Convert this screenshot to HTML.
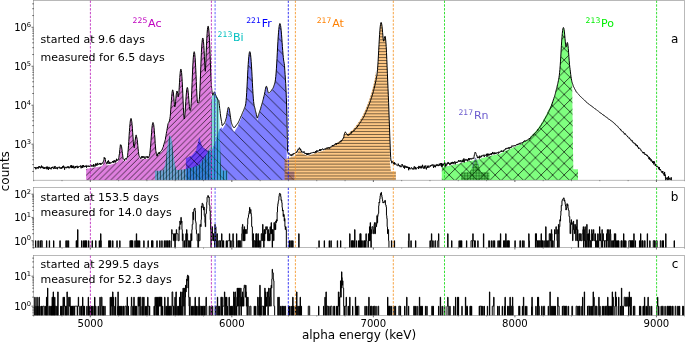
<!DOCTYPE html>
<html><head><meta charset="utf-8"><style>
html,body{margin:0;padding:0;background:#fff;}
body{width:685px;height:342px;overflow:hidden;}
svg{display:block;}
</style></head><body>
<svg width="685" height="342" viewBox="0 0 685 342">
<defs>
<clipPath id="cT"><rect x="33.5" y="0.5" width="651.0" height="179.7"/></clipPath>
<clipPath id="cM"><rect x="33.5" y="187.6" width="651.0" height="60.099999999999994"/></clipPath>
<clipPath id="cB"><rect x="33.5" y="255.5" width="651.0" height="60.0"/></clipPath>
<pattern id="hNE2" patternUnits="userSpaceOnUse" x="4.25" y="0" width="5.85" height="5.85"><path d="M-1,6.85 L6.85,-1 M-1,1 L1,-1 M4.85,6.85 L6.85,4.85 " stroke="rgba(0,0,0,0.78)" stroke-width="0.85"/></pattern>
<pattern id="hNW" patternUnits="userSpaceOnUse" x="10.1" y="0" width="11.5" height="11.5"><path d="M-1,-1 L12.5,12.5 M10.5,-1 L12.5,1 M-1,10.5 L1,12.5 " stroke="rgba(0,0,0,0.78)" stroke-width="0.85"/></pattern>
<pattern id="hX" patternUnits="userSpaceOnUse" x="6.4" y="-3.3" width="11.5" height="11.5"><path d="M-1,12.5 L12.5,-1 M-1,1 L1,-1 M10.5,12.5 L12.5,10.5 M-1,-1 L12.5,12.5 M10.5,-1 L12.5,1 M-1,10.5 L1,12.5 " stroke="rgba(0,0,0,0.78)" stroke-width="0.85"/></pattern>
<pattern id="hH" patternUnits="userSpaceOnUse" x="0" y="-0.15999999999999992" width="10" height="2.96"><path d="M0,1.48 H10" stroke="rgba(0,0,0,0.62)" stroke-width="0.85"/></pattern>
<pattern id="hV" patternUnits="userSpaceOnUse" x="-0.040000000000000036" y="0" width="3.0" height="10"><path d="M1.5,0 V10" stroke="rgba(0,0,0,0.62)" stroke-width="0.85"/></pattern>
<pattern id="hP" patternUnits="userSpaceOnUse" x="0" y="0" width="2.86" height="2.86"><path d="M1.43,0 V2.86 M0,1.43 H2.86" stroke="rgba(0,70,0,0.55)" stroke-width="0.8"/></pattern>
</defs>
<rect width="685" height="342" fill="#fff"/>
<g clip-path="url(#cT)">
<polygon points="86.10,180.20 86.10,168.60 86.60,168.94 86.90,168.88 87.20,168.83 87.50,168.77 87.80,168.71 88.10,168.66 88.40,168.60 88.70,168.54 89.00,168.49 89.30,168.43 89.60,168.37 89.90,168.32 90.20,168.26 90.50,168.20 90.80,168.15 91.10,168.09 91.40,168.03 91.70,167.98 92.00,167.92 92.30,167.87 92.60,167.81 92.90,167.75 93.20,167.70 93.50,167.64 93.80,167.58 94.10,167.53 94.40,167.47 94.70,167.42 95.00,167.36 95.30,167.32 95.60,167.28 95.90,167.24 96.20,167.20 96.50,167.16 96.80,167.12 97.10,167.08 97.40,167.04 97.70,167.00 98.00,166.96 98.30,166.92 98.60,166.87 98.90,166.83 99.20,166.79 99.50,166.75 99.80,166.71 100.10,166.67 100.40,166.62 100.70,166.57 101.00,166.52 101.30,166.46 101.60,166.40 101.90,166.30 102.20,166.12 102.50,165.79 102.80,165.21 103.10,164.30 103.40,163.09 103.70,161.76 104.00,160.58 104.30,159.84 104.50,159.67 104.60,159.69 104.90,160.18 105.20,161.16 105.50,162.37 105.80,163.54 106.10,164.44 106.40,165.02 106.70,165.31 107.00,165.42 107.30,165.43 107.60,165.41 107.90,165.36 108.20,165.29 108.50,165.21 108.80,165.13 109.10,165.05 109.40,164.96 109.70,164.88 110.00,164.80 110.30,164.71 110.60,164.63 110.90,164.55 111.20,164.47 111.50,164.38 111.80,164.30 112.10,164.21 112.40,164.11 112.70,164.01 113.00,163.90 113.30,163.80 113.60,163.70 113.90,163.60 114.20,163.50 114.50,163.40 114.80,163.29 115.10,163.19 115.40,163.09 115.70,162.99 116.00,162.89 116.30,162.79 116.60,162.68 116.90,162.57 117.20,162.45 117.50,162.29 117.80,162.10 118.10,161.74 118.40,161.04 118.70,159.84 119.00,158.03 119.30,155.64 119.60,152.91 119.90,150.19 120.20,147.86 120.50,146.21 120.80,145.41 120.90,145.36 121.10,145.56 121.40,146.62 121.70,148.48 122.00,150.91 122.30,153.59 122.60,156.15 122.90,158.25 123.20,159.73 123.50,160.63 123.80,161.09 124.10,161.29 124.40,161.36 124.70,161.29 125.00,161.18 125.30,161.05 125.60,160.92 125.90,160.77 126.20,160.60 126.50,160.38 126.80,160.02 127.10,159.40 127.40,158.31 127.70,156.46 128.00,153.63 128.30,149.84 128.60,145.22 128.90,140.18 129.20,135.17 129.50,130.54 129.80,126.53 130.10,123.30 130.40,120.94 130.70,119.50 131.00,119.02 131.00,119.02 131.30,119.50 131.60,120.93 131.90,123.28 132.20,126.49 132.50,130.45 132.80,134.96 133.10,139.67 133.40,144.00 133.70,147.17 134.00,148.49 134.30,147.86 134.60,145.83 134.90,143.18 135.20,140.56 135.50,138.38 135.80,136.88 136.10,136.17 136.20,136.12 136.40,136.32 136.70,137.30 137.00,139.08 137.30,141.54 137.60,144.50 137.90,147.71 138.20,150.86 138.50,153.63 138.80,155.81 139.10,157.32 139.40,158.26 139.70,158.77 140.00,159.03 140.30,159.14 140.60,159.18 140.90,159.18 141.20,159.18 141.50,159.17 141.80,159.15 142.10,159.14 142.40,159.12 142.70,159.11 143.00,159.10 143.30,159.08 143.60,159.07 143.90,159.05 144.20,159.04 144.50,159.02 144.80,159.01 145.10,159.00 145.40,158.98 145.70,158.97 146.00,158.95 146.30,158.94 146.60,158.92 146.90,158.91 147.20,158.89 147.50,158.88 147.80,158.86 148.10,158.82 148.40,158.76 148.70,158.63 149.00,158.34 149.30,157.72 149.60,156.60 149.90,154.77 150.20,152.04 150.50,148.44 150.80,144.20 151.10,139.71 151.40,135.34 151.70,131.40 152.00,128.09 152.30,125.56 152.60,123.88 152.90,123.11 153.00,123.05 153.20,123.25 153.50,124.31 153.80,126.25 154.10,129.01 154.40,132.50 154.70,136.52 155.00,140.85 155.30,145.11 155.60,148.94 155.90,151.99 156.20,154.14 156.50,155.34 156.80,155.86 157.10,155.99 157.40,155.92 157.70,155.73 158.00,155.51 158.30,155.26 158.60,155.01 158.90,154.75 159.20,154.49 159.50,154.24 159.80,153.98 160.10,153.69 160.40,153.33 160.70,152.97 161.00,152.61 161.30,152.25 161.60,151.89 161.90,151.54 162.20,151.18 162.50,150.17 162.80,149.17 163.10,148.16 163.40,147.16 163.70,146.16 164.00,145.16 164.30,144.17 164.60,143.18 164.90,142.18 165.20,140.69 165.50,138.95 165.80,137.21 166.10,135.48 166.40,133.75 166.70,132.02 167.00,130.30 167.30,128.58 167.60,126.86 167.90,125.14 168.20,124.16 168.50,123.54 168.80,122.90 169.10,122.21 169.40,121.37 169.70,120.23 170.00,118.54 170.30,116.02 170.60,112.56 170.90,108.30 171.20,103.81 171.50,99.48 171.80,95.69 172.10,92.78 172.40,90.96 172.70,90.32 172.70,90.32 173.00,90.90 173.30,92.65 173.60,95.44 173.90,98.99 174.20,102.78 174.50,105.99 174.80,107.62 175.10,107.03 175.40,104.52 175.70,101.03 176.00,97.47 176.30,94.53 176.60,92.48 176.90,91.50 177.00,91.42 177.20,91.64 177.50,92.79 177.80,94.65 178.10,96.50 178.40,97.17 178.70,95.53 179.00,91.54 179.30,86.32 179.60,81.06 179.90,76.48 180.20,72.95 180.50,70.63 180.80,69.57 180.90,69.51 181.10,69.81 181.40,71.35 181.70,74.18 182.00,78.26 182.30,83.49 182.60,89.72 182.90,96.65 183.20,103.79 183.50,110.38 183.80,115.55 184.10,118.69 184.40,119.37 184.70,117.57 185.00,114.21 185.30,109.78 185.60,104.87 185.90,100.03 186.20,95.70 186.50,92.18 186.80,89.66 187.10,88.23 187.30,87.92 187.40,87.95 187.70,88.80 188.00,90.71 188.30,93.56 188.60,97.11 188.90,101.01 189.20,104.78 189.50,107.91 189.80,110.04 190.10,111.05 190.40,110.96 190.70,109.67 191.00,106.83 191.30,102.20 191.60,95.72 191.90,88.11 192.20,80.28 192.50,72.90 192.80,66.40 193.10,61.01 193.40,56.85 193.70,53.97 194.00,52.41 194.20,52.10 194.30,52.17 194.60,53.27 194.90,55.68 195.20,59.37 195.50,64.28 195.80,70.28 196.10,77.12 196.40,84.36 196.70,91.27 197.00,96.96 197.30,100.80 197.60,102.83 197.90,103.60 198.20,103.68 198.50,103.38 198.80,102.74 199.10,101.51 199.40,99.13 199.70,94.93 200.00,88.67 200.30,80.97 200.60,72.64 200.90,64.53 201.20,57.20 201.50,50.92 201.80,45.85 202.10,42.07 202.40,39.60 202.70,38.48 202.80,38.40 203.00,38.70 203.30,40.27 203.60,43.16 203.90,47.36 204.20,52.76 204.50,59.13 204.80,65.76 205.10,70.78 205.40,71.20 205.70,66.20 206.00,58.49 206.30,50.53 206.60,43.36 206.90,37.35 207.20,32.62 207.50,29.23 207.80,27.18 208.10,26.50 208.10,26.50 208.40,27.16 208.70,29.17 209.00,32.51 209.30,37.15 209.60,43.01 209.90,49.93 210.20,57.60 210.50,65.92 210.80,73.96 210.90,76.42 210.90,88.00 210.90,180.20" fill="rgba(191,0,191,0.5)"/>
<polygon points="86.10,180.20 86.10,168.60 86.60,168.94 86.90,168.88 87.20,168.83 87.50,168.77 87.80,168.71 88.10,168.66 88.40,168.60 88.70,168.54 89.00,168.49 89.30,168.43 89.60,168.37 89.90,168.32 90.20,168.26 90.50,168.20 90.80,168.15 91.10,168.09 91.40,168.03 91.70,167.98 92.00,167.92 92.30,167.87 92.60,167.81 92.90,167.75 93.20,167.70 93.50,167.64 93.80,167.58 94.10,167.53 94.40,167.47 94.70,167.42 95.00,167.36 95.30,167.32 95.60,167.28 95.90,167.24 96.20,167.20 96.50,167.16 96.80,167.12 97.10,167.08 97.40,167.04 97.70,167.00 98.00,166.96 98.30,166.92 98.60,166.87 98.90,166.83 99.20,166.79 99.50,166.75 99.80,166.71 100.10,166.67 100.40,166.62 100.70,166.57 101.00,166.52 101.30,166.46 101.60,166.40 101.90,166.30 102.20,166.12 102.50,165.79 102.80,165.21 103.10,164.30 103.40,163.09 103.70,161.76 104.00,160.58 104.30,159.84 104.50,159.67 104.60,159.69 104.90,160.18 105.20,161.16 105.50,162.37 105.80,163.54 106.10,164.44 106.40,165.02 106.70,165.31 107.00,165.42 107.30,165.43 107.60,165.41 107.90,165.36 108.20,165.29 108.50,165.21 108.80,165.13 109.10,165.05 109.40,164.96 109.70,164.88 110.00,164.80 110.30,164.71 110.60,164.63 110.90,164.55 111.20,164.47 111.50,164.38 111.80,164.30 112.10,164.21 112.40,164.11 112.70,164.01 113.00,163.90 113.30,163.80 113.60,163.70 113.90,163.60 114.20,163.50 114.50,163.40 114.80,163.29 115.10,163.19 115.40,163.09 115.70,162.99 116.00,162.89 116.30,162.79 116.60,162.68 116.90,162.57 117.20,162.45 117.50,162.29 117.80,162.10 118.10,161.74 118.40,161.04 118.70,159.84 119.00,158.03 119.30,155.64 119.60,152.91 119.90,150.19 120.20,147.86 120.50,146.21 120.80,145.41 120.90,145.36 121.10,145.56 121.40,146.62 121.70,148.48 122.00,150.91 122.30,153.59 122.60,156.15 122.90,158.25 123.20,159.73 123.50,160.63 123.80,161.09 124.10,161.29 124.40,161.36 124.70,161.29 125.00,161.18 125.30,161.05 125.60,160.92 125.90,160.77 126.20,160.60 126.50,160.38 126.80,160.02 127.10,159.40 127.40,158.31 127.70,156.46 128.00,153.63 128.30,149.84 128.60,145.22 128.90,140.18 129.20,135.17 129.50,130.54 129.80,126.53 130.10,123.30 130.40,120.94 130.70,119.50 131.00,119.02 131.00,119.02 131.30,119.50 131.60,120.93 131.90,123.28 132.20,126.49 132.50,130.45 132.80,134.96 133.10,139.67 133.40,144.00 133.70,147.17 134.00,148.49 134.30,147.86 134.60,145.83 134.90,143.18 135.20,140.56 135.50,138.38 135.80,136.88 136.10,136.17 136.20,136.12 136.40,136.32 136.70,137.30 137.00,139.08 137.30,141.54 137.60,144.50 137.90,147.71 138.20,150.86 138.50,153.63 138.80,155.81 139.10,157.32 139.40,158.26 139.70,158.77 140.00,159.03 140.30,159.14 140.60,159.18 140.90,159.18 141.20,159.18 141.50,159.17 141.80,159.15 142.10,159.14 142.40,159.12 142.70,159.11 143.00,159.10 143.30,159.08 143.60,159.07 143.90,159.05 144.20,159.04 144.50,159.02 144.80,159.01 145.10,159.00 145.40,158.98 145.70,158.97 146.00,158.95 146.30,158.94 146.60,158.92 146.90,158.91 147.20,158.89 147.50,158.88 147.80,158.86 148.10,158.82 148.40,158.76 148.70,158.63 149.00,158.34 149.30,157.72 149.60,156.60 149.90,154.77 150.20,152.04 150.50,148.44 150.80,144.20 151.10,139.71 151.40,135.34 151.70,131.40 152.00,128.09 152.30,125.56 152.60,123.88 152.90,123.11 153.00,123.05 153.20,123.25 153.50,124.31 153.80,126.25 154.10,129.01 154.40,132.50 154.70,136.52 155.00,140.85 155.30,145.11 155.60,148.94 155.90,151.99 156.20,154.14 156.50,155.34 156.80,155.86 157.10,155.99 157.40,155.92 157.70,155.73 158.00,155.51 158.30,155.26 158.60,155.01 158.90,154.75 159.20,154.49 159.50,154.24 159.80,153.98 160.10,153.69 160.40,153.33 160.70,152.97 161.00,152.61 161.30,152.25 161.60,151.89 161.90,151.54 162.20,151.18 162.50,150.17 162.80,149.17 163.10,148.16 163.40,147.16 163.70,146.16 164.00,145.16 164.30,144.17 164.60,143.18 164.90,142.18 165.20,140.69 165.50,138.95 165.80,137.21 166.10,135.48 166.40,133.75 166.70,132.02 167.00,130.30 167.30,128.58 167.60,126.86 167.90,125.14 168.20,124.16 168.50,123.54 168.80,122.90 169.10,122.21 169.40,121.37 169.70,120.23 170.00,118.54 170.30,116.02 170.60,112.56 170.90,108.30 171.20,103.81 171.50,99.48 171.80,95.69 172.10,92.78 172.40,90.96 172.70,90.32 172.70,90.32 173.00,90.90 173.30,92.65 173.60,95.44 173.90,98.99 174.20,102.78 174.50,105.99 174.80,107.62 175.10,107.03 175.40,104.52 175.70,101.03 176.00,97.47 176.30,94.53 176.60,92.48 176.90,91.50 177.00,91.42 177.20,91.64 177.50,92.79 177.80,94.65 178.10,96.50 178.40,97.17 178.70,95.53 179.00,91.54 179.30,86.32 179.60,81.06 179.90,76.48 180.20,72.95 180.50,70.63 180.80,69.57 180.90,69.51 181.10,69.81 181.40,71.35 181.70,74.18 182.00,78.26 182.30,83.49 182.60,89.72 182.90,96.65 183.20,103.79 183.50,110.38 183.80,115.55 184.10,118.69 184.40,119.37 184.70,117.57 185.00,114.21 185.30,109.78 185.60,104.87 185.90,100.03 186.20,95.70 186.50,92.18 186.80,89.66 187.10,88.23 187.30,87.92 187.40,87.95 187.70,88.80 188.00,90.71 188.30,93.56 188.60,97.11 188.90,101.01 189.20,104.78 189.50,107.91 189.80,110.04 190.10,111.05 190.40,110.96 190.70,109.67 191.00,106.83 191.30,102.20 191.60,95.72 191.90,88.11 192.20,80.28 192.50,72.90 192.80,66.40 193.10,61.01 193.40,56.85 193.70,53.97 194.00,52.41 194.20,52.10 194.30,52.17 194.60,53.27 194.90,55.68 195.20,59.37 195.50,64.28 195.80,70.28 196.10,77.12 196.40,84.36 196.70,91.27 197.00,96.96 197.30,100.80 197.60,102.83 197.90,103.60 198.20,103.68 198.50,103.38 198.80,102.74 199.10,101.51 199.40,99.13 199.70,94.93 200.00,88.67 200.30,80.97 200.60,72.64 200.90,64.53 201.20,57.20 201.50,50.92 201.80,45.85 202.10,42.07 202.40,39.60 202.70,38.48 202.80,38.40 203.00,38.70 203.30,40.27 203.60,43.16 203.90,47.36 204.20,52.76 204.50,59.13 204.80,65.76 205.10,70.78 205.40,71.20 205.70,66.20 206.00,58.49 206.30,50.53 206.60,43.36 206.90,37.35 207.20,32.62 207.50,29.23 207.80,27.18 208.10,26.50 208.10,26.50 208.40,27.16 208.70,29.17 209.00,32.51 209.30,37.15 209.60,43.01 209.90,49.93 210.20,57.60 210.50,65.92 210.80,73.96 210.90,76.42 210.90,88.00 210.90,180.20" fill="url(#hNE2)"/>
<polygon points="185.90,180.20 185.90,158.20 191.80,155.40 196.00,150.50 198.10,142.00 199.50,137.10 201.00,143.40 203.00,147.60 206.00,149.50 209.00,151.50 211.00,152.00 215.00,143.00 219.00,130.00 221.50,127.00 222.50,128.98 222.80,128.50 223.10,128.03 223.40,127.55 223.70,127.07 224.00,126.60 224.30,126.11 224.60,125.59 224.90,125.00 225.20,124.30 225.50,123.40 225.80,122.23 226.10,120.91 226.40,119.53 226.70,117.75 227.00,115.70 227.30,113.58 227.60,111.63 227.90,110.04 228.20,108.96 228.50,108.49 228.60,108.48 228.80,108.68 229.10,109.53 229.40,110.99 229.70,112.97 230.00,115.32 230.30,117.85 230.60,120.33 230.90,122.56 231.20,124.51 231.50,126.10 231.80,127.31 232.10,128.22 232.40,128.92 232.70,129.51 233.00,130.02 233.30,130.51 233.60,130.98 233.90,131.44 234.20,131.90 234.50,131.42 234.80,130.93 235.10,130.45 235.40,129.97 235.70,129.50 236.00,129.02 236.30,128.55 236.60,128.08 236.90,127.61 237.20,127.14 237.50,126.68 237.80,126.22 238.10,125.65 238.40,124.86 238.70,124.08 239.00,123.31 239.30,122.54 239.60,121.78 239.90,121.01 240.20,120.26 240.50,119.50 240.80,118.75 241.10,118.01 241.40,117.26 241.70,116.52 242.00,115.78 242.30,115.03 242.60,114.29 242.90,113.54 243.20,112.80 243.50,112.06 243.80,111.32 244.10,110.58 244.40,109.82 244.70,109.06 245.00,108.21 245.30,107.16 245.60,105.72 245.90,103.62 246.20,100.58 246.50,96.42 246.80,91.38 247.10,85.59 247.40,79.53 247.70,73.62 248.00,68.16 248.30,63.36 248.60,59.32 248.90,56.13 249.20,53.82 249.50,52.42 249.80,51.94 249.80,51.94 250.10,52.41 250.40,53.80 250.70,56.09 251.00,59.27 251.30,63.28 251.60,68.04 251.90,73.43 252.20,79.23 252.50,85.12 252.80,90.85 253.10,96.02 253.40,100.22 253.70,103.37 254.00,105.61 254.30,107.23 254.60,108.46 254.90,109.66 255.20,111.07 255.50,112.45 255.80,113.82 256.10,115.19 256.40,116.57 256.70,117.96 257.00,119.35 257.30,120.76 257.60,119.76 257.90,118.77 258.20,117.79 258.50,116.81 258.80,115.83 259.10,114.86 259.40,113.90 259.70,112.94 260.00,111.98 260.30,111.03 260.60,110.01 260.90,108.89 261.20,107.77 261.50,106.65 261.80,105.54 262.10,104.42 262.40,103.31 262.70,102.19 263.00,101.05 263.30,99.86 263.60,98.58 263.90,97.16 264.20,96.17 264.50,94.89 264.80,93.32 265.10,91.58 265.40,89.85 265.70,88.37 266.00,87.30 266.30,86.78 266.30,86.78 266.60,87.06 266.90,87.86 267.20,89.04 267.50,90.40 267.80,91.72 268.10,92.84 268.40,93.66 268.70,93.84 269.00,93.78 269.30,93.57 269.60,93.28 269.90,92.95 270.20,92.61 270.50,92.26 270.80,91.90 271.10,91.52 271.40,91.08 271.70,90.65 272.00,90.21 272.30,89.77 272.60,89.34 272.90,88.90 273.20,88.34 273.50,87.53 273.80,86.72 274.10,85.90 274.40,85.06 274.70,84.15 275.00,83.11 275.30,81.13 275.60,78.76 275.90,75.81 276.20,72.10 276.50,67.70 276.80,62.54 277.10,56.92 277.40,51.16 277.70,45.57 278.00,40.40 278.30,35.80 278.60,31.88 278.90,28.69 279.20,26.28 279.50,24.68 279.80,23.89 279.90,23.81 280.10,23.97 280.40,24.89 280.70,26.58 281.00,29.02 281.30,32.14 281.60,35.82 281.90,39.90 282.20,44.15 282.50,48.25 282.80,52.08 283.10,55.72 283.40,58.69 283.70,60.99 284.00,62.73 284.30,64.07 284.60,67.53 284.90,72.08 285.00,73.58 285.80,86.00 286.70,100.00 286.70,171.50 294.40,171.50 294.40,180.20" fill="rgba(0,0,255,0.5)"/>
<polygon points="185.90,180.20 185.90,158.20 191.80,155.40 196.00,150.50 198.10,142.00 199.50,137.10 201.00,143.40 203.00,147.60 206.00,149.50 209.00,151.50 211.00,152.00 215.00,143.00 219.00,130.00 221.50,127.00 222.50,128.98 222.80,128.50 223.10,128.03 223.40,127.55 223.70,127.07 224.00,126.60 224.30,126.11 224.60,125.59 224.90,125.00 225.20,124.30 225.50,123.40 225.80,122.23 226.10,120.91 226.40,119.53 226.70,117.75 227.00,115.70 227.30,113.58 227.60,111.63 227.90,110.04 228.20,108.96 228.50,108.49 228.60,108.48 228.80,108.68 229.10,109.53 229.40,110.99 229.70,112.97 230.00,115.32 230.30,117.85 230.60,120.33 230.90,122.56 231.20,124.51 231.50,126.10 231.80,127.31 232.10,128.22 232.40,128.92 232.70,129.51 233.00,130.02 233.30,130.51 233.60,130.98 233.90,131.44 234.20,131.90 234.50,131.42 234.80,130.93 235.10,130.45 235.40,129.97 235.70,129.50 236.00,129.02 236.30,128.55 236.60,128.08 236.90,127.61 237.20,127.14 237.50,126.68 237.80,126.22 238.10,125.65 238.40,124.86 238.70,124.08 239.00,123.31 239.30,122.54 239.60,121.78 239.90,121.01 240.20,120.26 240.50,119.50 240.80,118.75 241.10,118.01 241.40,117.26 241.70,116.52 242.00,115.78 242.30,115.03 242.60,114.29 242.90,113.54 243.20,112.80 243.50,112.06 243.80,111.32 244.10,110.58 244.40,109.82 244.70,109.06 245.00,108.21 245.30,107.16 245.60,105.72 245.90,103.62 246.20,100.58 246.50,96.42 246.80,91.38 247.10,85.59 247.40,79.53 247.70,73.62 248.00,68.16 248.30,63.36 248.60,59.32 248.90,56.13 249.20,53.82 249.50,52.42 249.80,51.94 249.80,51.94 250.10,52.41 250.40,53.80 250.70,56.09 251.00,59.27 251.30,63.28 251.60,68.04 251.90,73.43 252.20,79.23 252.50,85.12 252.80,90.85 253.10,96.02 253.40,100.22 253.70,103.37 254.00,105.61 254.30,107.23 254.60,108.46 254.90,109.66 255.20,111.07 255.50,112.45 255.80,113.82 256.10,115.19 256.40,116.57 256.70,117.96 257.00,119.35 257.30,120.76 257.60,119.76 257.90,118.77 258.20,117.79 258.50,116.81 258.80,115.83 259.10,114.86 259.40,113.90 259.70,112.94 260.00,111.98 260.30,111.03 260.60,110.01 260.90,108.89 261.20,107.77 261.50,106.65 261.80,105.54 262.10,104.42 262.40,103.31 262.70,102.19 263.00,101.05 263.30,99.86 263.60,98.58 263.90,97.16 264.20,96.17 264.50,94.89 264.80,93.32 265.10,91.58 265.40,89.85 265.70,88.37 266.00,87.30 266.30,86.78 266.30,86.78 266.60,87.06 266.90,87.86 267.20,89.04 267.50,90.40 267.80,91.72 268.10,92.84 268.40,93.66 268.70,93.84 269.00,93.78 269.30,93.57 269.60,93.28 269.90,92.95 270.20,92.61 270.50,92.26 270.80,91.90 271.10,91.52 271.40,91.08 271.70,90.65 272.00,90.21 272.30,89.77 272.60,89.34 272.90,88.90 273.20,88.34 273.50,87.53 273.80,86.72 274.10,85.90 274.40,85.06 274.70,84.15 275.00,83.11 275.30,81.13 275.60,78.76 275.90,75.81 276.20,72.10 276.50,67.70 276.80,62.54 277.10,56.92 277.40,51.16 277.70,45.57 278.00,40.40 278.30,35.80 278.60,31.88 278.90,28.69 279.20,26.28 279.50,24.68 279.80,23.89 279.90,23.81 280.10,23.97 280.40,24.89 280.70,26.58 281.00,29.02 281.30,32.14 281.60,35.82 281.90,39.90 282.20,44.15 282.50,48.25 282.80,52.08 283.10,55.72 283.40,58.69 283.70,60.99 284.00,62.73 284.30,64.07 284.60,67.53 284.90,72.08 285.00,73.58 285.80,86.00 286.70,100.00 286.70,171.50 294.40,171.50 294.40,180.20" fill="url(#hNW)"/>
<polygon points="284.60,180.20 284.60,159.60 290.00,157.50 295.00,155.80 297.50,153.00 298.60,150.50 299.40,149.50 300.30,150.50 301.50,152.70 301.80,153.07 302.10,153.33 302.40,153.52 302.70,153.68 303.00,153.82 303.30,153.94 303.60,154.06 303.90,154.18 304.20,154.29 304.50,154.41 304.80,154.52 305.10,154.64 305.40,154.75 305.70,154.91 306.00,155.08 306.30,155.24 306.60,155.41 306.90,155.58 307.20,155.75 307.50,155.84 307.80,155.74 308.10,155.64 308.40,155.54 308.70,155.44 309.00,155.34 309.30,155.25 309.60,155.15 309.90,155.05 310.20,154.95 310.50,154.86 310.80,154.76 311.10,154.66 311.40,154.56 311.70,154.47 312.00,154.37 312.30,154.27 312.60,154.17 312.90,154.08 313.20,153.98 313.50,153.88 313.80,153.78 314.10,153.68 314.40,153.57 314.70,153.47 315.00,153.37 315.30,153.27 315.60,153.17 315.90,153.07 316.20,152.97 316.50,152.88 316.80,152.78 317.10,152.68 317.40,152.58 317.70,152.48 318.00,152.38 318.30,152.28 318.60,152.18 318.90,152.08 319.20,151.98 319.50,151.88 319.80,151.78 320.10,151.68 320.40,151.58 320.70,151.48 321.00,151.38 321.30,151.29 321.60,151.19 321.90,151.09 322.20,151.00 322.50,150.90 322.80,150.81 323.10,150.71 323.40,150.61 323.70,150.52 324.00,150.42 324.30,150.33 324.60,150.23 324.90,150.14 325.00,150.10 325.00,148.79 325.30,148.70 325.60,148.61 325.90,148.52 326.20,148.43 326.50,148.34 326.80,148.25 327.10,148.16 327.40,148.07 327.70,147.98 328.00,147.89 328.30,147.80 328.60,147.71 328.90,147.62 329.20,147.52 329.50,147.43 329.80,147.34 330.10,147.25 330.40,147.16 330.70,147.07 331.00,146.98 331.30,146.89 331.60,146.80 331.90,146.62 332.20,146.45 332.50,146.27 332.80,146.10 333.10,145.92 333.40,145.75 333.70,145.57 334.00,145.40 334.30,145.22 334.60,145.04 334.90,144.87 335.00,144.81 335.00,144.01 335.30,143.84 335.60,143.66 335.90,143.48 336.20,143.31 336.50,143.13 336.80,142.96 337.10,142.78 337.40,142.61 337.70,142.43 338.00,142.26 338.30,142.08 338.60,141.90 338.90,141.73 339.20,141.55 339.50,141.38 339.80,141.20 340.10,141.03 340.40,140.85 340.70,140.68 341.00,140.50 341.30,140.20 341.60,139.89 341.90,139.58 342.20,139.24 342.50,138.86 342.80,138.40 343.10,137.81 343.40,137.05 343.70,136.11 344.00,135.02 344.30,133.86 344.60,132.77 344.90,131.91 345.00,131.69 345.00,132.51 345.30,133.18 345.60,133.74 345.90,134.11 346.20,134.30 346.50,134.32 346.80,134.23 347.10,134.09 347.40,133.92 347.70,133.73 348.00,133.53 348.30,133.33 348.60,133.13 348.90,132.93 349.20,132.73 349.50,132.53 349.80,132.31 350.10,132.05 350.40,131.79 350.70,131.54 351.00,131.28 351.30,131.02 351.60,130.76 351.90,130.50 352.20,130.24 352.50,129.98 352.80,129.72 353.10,129.46 353.40,129.20 353.70,128.82 354.00,128.44 354.30,128.05 354.60,127.67 354.90,127.29 355.20,126.91 355.50,126.53 355.80,126.15 356.10,125.76 356.40,125.38 356.70,125.00 357.00,124.57 357.30,124.14 357.60,123.71 357.90,123.28 358.20,122.85 358.50,122.42 358.80,121.99 359.10,121.56 359.40,121.13 359.70,120.70 360.00,120.20 360.30,119.70 360.60,119.20 360.90,118.70 361.20,118.20 361.50,117.70 361.80,117.20 362.10,116.70 362.40,116.20 362.70,115.70 363.00,115.05 363.30,114.40 363.60,113.74 363.90,113.09 364.20,112.44 364.50,111.79 364.80,111.13 365.10,110.45 365.40,109.71 365.70,108.96 366.00,108.21 366.30,107.47 366.60,106.72 366.90,105.98 367.20,105.23 367.50,104.48 367.80,103.74 368.10,102.99 368.40,102.25 368.70,101.50 369.00,100.57 369.30,99.64 369.60,98.71 369.90,97.78 370.20,96.85 370.50,95.92 370.80,94.99 371.10,94.06 371.40,93.13 371.70,92.20 372.00,91.00 372.30,89.80 372.60,88.60 372.90,87.40 373.20,86.20 373.50,85.00 373.80,83.73 374.10,82.31 374.40,80.89 374.70,79.44 375.00,77.95 375.30,76.34 375.60,74.36 375.90,71.93 376.00,71.00 376.00,80.54 376.30,79.05 376.60,77.44 376.90,75.46 377.20,73.03 377.50,70.01 377.80,66.22 378.10,61.59 378.40,56.26 378.70,50.56 379.00,44.92 379.30,39.54 379.60,34.70 379.90,30.55 380.20,27.25 380.50,24.82 380.80,23.31 381.10,22.70 381.10,22.70 381.40,23.09 381.70,24.37 382.00,26.47 382.30,29.29 382.60,32.64 382.90,36.23 383.20,39.37 383.50,41.31 383.80,41.53 384.10,40.36 384.40,38.69 384.70,37.22 385.00,36.57 385.10,36.60 385.30,37.25 385.60,39.27 385.90,42.51 386.20,46.78 386.50,52.69 386.80,59.73 387.10,67.06 387.40,74.17 387.70,81.56 388.00,88.84 388.30,95.61 388.60,102.78 388.90,111.28 389.20,119.70 389.50,127.98 389.80,136.10 389.90,138.80 389.90,150.00 389.90,162.70 391.00,171.20 395.90,171.20 395.90,180.20" fill="rgba(255,145,10,0.5)"/>
<polygon points="284.60,180.20 284.60,159.60 290.00,157.50 295.00,155.80 297.50,153.00 298.60,150.50 299.40,149.50 300.30,150.50 301.50,152.70 301.80,153.07 302.10,153.33 302.40,153.52 302.70,153.68 303.00,153.82 303.30,153.94 303.60,154.06 303.90,154.18 304.20,154.29 304.50,154.41 304.80,154.52 305.10,154.64 305.40,154.75 305.70,154.91 306.00,155.08 306.30,155.24 306.60,155.41 306.90,155.58 307.20,155.75 307.50,155.84 307.80,155.74 308.10,155.64 308.40,155.54 308.70,155.44 309.00,155.34 309.30,155.25 309.60,155.15 309.90,155.05 310.20,154.95 310.50,154.86 310.80,154.76 311.10,154.66 311.40,154.56 311.70,154.47 312.00,154.37 312.30,154.27 312.60,154.17 312.90,154.08 313.20,153.98 313.50,153.88 313.80,153.78 314.10,153.68 314.40,153.57 314.70,153.47 315.00,153.37 315.30,153.27 315.60,153.17 315.90,153.07 316.20,152.97 316.50,152.88 316.80,152.78 317.10,152.68 317.40,152.58 317.70,152.48 318.00,152.38 318.30,152.28 318.60,152.18 318.90,152.08 319.20,151.98 319.50,151.88 319.80,151.78 320.10,151.68 320.40,151.58 320.70,151.48 321.00,151.38 321.30,151.29 321.60,151.19 321.90,151.09 322.20,151.00 322.50,150.90 322.80,150.81 323.10,150.71 323.40,150.61 323.70,150.52 324.00,150.42 324.30,150.33 324.60,150.23 324.90,150.14 325.00,150.10 325.00,148.79 325.30,148.70 325.60,148.61 325.90,148.52 326.20,148.43 326.50,148.34 326.80,148.25 327.10,148.16 327.40,148.07 327.70,147.98 328.00,147.89 328.30,147.80 328.60,147.71 328.90,147.62 329.20,147.52 329.50,147.43 329.80,147.34 330.10,147.25 330.40,147.16 330.70,147.07 331.00,146.98 331.30,146.89 331.60,146.80 331.90,146.62 332.20,146.45 332.50,146.27 332.80,146.10 333.10,145.92 333.40,145.75 333.70,145.57 334.00,145.40 334.30,145.22 334.60,145.04 334.90,144.87 335.00,144.81 335.00,144.01 335.30,143.84 335.60,143.66 335.90,143.48 336.20,143.31 336.50,143.13 336.80,142.96 337.10,142.78 337.40,142.61 337.70,142.43 338.00,142.26 338.30,142.08 338.60,141.90 338.90,141.73 339.20,141.55 339.50,141.38 339.80,141.20 340.10,141.03 340.40,140.85 340.70,140.68 341.00,140.50 341.30,140.20 341.60,139.89 341.90,139.58 342.20,139.24 342.50,138.86 342.80,138.40 343.10,137.81 343.40,137.05 343.70,136.11 344.00,135.02 344.30,133.86 344.60,132.77 344.90,131.91 345.00,131.69 345.00,132.51 345.30,133.18 345.60,133.74 345.90,134.11 346.20,134.30 346.50,134.32 346.80,134.23 347.10,134.09 347.40,133.92 347.70,133.73 348.00,133.53 348.30,133.33 348.60,133.13 348.90,132.93 349.20,132.73 349.50,132.53 349.80,132.31 350.10,132.05 350.40,131.79 350.70,131.54 351.00,131.28 351.30,131.02 351.60,130.76 351.90,130.50 352.20,130.24 352.50,129.98 352.80,129.72 353.10,129.46 353.40,129.20 353.70,128.82 354.00,128.44 354.30,128.05 354.60,127.67 354.90,127.29 355.20,126.91 355.50,126.53 355.80,126.15 356.10,125.76 356.40,125.38 356.70,125.00 357.00,124.57 357.30,124.14 357.60,123.71 357.90,123.28 358.20,122.85 358.50,122.42 358.80,121.99 359.10,121.56 359.40,121.13 359.70,120.70 360.00,120.20 360.30,119.70 360.60,119.20 360.90,118.70 361.20,118.20 361.50,117.70 361.80,117.20 362.10,116.70 362.40,116.20 362.70,115.70 363.00,115.05 363.30,114.40 363.60,113.74 363.90,113.09 364.20,112.44 364.50,111.79 364.80,111.13 365.10,110.45 365.40,109.71 365.70,108.96 366.00,108.21 366.30,107.47 366.60,106.72 366.90,105.98 367.20,105.23 367.50,104.48 367.80,103.74 368.10,102.99 368.40,102.25 368.70,101.50 369.00,100.57 369.30,99.64 369.60,98.71 369.90,97.78 370.20,96.85 370.50,95.92 370.80,94.99 371.10,94.06 371.40,93.13 371.70,92.20 372.00,91.00 372.30,89.80 372.60,88.60 372.90,87.40 373.20,86.20 373.50,85.00 373.80,83.73 374.10,82.31 374.40,80.89 374.70,79.44 375.00,77.95 375.30,76.34 375.60,74.36 375.90,71.93 376.00,71.00 376.00,80.54 376.30,79.05 376.60,77.44 376.90,75.46 377.20,73.03 377.50,70.01 377.80,66.22 378.10,61.59 378.40,56.26 378.70,50.56 379.00,44.92 379.30,39.54 379.60,34.70 379.90,30.55 380.20,27.25 380.50,24.82 380.80,23.31 381.10,22.70 381.10,22.70 381.40,23.09 381.70,24.37 382.00,26.47 382.30,29.29 382.60,32.64 382.90,36.23 383.20,39.37 383.50,41.31 383.80,41.53 384.10,40.36 384.40,38.69 384.70,37.22 385.00,36.57 385.10,36.60 385.30,37.25 385.60,39.27 385.90,42.51 386.20,46.78 386.50,52.69 386.80,59.73 387.10,67.06 387.40,74.17 387.70,81.56 388.00,88.84 388.30,95.61 388.60,102.78 388.90,111.28 389.20,119.70 389.50,127.98 389.80,136.10 389.90,138.80 389.90,150.00 389.90,162.70 391.00,171.20 395.90,171.20 395.90,180.20" fill="url(#hH)"/>
<polygon points="155.00,180.20 155.00,170.70 155.25,170.70 155.50,170.69 155.75,170.69 156.00,170.69 156.25,170.68 156.50,170.68 156.75,170.67 157.00,170.67 157.25,170.67 157.50,170.66 157.75,170.66 158.00,170.66 158.25,170.65 158.50,170.65 158.75,170.65 159.00,170.64 159.25,170.64 159.50,170.64 159.75,170.63 160.00,170.63 160.25,170.62 160.50,170.62 160.75,170.61 161.00,170.60 161.25,170.59 161.50,170.57 161.75,170.55 162.00,170.52 162.25,170.47 162.50,170.40 162.75,170.29 163.00,170.14 163.25,169.93 163.50,169.64 163.75,169.24 164.00,168.71 164.25,168.02 164.50,167.15 164.75,166.09 165.00,164.81 165.25,163.32 165.50,161.64 165.75,159.79 166.00,157.81 166.25,155.75 166.50,153.63 166.75,151.52 167.00,149.43 167.25,147.42 167.50,145.51 167.75,143.73 168.00,142.09 168.25,140.61 168.50,139.30 168.75,138.19 169.00,137.26 169.25,136.54 169.50,136.02 169.75,135.70 170.00,135.60 170.25,135.70 170.50,136.02 170.75,136.53 171.00,137.26 171.25,138.18 171.50,139.30 171.75,140.60 172.00,142.08 172.25,143.71 172.50,145.50 172.75,147.40 173.00,149.41 173.25,151.49 173.50,153.60 173.75,155.70 174.00,157.76 174.25,159.73 174.50,161.56 174.75,163.23 175.00,164.71 175.25,165.97 175.50,167.03 175.75,167.88 176.00,168.56 176.25,169.04 176.50,169.40 176.75,169.65 177.00,169.82 177.25,169.93 177.50,170.00 177.75,170.03 178.00,170.04 178.25,170.03 178.50,170.02 178.75,170.00 179.00,169.97 179.25,169.94 179.50,169.91 179.75,169.87 180.00,169.84 180.25,169.80 180.50,169.77 180.75,169.73 181.00,169.70 181.25,169.66 181.50,169.63 181.75,169.59 182.00,169.56 182.25,169.52 182.50,169.49 182.75,169.45 183.00,169.42 183.25,169.38 183.50,169.35 183.75,169.31 184.00,169.28 184.25,169.24 184.50,169.21 184.75,169.17 185.00,169.14 185.25,169.10 185.50,169.07 185.75,169.03 186.00,169.00 192.00,167.50 198.80,165.20 205.90,155.40 210.00,147.60 210.80,147.20 210.90,102.00 212.00,96.50 213.40,94.00 214.40,93.20 215.60,94.50 217.50,97.50 218.70,101.00 219.40,120.00 220.20,150.00 221.00,166.00 222.50,170.50 227.50,170.70 227.50,180.20" fill="rgba(0,191,191,0.5)"/>
<polygon points="155.00,180.20 155.00,170.70 155.25,170.70 155.50,170.69 155.75,170.69 156.00,170.69 156.25,170.68 156.50,170.68 156.75,170.67 157.00,170.67 157.25,170.67 157.50,170.66 157.75,170.66 158.00,170.66 158.25,170.65 158.50,170.65 158.75,170.65 159.00,170.64 159.25,170.64 159.50,170.64 159.75,170.63 160.00,170.63 160.25,170.62 160.50,170.62 160.75,170.61 161.00,170.60 161.25,170.59 161.50,170.57 161.75,170.55 162.00,170.52 162.25,170.47 162.50,170.40 162.75,170.29 163.00,170.14 163.25,169.93 163.50,169.64 163.75,169.24 164.00,168.71 164.25,168.02 164.50,167.15 164.75,166.09 165.00,164.81 165.25,163.32 165.50,161.64 165.75,159.79 166.00,157.81 166.25,155.75 166.50,153.63 166.75,151.52 167.00,149.43 167.25,147.42 167.50,145.51 167.75,143.73 168.00,142.09 168.25,140.61 168.50,139.30 168.75,138.19 169.00,137.26 169.25,136.54 169.50,136.02 169.75,135.70 170.00,135.60 170.25,135.70 170.50,136.02 170.75,136.53 171.00,137.26 171.25,138.18 171.50,139.30 171.75,140.60 172.00,142.08 172.25,143.71 172.50,145.50 172.75,147.40 173.00,149.41 173.25,151.49 173.50,153.60 173.75,155.70 174.00,157.76 174.25,159.73 174.50,161.56 174.75,163.23 175.00,164.71 175.25,165.97 175.50,167.03 175.75,167.88 176.00,168.56 176.25,169.04 176.50,169.40 176.75,169.65 177.00,169.82 177.25,169.93 177.50,170.00 177.75,170.03 178.00,170.04 178.25,170.03 178.50,170.02 178.75,170.00 179.00,169.97 179.25,169.94 179.50,169.91 179.75,169.87 180.00,169.84 180.25,169.80 180.50,169.77 180.75,169.73 181.00,169.70 181.25,169.66 181.50,169.63 181.75,169.59 182.00,169.56 182.25,169.52 182.50,169.49 182.75,169.45 183.00,169.42 183.25,169.38 183.50,169.35 183.75,169.31 184.00,169.28 184.25,169.24 184.50,169.21 184.75,169.17 185.00,169.14 185.25,169.10 185.50,169.07 185.75,169.03 186.00,169.00 192.00,167.50 198.80,165.20 205.90,155.40 210.00,147.60 210.80,147.20 210.90,102.00 212.00,96.50 213.40,94.00 214.40,93.20 215.60,94.50 217.50,97.50 218.70,101.00 219.40,120.00 220.20,150.00 221.00,166.00 222.50,170.50 227.50,170.70 227.50,180.20" fill="url(#hV)"/>
<polygon points="441.80,180.20 441.80,165.00 442.50,167.14 442.80,167.09 443.10,167.05 443.40,167.00 443.70,166.96 444.00,166.91 444.30,166.85 444.60,166.78 444.90,166.72 445.20,166.65 445.50,166.59 445.80,166.52 446.10,166.46 446.40,166.39 446.70,166.33 447.00,166.26 447.30,166.20 447.60,166.13 447.90,166.07 448.20,166.01 448.50,165.94 448.80,165.88 449.10,165.81 449.40,165.75 449.70,165.68 450.00,165.62 450.30,165.55 450.60,165.49 450.90,165.43 451.20,165.36 451.50,165.30 451.80,165.23 452.10,165.17 452.40,165.10 452.70,165.04 453.00,164.98 453.30,164.91 453.60,164.85 453.90,164.78 454.20,164.72 454.50,164.66 454.80,164.59 455.10,164.53 455.40,164.46 455.70,164.40 456.00,164.34 456.30,164.27 456.60,164.21 456.90,164.14 457.20,164.08 457.50,164.02 457.80,163.95 458.10,163.89 458.40,163.83 458.70,163.75 459.00,163.68 459.30,163.60 459.60,163.53 459.90,163.45 460.20,163.37 460.50,163.30 460.80,163.22 461.10,163.14 461.40,163.07 461.70,162.99 462.00,162.92 462.30,162.84 462.60,162.76 462.90,162.69 463.20,162.61 463.50,162.54 463.80,162.46 464.10,162.38 464.40,162.31 464.70,162.23 465.00,162.16 465.30,162.08 465.60,162.01 465.90,161.93 466.20,161.85 466.50,161.78 466.80,161.70 467.10,161.63 467.40,161.55 467.70,161.48 468.00,161.40 468.30,161.33 468.60,161.26 468.90,161.18 469.20,161.11 469.50,161.04 469.80,160.97 470.00,160.92 470.00,161.00 481.00,159.00 481.00,158.28 481.30,158.20 481.60,158.13 481.90,158.05 482.20,157.98 482.50,157.90 482.80,157.83 483.10,157.75 483.40,157.68 483.70,157.60 484.00,157.53 484.30,157.45 484.60,157.38 484.90,157.30 485.20,157.23 485.50,157.15 485.80,157.08 486.10,157.00 486.40,156.93 486.70,156.85 487.00,156.78 487.30,156.70 487.60,156.63 487.90,156.56 488.20,156.48 488.50,156.41 488.80,156.33 489.10,156.26 489.40,156.18 489.70,156.11 490.00,156.03 490.30,155.96 490.60,155.89 490.90,155.82 491.20,155.75 491.50,155.68 491.80,155.62 492.10,155.55 492.40,155.48 492.70,155.41 493.00,155.34 493.30,155.27 493.60,155.20 493.90,155.13 494.20,155.06 494.50,154.99 494.80,154.92 495.10,154.85 495.40,154.78 495.70,154.71 496.00,154.64 496.30,154.57 496.60,154.50 496.90,154.44 497.20,154.37 497.50,154.30 497.80,154.23 498.10,154.16 498.40,154.09 498.70,154.02 499.00,153.95 499.30,153.88 499.60,153.81 499.90,153.74 500.20,153.67 500.50,153.54 500.80,153.38 501.10,153.21 501.40,153.05 501.70,152.88 502.00,152.72 502.30,152.55 502.60,152.39 502.90,152.23 503.20,152.06 503.50,151.90 503.80,151.73 504.10,151.57 504.40,151.41 504.70,151.24 505.00,151.08 505.30,150.95 505.60,150.83 505.90,150.70 506.20,150.57 506.50,150.44 506.80,150.31 507.10,150.19 507.40,150.06 507.70,149.93 508.00,149.80 508.30,149.68 508.60,149.55 508.90,149.42 509.20,149.30 509.50,149.17 509.80,149.04 510.10,148.91 510.40,148.79 510.70,148.66 511.00,148.53 511.30,148.41 511.60,148.28 511.90,148.15 512.20,148.03 512.50,147.90 512.80,147.77 513.10,147.65 513.40,147.52 513.70,147.39 514.00,147.27 514.30,147.14 514.60,147.02 514.90,146.89 515.20,146.76 515.50,146.62 515.80,146.48 516.10,146.35 516.40,146.21 516.70,146.08 517.00,145.94 517.30,145.80 517.60,145.67 517.90,145.53 518.20,145.40 518.50,145.26 518.80,145.13 519.10,144.99 519.40,144.85 519.70,144.72 520.00,144.58 520.30,144.45 520.60,144.31 520.90,144.18 521.20,144.04 521.50,143.91 521.80,143.77 522.00,143.68 522.00,142.57 522.30,142.44 522.60,142.32 522.90,142.19 523.20,142.06 523.50,141.93 523.80,141.80 524.10,141.67 524.40,141.54 524.70,141.41 525.00,141.28 525.30,141.15 525.60,141.02 525.90,140.89 526.20,140.76 526.50,140.63 526.80,140.50 527.10,140.29 527.40,140.09 527.70,139.88 528.00,139.68 528.30,139.47 528.60,139.26 528.90,139.06 529.20,138.85 529.50,138.64 529.80,138.44 530.00,138.30 530.00,137.06 530.30,136.79 530.60,136.52 530.90,136.25 531.20,135.98 531.50,135.71 531.80,135.44 532.10,135.17 532.40,134.90 532.70,134.56 533.00,134.21 533.30,133.87 533.60,133.53 533.90,133.19 534.20,132.84 534.50,132.50 534.80,132.16 535.10,131.81 535.40,131.47 535.70,131.13 536.00,130.79 536.30,130.44 536.60,130.10 536.90,129.76 537.20,129.41 537.50,129.00 537.80,128.54 538.10,128.09 538.40,127.63 538.70,127.18 539.00,126.72 539.30,126.26 539.60,125.81 539.90,125.35 540.20,124.90 540.50,124.44 540.80,123.99 541.10,123.53 541.40,123.08 541.70,122.62 542.00,122.17 542.30,121.71 542.60,121.26 542.90,120.80 543.20,120.25 543.50,119.69 543.80,119.14 544.10,118.59 544.40,118.04 544.70,117.48 545.00,116.93 545.30,116.38 545.60,115.83 545.90,115.27 546.20,114.72 546.50,114.17 546.80,113.60 547.10,113.02 547.40,112.43 547.70,111.84 548.00,111.26 548.30,110.67 548.60,110.08 548.90,109.50 549.20,108.86 549.50,108.19 549.80,107.52 550.10,106.86 550.40,106.19 550.70,105.52 551.00,104.68 551.30,103.75 551.60,102.82 551.90,101.90 552.00,101.59 552.00,104.44 552.30,103.51 552.60,102.59 552.90,101.66 553.20,100.73 553.50,99.80 553.80,98.86 554.10,97.92 554.40,96.99 554.70,96.05 555.00,95.11 555.30,94.00 555.60,92.80 555.90,91.60 556.20,90.41 556.50,89.24 556.80,88.08 557.10,86.86 557.40,85.55 557.70,84.22 558.00,82.89 558.30,81.53 558.60,80.09 558.90,78.34 559.20,76.34 559.50,73.94 559.80,70.96 560.10,67.33 560.40,63.08 560.70,58.19 561.00,52.96 561.30,47.73 561.60,42.83 561.90,38.51 562.20,34.80 562.50,31.82 562.80,29.63 563.10,28.29 563.40,27.80 563.40,27.80 563.70,28.18 564.00,29.41 564.30,31.43 564.60,34.17 564.90,37.45 565.20,41.00 565.50,44.29 565.80,46.58 566.10,47.27 566.40,46.45 566.70,44.91 567.00,43.49 567.30,42.81 567.40,42.80 567.60,43.24 567.90,44.97 568.20,47.78 568.50,51.39 568.80,55.39 569.10,59.71 569.40,63.54 569.70,66.64 570.00,69.02 570.30,71.42 570.60,73.81 570.90,76.08 571.20,78.29 571.50,79.87 571.80,81.45 572.10,82.79 572.20,83.07 572.20,86.00 572.60,120.00 573.30,169.20 578.00,169.20 578.00,180.20" fill="rgba(0,255,0,0.5)"/>
<polygon points="441.80,180.20 441.80,165.00 442.50,167.14 442.80,167.09 443.10,167.05 443.40,167.00 443.70,166.96 444.00,166.91 444.30,166.85 444.60,166.78 444.90,166.72 445.20,166.65 445.50,166.59 445.80,166.52 446.10,166.46 446.40,166.39 446.70,166.33 447.00,166.26 447.30,166.20 447.60,166.13 447.90,166.07 448.20,166.01 448.50,165.94 448.80,165.88 449.10,165.81 449.40,165.75 449.70,165.68 450.00,165.62 450.30,165.55 450.60,165.49 450.90,165.43 451.20,165.36 451.50,165.30 451.80,165.23 452.10,165.17 452.40,165.10 452.70,165.04 453.00,164.98 453.30,164.91 453.60,164.85 453.90,164.78 454.20,164.72 454.50,164.66 454.80,164.59 455.10,164.53 455.40,164.46 455.70,164.40 456.00,164.34 456.30,164.27 456.60,164.21 456.90,164.14 457.20,164.08 457.50,164.02 457.80,163.95 458.10,163.89 458.40,163.83 458.70,163.75 459.00,163.68 459.30,163.60 459.60,163.53 459.90,163.45 460.20,163.37 460.50,163.30 460.80,163.22 461.10,163.14 461.40,163.07 461.70,162.99 462.00,162.92 462.30,162.84 462.60,162.76 462.90,162.69 463.20,162.61 463.50,162.54 463.80,162.46 464.10,162.38 464.40,162.31 464.70,162.23 465.00,162.16 465.30,162.08 465.60,162.01 465.90,161.93 466.20,161.85 466.50,161.78 466.80,161.70 467.10,161.63 467.40,161.55 467.70,161.48 468.00,161.40 468.30,161.33 468.60,161.26 468.90,161.18 469.20,161.11 469.50,161.04 469.80,160.97 470.00,160.92 470.00,161.00 481.00,159.00 481.00,158.28 481.30,158.20 481.60,158.13 481.90,158.05 482.20,157.98 482.50,157.90 482.80,157.83 483.10,157.75 483.40,157.68 483.70,157.60 484.00,157.53 484.30,157.45 484.60,157.38 484.90,157.30 485.20,157.23 485.50,157.15 485.80,157.08 486.10,157.00 486.40,156.93 486.70,156.85 487.00,156.78 487.30,156.70 487.60,156.63 487.90,156.56 488.20,156.48 488.50,156.41 488.80,156.33 489.10,156.26 489.40,156.18 489.70,156.11 490.00,156.03 490.30,155.96 490.60,155.89 490.90,155.82 491.20,155.75 491.50,155.68 491.80,155.62 492.10,155.55 492.40,155.48 492.70,155.41 493.00,155.34 493.30,155.27 493.60,155.20 493.90,155.13 494.20,155.06 494.50,154.99 494.80,154.92 495.10,154.85 495.40,154.78 495.70,154.71 496.00,154.64 496.30,154.57 496.60,154.50 496.90,154.44 497.20,154.37 497.50,154.30 497.80,154.23 498.10,154.16 498.40,154.09 498.70,154.02 499.00,153.95 499.30,153.88 499.60,153.81 499.90,153.74 500.20,153.67 500.50,153.54 500.80,153.38 501.10,153.21 501.40,153.05 501.70,152.88 502.00,152.72 502.30,152.55 502.60,152.39 502.90,152.23 503.20,152.06 503.50,151.90 503.80,151.73 504.10,151.57 504.40,151.41 504.70,151.24 505.00,151.08 505.30,150.95 505.60,150.83 505.90,150.70 506.20,150.57 506.50,150.44 506.80,150.31 507.10,150.19 507.40,150.06 507.70,149.93 508.00,149.80 508.30,149.68 508.60,149.55 508.90,149.42 509.20,149.30 509.50,149.17 509.80,149.04 510.10,148.91 510.40,148.79 510.70,148.66 511.00,148.53 511.30,148.41 511.60,148.28 511.90,148.15 512.20,148.03 512.50,147.90 512.80,147.77 513.10,147.65 513.40,147.52 513.70,147.39 514.00,147.27 514.30,147.14 514.60,147.02 514.90,146.89 515.20,146.76 515.50,146.62 515.80,146.48 516.10,146.35 516.40,146.21 516.70,146.08 517.00,145.94 517.30,145.80 517.60,145.67 517.90,145.53 518.20,145.40 518.50,145.26 518.80,145.13 519.10,144.99 519.40,144.85 519.70,144.72 520.00,144.58 520.30,144.45 520.60,144.31 520.90,144.18 521.20,144.04 521.50,143.91 521.80,143.77 522.00,143.68 522.00,142.57 522.30,142.44 522.60,142.32 522.90,142.19 523.20,142.06 523.50,141.93 523.80,141.80 524.10,141.67 524.40,141.54 524.70,141.41 525.00,141.28 525.30,141.15 525.60,141.02 525.90,140.89 526.20,140.76 526.50,140.63 526.80,140.50 527.10,140.29 527.40,140.09 527.70,139.88 528.00,139.68 528.30,139.47 528.60,139.26 528.90,139.06 529.20,138.85 529.50,138.64 529.80,138.44 530.00,138.30 530.00,137.06 530.30,136.79 530.60,136.52 530.90,136.25 531.20,135.98 531.50,135.71 531.80,135.44 532.10,135.17 532.40,134.90 532.70,134.56 533.00,134.21 533.30,133.87 533.60,133.53 533.90,133.19 534.20,132.84 534.50,132.50 534.80,132.16 535.10,131.81 535.40,131.47 535.70,131.13 536.00,130.79 536.30,130.44 536.60,130.10 536.90,129.76 537.20,129.41 537.50,129.00 537.80,128.54 538.10,128.09 538.40,127.63 538.70,127.18 539.00,126.72 539.30,126.26 539.60,125.81 539.90,125.35 540.20,124.90 540.50,124.44 540.80,123.99 541.10,123.53 541.40,123.08 541.70,122.62 542.00,122.17 542.30,121.71 542.60,121.26 542.90,120.80 543.20,120.25 543.50,119.69 543.80,119.14 544.10,118.59 544.40,118.04 544.70,117.48 545.00,116.93 545.30,116.38 545.60,115.83 545.90,115.27 546.20,114.72 546.50,114.17 546.80,113.60 547.10,113.02 547.40,112.43 547.70,111.84 548.00,111.26 548.30,110.67 548.60,110.08 548.90,109.50 549.20,108.86 549.50,108.19 549.80,107.52 550.10,106.86 550.40,106.19 550.70,105.52 551.00,104.68 551.30,103.75 551.60,102.82 551.90,101.90 552.00,101.59 552.00,104.44 552.30,103.51 552.60,102.59 552.90,101.66 553.20,100.73 553.50,99.80 553.80,98.86 554.10,97.92 554.40,96.99 554.70,96.05 555.00,95.11 555.30,94.00 555.60,92.80 555.90,91.60 556.20,90.41 556.50,89.24 556.80,88.08 557.10,86.86 557.40,85.55 557.70,84.22 558.00,82.89 558.30,81.53 558.60,80.09 558.90,78.34 559.20,76.34 559.50,73.94 559.80,70.96 560.10,67.33 560.40,63.08 560.70,58.19 561.00,52.96 561.30,47.73 561.60,42.83 561.90,38.51 562.20,34.80 562.50,31.82 562.80,29.63 563.10,28.29 563.40,27.80 563.40,27.80 563.70,28.18 564.00,29.41 564.30,31.43 564.60,34.17 564.90,37.45 565.20,41.00 565.50,44.29 565.80,46.58 566.10,47.27 566.40,46.45 566.70,44.91 567.00,43.49 567.30,42.81 567.40,42.80 567.60,43.24 567.90,44.97 568.20,47.78 568.50,51.39 568.80,55.39 569.10,59.71 569.40,63.54 569.70,66.64 570.00,69.02 570.30,71.42 570.60,73.81 570.90,76.08 571.20,78.29 571.50,79.87 571.80,81.45 572.10,82.79 572.20,83.07 572.20,86.00 572.60,120.00 573.30,169.20 578.00,169.20 578.00,180.20" fill="url(#hX)"/>
<polygon points="461.30,180.20 461.30,172.50 469.50,172.30 472.00,168.00 474.00,162.00 475.40,157.80 476.80,160.50 478.80,166.00 481.00,172.30 489.40,172.50 489.40,180.20" fill="rgba(0,90,0,0.3)"/>
<polygon points="461.30,180.20 461.30,172.50 469.50,172.30 472.00,168.00 474.00,162.00 475.40,157.80 476.80,160.50 478.80,166.00 481.00,172.30 489.40,172.50 489.40,180.20" fill="url(#hP)"/>
<polyline points="472.00,168.0 474.00,162.0 475.40,157.8 476.80,160.5 478.80,166.0" fill="none" stroke="rgba(106,90,205,0.6)" stroke-width="0.7"/>
<polyline points="33.70,168.00 34.00,168.28 34.30,167.74 34.60,167.16 34.90,167.57 35.20,167.06 35.50,168.06 35.80,169.27 36.10,167.53 36.40,167.41 36.70,168.46 37.00,168.34 37.30,168.10 37.60,167.12 37.90,167.97 38.20,168.66 38.50,166.73 38.80,167.57 39.10,166.20 39.40,166.78 39.70,166.26 40.00,167.78 40.30,166.80 40.60,168.26 40.90,168.15 41.20,167.82 41.50,165.62 41.80,167.49 42.10,167.95 42.40,168.11 42.70,166.55 43.00,167.55 43.30,167.07 43.60,167.23 43.90,169.00 44.20,167.24 44.50,167.97 44.80,168.84 45.10,167.45 45.40,167.89 45.70,168.10 46.00,168.06 46.30,166.84 46.60,168.07 46.90,169.29 47.20,166.53 47.50,168.81 47.80,168.11 48.10,167.39 48.40,169.89 48.70,168.72 49.00,166.86 49.30,168.07 49.60,168.55 49.90,167.82 50.20,168.64 50.50,167.92 50.80,168.61 51.10,169.33 51.40,167.32 51.70,168.14 52.00,167.50 52.30,168.05 52.60,166.80 52.90,167.37 53.20,167.72 53.50,168.74 53.80,168.97 54.10,166.63 54.40,167.12 54.70,168.47 55.00,165.97 55.30,167.40 55.60,167.74 55.90,169.01 56.20,168.46 56.50,167.50 56.80,167.45 57.10,167.55 57.40,169.21 57.70,167.37 58.00,167.47 58.30,168.08 58.60,167.63 58.90,167.55 59.20,166.68 59.50,167.70 59.80,167.29 60.10,168.79 60.40,168.30 60.70,167.66 61.00,168.30 61.30,167.34 61.60,168.64 61.90,167.64 62.20,168.18 62.50,166.42 62.80,167.94 63.10,166.03 63.40,165.69 63.70,167.30 64.00,166.74 64.30,167.72 64.60,169.66 64.90,166.78 65.20,166.96 65.50,167.73 65.80,167.99 66.10,167.35 66.40,167.32 66.70,168.15 67.00,167.98 67.30,166.52 67.60,167.40 67.90,167.50 68.20,166.47 68.50,167.69 68.80,166.64 69.10,168.33 69.40,167.60 69.70,167.49 70.00,166.85 70.30,167.27 70.60,165.51 70.90,166.30 71.20,167.67 71.50,165.34 71.80,168.08 72.10,165.66 72.40,167.97 72.70,166.46 73.00,167.95 73.30,167.34 73.60,165.78 73.90,168.34 74.20,168.50 74.50,167.09 74.80,166.88 75.10,166.97 75.40,166.20 75.70,168.09 76.00,166.56 76.30,167.00 76.60,166.30 76.90,166.44 77.20,165.82 77.50,168.13 77.80,166.82 78.10,167.83 78.40,166.94 78.70,166.27 79.00,166.59 79.30,166.36 79.60,166.87 79.90,166.50 80.20,166.55 80.50,165.55 80.80,166.05 81.10,168.29 81.40,166.15 81.70,165.78 82.00,167.03 82.30,167.99 82.60,165.37 82.90,166.48 83.20,166.08 83.50,165.04 83.80,167.29 84.10,166.59 84.40,166.65 84.70,165.89 85.00,166.97 85.30,166.05 85.60,166.39 85.90,165.50 86.20,165.37 86.50,167.62 86.80,165.91 87.10,166.58 87.40,166.24 87.70,165.82 88.00,165.71 88.30,166.68 88.60,165.80 88.90,165.88 89.20,165.99 89.50,166.96 89.80,166.47 90.10,166.16 90.40,165.27 90.70,164.49 91.00,166.51 91.30,166.47 91.60,165.44 91.90,165.99 92.20,166.15 92.50,166.15 92.80,166.17 93.10,164.92 93.40,166.59 93.70,164.13 94.00,165.92 94.30,165.55 94.60,165.83 94.90,166.65 95.20,166.26 95.50,163.95 95.80,163.44 96.10,165.57 96.40,163.96 96.70,164.79 97.00,165.48 97.30,163.31 97.60,162.88 97.90,164.87 98.20,164.65 98.50,164.37 98.80,164.58 99.10,163.77 99.40,163.18 99.70,164.29 100.00,163.57 100.30,162.96 100.60,164.74 100.90,164.21 101.20,164.56 101.50,163.32 101.80,163.53 102.10,163.12 102.40,162.98 102.70,163.44 103.00,161.92 103.30,161.82 103.60,160.59 103.90,160.65 104.20,157.34 104.50,158.63 104.50,157.94 104.80,158.25 105.10,157.98 105.40,159.77 105.70,161.80 106.00,162.07 106.30,162.82 106.60,162.86 106.90,164.19 107.20,163.26 107.50,161.45 107.80,162.66 108.10,161.56 108.40,160.43 108.70,162.59 109.00,164.04 109.30,162.91 109.60,161.85 109.90,161.96 110.20,163.56 110.50,162.70 110.80,162.54 111.10,162.38 111.40,162.38 111.70,162.92 112.00,162.64 112.30,162.28 112.60,161.19 112.90,162.33 113.20,161.29 113.50,162.60 113.80,160.65 114.10,161.44 114.40,161.45 114.70,160.33 115.00,162.61 115.30,162.31 115.60,160.73 115.90,161.59 116.20,161.19 116.50,158.81 116.80,160.90 117.10,160.56 117.40,160.54 117.70,159.50 118.00,159.85 118.30,159.39 118.60,159.44 118.90,157.33 119.20,155.03 119.50,153.44 119.80,149.59 120.10,147.31 120.40,144.78 120.70,145.36 120.90,144.85 121.00,144.88 121.30,145.51 121.60,146.79 121.90,149.04 122.20,151.30 122.50,153.81 122.80,156.12 123.10,158.72 123.40,159.06 123.70,159.17 124.00,159.03 124.30,159.08 124.60,160.72 124.90,159.80 125.20,159.37 125.50,158.94 125.80,158.26 126.10,158.87 126.40,159.36 126.70,158.17 127.00,157.82 127.30,156.98 127.60,155.75 127.90,152.36 128.20,149.90 128.50,145.40 128.80,141.40 129.10,135.79 129.40,131.55 129.70,127.49 130.00,123.66 130.30,120.98 130.60,119.38 130.90,118.55 131.00,118.35 131.20,118.78 131.50,120.14 131.80,121.80 132.10,124.72 132.40,128.22 132.70,132.84 133.00,136.86 133.30,141.28 133.60,145.92 133.90,146.76 134.20,147.76 134.50,146.36 134.80,143.28 135.10,140.79 135.40,139.02 135.70,136.47 136.00,135.37 136.20,134.91 136.30,135.46 136.60,136.69 136.90,138.01 137.20,139.44 137.50,142.19 137.80,145.38 138.10,148.87 138.40,151.39 138.70,153.91 139.00,155.60 139.30,156.25 139.60,157.01 139.90,157.49 140.20,157.42 140.50,157.89 140.80,158.85 141.10,157.96 141.40,157.57 141.70,156.35 142.00,157.78 142.30,156.15 142.60,156.51 142.90,158.06 143.20,157.95 143.50,157.34 143.80,156.25 144.10,157.16 144.40,156.93 144.70,157.83 145.00,158.94 145.30,157.51 145.60,156.81 145.90,156.53 146.20,157.29 146.50,157.19 146.80,156.50 147.10,157.36 147.40,156.47 147.70,158.02 148.00,157.96 148.30,157.92 148.60,156.76 148.90,157.23 149.20,156.33 149.50,155.30 149.80,153.86 150.10,151.02 150.40,147.84 150.70,145.08 151.00,140.30 151.30,136.11 151.60,132.32 151.90,128.14 152.20,125.58 152.50,123.81 152.80,122.78 153.00,122.43 153.10,122.73 153.40,123.33 153.70,124.71 154.00,127.22 154.30,130.87 154.60,134.59 154.90,137.84 155.20,143.42 155.50,147.00 155.80,150.64 156.10,152.00 156.40,153.48 156.70,153.62 157.00,156.17 157.30,154.42 157.60,155.39 157.90,153.77 158.20,154.05 158.50,152.68 158.80,153.24 159.10,153.83 159.40,152.23 159.70,153.39 160.00,152.70 160.30,151.54 160.60,151.52 160.90,151.21 161.20,151.11 161.50,150.49 161.80,149.99 162.10,149.94 162.40,148.80 162.70,147.71 163.00,147.40 163.30,146.91 163.60,144.75 163.90,144.54 164.20,143.27 164.50,142.17 164.80,142.01 165.10,140.22 165.40,139.33 165.70,136.74 166.00,135.47 166.30,133.56 166.60,131.69 166.90,130.42 167.20,128.50 167.50,126.95 167.80,125.12 168.10,123.60 168.40,123.17 168.70,122.58 169.00,122.07 169.30,120.98 169.60,120.12 169.90,118.39 170.20,116.56 170.50,113.19 170.80,109.10 171.10,104.84 171.40,100.54 171.70,96.31 172.00,93.13 172.30,90.96 172.60,89.90 172.70,89.93 172.90,90.10 173.20,91.47 173.50,94.03 173.80,97.25 174.10,101.13 174.40,104.50 174.70,106.72 175.00,106.82 175.30,105.26 175.60,101.76 175.90,98.20 176.20,94.99 176.50,92.63 176.80,91.28 177.00,91.13 177.10,90.98 177.40,91.77 177.70,93.49 178.00,95.42 178.30,96.79 178.60,96.00 178.90,92.58 179.20,87.61 179.50,82.33 179.80,77.55 180.10,73.47 180.40,70.88 180.70,69.33 180.90,69.14 181.00,69.14 181.30,70.28 181.60,72.63 181.90,76.31 182.20,81.28 182.50,87.17 182.80,93.83 183.10,100.91 183.40,107.62 183.70,113.49 184.00,117.37 184.30,119.02 184.60,117.84 184.90,114.82 185.20,110.86 185.50,106.07 185.80,101.28 186.10,96.78 186.40,92.81 186.70,89.90 187.00,88.16 187.30,87.46 187.30,87.45 187.60,87.97 187.90,89.47 188.20,92.14 188.50,95.43 188.80,99.28 189.10,103.11 189.40,106.43 189.70,108.87 190.00,110.33 190.30,110.57 190.60,109.81 190.90,107.51 191.20,103.38 191.50,97.62 191.80,90.20 192.10,82.42 192.40,74.86 192.70,67.98 193.00,62.28 193.30,57.70 193.60,54.38 193.90,52.37 194.20,51.69 194.20,51.68 194.50,52.35 194.80,54.32 195.10,57.60 195.40,62.08 195.70,67.77 196.00,74.37 196.30,81.52 196.60,88.61 196.90,94.87 197.20,99.16 197.50,101.92 197.80,103.02 198.10,103.28 198.40,103.10 198.70,102.50 199.00,101.55 199.30,99.71 199.60,96.16 199.90,90.56 200.20,83.16 200.50,75.04 200.80,66.80 201.10,59.16 201.40,52.49 201.70,46.97 202.00,42.80 202.30,39.87 202.60,38.26 202.80,38.01 202.90,38.05 203.20,39.17 203.50,41.64 203.80,45.44 204.10,50.42 204.40,56.53 204.70,63.25 205.00,69.12 205.30,71.30 205.60,67.92 205.90,60.74 206.20,52.71 206.50,45.24 206.80,38.82 207.10,33.65 207.40,29.82 207.70,27.31 208.00,26.18 208.10,26.11 208.30,26.39 208.60,27.96 208.90,30.85 209.20,35.06 209.50,40.53 209.80,47.10 210.10,54.55 210.40,62.74 210.70,70.96 211.00,78.31 211.30,83.79 211.60,87.73 211.90,90.72 212.20,92.75 212.50,94.12 212.80,95.34 213.10,94.66 213.40,93.81 213.70,92.98 214.00,92.43 214.30,92.12 214.40,91.81 214.60,92.20 214.90,92.78 215.20,93.53 215.50,94.49 215.80,95.38 216.10,96.20 216.40,96.99 216.70,97.71 217.00,98.18 217.30,98.70 217.60,99.20 217.90,99.66 218.20,99.82 218.50,100.16 218.80,100.52 219.10,103.21 219.40,105.66 219.70,108.42 220.00,110.71 220.30,113.39 220.60,115.97 220.90,117.99 221.20,119.92 221.50,121.37 221.80,123.34 222.10,125.44 222.40,125.61 222.70,125.05 223.00,125.13 223.30,124.62 223.60,124.22 223.90,123.64 224.20,123.50 224.50,122.84 224.80,122.59 225.10,121.68 225.40,120.97 225.70,120.21 226.00,118.84 226.30,117.96 226.60,116.40 226.90,114.44 227.20,112.63 227.50,110.69 227.80,109.23 228.10,107.86 228.40,107.24 228.60,107.33 228.70,107.51 229.00,108.08 229.30,109.05 229.60,110.77 229.90,113.03 230.20,115.10 230.50,117.25 230.80,119.49 231.10,121.33 231.40,122.61 231.70,123.59 232.00,124.46 232.30,125.49 232.60,125.74 232.90,126.30 233.20,126.77 233.50,127.24 233.80,127.43 234.10,127.98 234.40,127.56 234.70,127.27 235.00,126.75 235.30,126.77 235.60,126.15 235.90,125.62 236.20,125.30 236.50,124.93 236.80,124.71 237.10,123.89 237.40,123.60 237.70,123.33 238.00,123.44 238.30,122.49 238.60,121.63 238.90,121.09 239.20,120.63 239.50,119.59 239.80,118.89 240.10,118.46 240.40,117.67 240.70,117.02 241.00,116.18 241.30,115.85 241.60,115.14 241.90,114.30 242.20,113.63 242.50,112.59 242.80,112.25 243.10,111.45 243.40,110.84 243.70,110.18 244.00,109.37 244.30,108.51 244.60,108.03 244.90,107.15 245.20,106.28 245.50,105.03 245.80,103.31 246.10,100.54 246.40,97.20 246.70,92.48 247.00,87.05 247.30,81.15 247.60,75.11 247.90,69.45 248.20,64.47 248.50,60.18 248.80,56.73 249.10,54.15 249.40,52.40 249.70,51.67 249.80,51.57 250.00,51.82 250.30,52.89 250.60,54.88 250.90,57.76 251.20,61.47 251.50,65.97 251.80,71.10 252.10,76.81 252.40,82.75 252.70,88.48 253.00,93.76 253.30,98.14 253.60,101.38 253.90,103.99 254.20,105.55 254.50,106.82 254.80,107.82 255.10,109.21 255.40,110.44 255.70,111.76 256.00,112.90 256.30,114.25 256.60,115.88 256.90,116.81 257.20,118.04 257.50,117.99 257.80,117.12 258.10,115.97 258.40,115.21 258.70,114.47 259.00,113.49 259.30,112.58 259.60,111.87 259.90,110.70 260.20,109.90 260.50,108.94 260.80,108.11 261.10,106.67 261.40,105.75 261.70,104.71 262.00,103.77 262.30,102.70 262.60,101.70 262.90,100.34 263.20,99.42 263.50,98.13 263.80,96.78 264.10,95.79 264.40,94.53 264.70,93.00 265.00,91.46 265.30,89.67 265.60,88.17 265.90,87.03 266.20,86.33 266.30,86.29 266.50,86.31 266.80,86.86 267.10,87.96 267.40,89.25 267.70,90.56 268.00,91.84 268.30,92.66 268.60,92.95 268.90,93.15 269.20,92.93 269.50,92.70 269.80,92.37 270.10,92.08 270.40,91.69 270.70,91.43 271.00,91.03 271.30,90.60 271.60,90.17 271.90,89.62 272.20,89.28 272.50,88.84 272.80,88.44 273.10,87.91 273.40,87.31 273.70,86.42 274.00,85.54 274.30,84.69 274.60,83.90 274.90,82.94 275.20,81.28 275.50,79.13 275.80,76.39 276.10,73.03 276.40,68.83 276.70,63.96 277.00,58.50 277.30,52.79 277.60,47.05 277.90,41.74 278.20,36.94 278.50,32.80 278.80,29.34 279.10,26.68 279.40,24.82 279.70,23.75 279.90,23.49 280.00,23.53 280.30,24.17 280.60,25.61 280.90,27.82 281.20,30.72 281.50,34.22 281.80,38.17 282.10,42.41 282.40,46.61 282.70,50.42 283.00,54.23 283.30,57.41 283.60,59.95 283.90,61.82 284.20,63.25 284.50,65.59 284.80,70.21 285.10,74.65 285.40,79.15 285.70,83.48 286.00,90.05 286.30,97.44 286.60,104.98 286.90,116.34 287.20,134.21 287.50,151.60 287.80,152.27 288.10,152.94 288.40,153.90 288.70,153.28 289.00,152.91 289.30,153.96 289.60,154.28 289.90,154.48 290.20,155.38 290.50,154.88 290.80,155.34 291.10,154.25 291.40,155.45 291.70,156.08 292.00,155.08 292.30,154.59 292.60,154.37 292.90,155.24 293.20,153.38 293.50,153.73 293.80,153.93 294.10,153.95 294.40,153.06 294.70,153.36 295.00,152.85 295.30,152.94 295.60,152.63 295.90,151.86 296.20,152.36 296.50,152.71 296.80,151.38 297.10,151.51 297.40,151.62 297.70,150.09 298.00,150.12 298.30,148.80 298.60,149.34 298.90,149.42 299.20,148.92 299.40,147.69 299.50,148.20 299.80,148.12 300.10,148.59 300.40,150.00 300.70,149.08 301.00,150.98 301.30,150.92 301.60,152.19 301.90,151.78 302.20,151.50 302.50,152.23 302.80,152.64 303.10,152.35 303.40,152.73 303.70,152.24 304.00,151.38 304.30,153.31 304.60,153.30 304.90,153.07 305.20,153.13 305.50,153.83 305.80,153.08 306.10,153.08 306.40,153.56 306.70,154.57 307.00,153.12 307.30,154.90 307.60,153.74 307.90,153.36 308.20,154.75 308.50,153.81 308.80,152.97 309.10,153.46 309.40,154.17 309.70,154.24 310.00,153.15 310.30,153.57 310.60,153.67 310.90,152.74 311.20,153.26 311.50,152.94 311.80,152.54 312.10,152.48 312.40,152.72 312.70,152.61 313.00,152.16 313.30,152.15 313.60,152.98 313.90,152.35 314.20,152.65 314.50,152.74 314.80,152.28 315.10,153.18 315.40,151.27 315.70,152.13 316.00,151.38 316.30,152.55 316.60,152.36 316.90,150.15 317.20,150.63 317.50,151.48 317.80,151.45 318.10,151.33 318.40,150.77 318.70,150.98 319.00,151.00 319.30,150.49 319.60,151.02 319.90,149.07 320.20,150.61 320.50,149.58 320.80,150.60 321.10,149.84 321.40,149.39 321.70,150.00 322.00,149.20 322.30,149.11 322.60,148.66 322.90,149.41 323.20,149.61 323.50,149.80 323.80,149.08 324.10,149.63 324.40,148.98 324.70,148.83 325.00,149.10 325.30,149.27 325.60,148.43 325.90,148.39 326.20,148.34 326.50,148.38 326.80,147.77 327.10,148.70 327.40,147.86 327.70,148.22 328.00,147.46 328.30,147.98 328.60,147.91 328.90,147.40 329.20,148.57 329.50,147.63 329.80,148.26 330.10,147.75 330.40,146.82 330.70,146.88 331.00,147.20 331.30,146.92 331.60,146.83 331.90,146.48 332.20,145.54 332.50,146.16 332.80,145.00 333.10,146.11 333.40,145.39 333.70,145.22 334.00,145.29 334.30,145.35 334.60,144.36 334.90,144.03 335.20,144.19 335.50,143.55 335.80,143.89 336.10,144.91 336.40,143.50 336.70,144.12 337.00,143.01 337.30,143.60 337.60,143.14 337.90,143.09 338.20,143.20 338.50,143.55 338.80,142.67 339.10,142.47 339.40,141.81 339.70,142.32 340.00,141.78 340.30,142.07 340.60,141.51 340.90,142.11 341.20,140.25 341.50,140.67 341.80,140.85 342.10,140.01 342.40,139.47 342.70,139.26 343.00,138.28 343.30,138.17 343.60,138.17 343.90,136.62 344.20,134.65 344.50,133.61 344.80,132.83 345.10,132.65 345.30,131.83 345.40,131.84 345.70,132.51 346.00,132.97 346.30,133.19 346.60,133.59 346.90,133.99 347.20,134.67 347.50,134.30 347.80,135.38 348.10,134.80 348.40,135.06 348.70,135.38 349.00,134.94 349.30,133.93 349.60,134.44 349.90,134.33 350.20,133.48 350.50,133.21 350.80,133.30 351.10,132.57 351.40,133.35 351.70,131.79 352.00,131.97 352.30,131.99 352.60,131.74 352.90,131.61 353.20,131.38 353.50,130.97 353.80,131.14 354.10,129.85 354.40,130.26 354.70,129.78 355.00,129.66 355.30,129.30 355.60,128.58 355.90,128.34 356.20,128.25 356.50,127.78 356.80,127.19 357.10,127.35 357.40,127.01 357.70,125.90 358.00,125.86 358.30,125.84 358.60,125.09 358.90,124.55 359.20,124.04 359.50,123.55 359.80,123.18 360.10,122.69 360.40,122.49 360.70,121.86 361.00,121.43 361.30,120.80 361.60,120.49 361.90,119.86 362.20,119.47 362.50,119.16 362.80,118.56 363.10,118.08 363.40,117.55 363.70,117.01 364.00,116.48 364.30,115.80 364.60,115.30 364.90,114.40 365.20,114.07 365.50,113.24 365.80,112.49 366.10,111.87 366.40,111.17 366.70,110.52 367.00,109.67 367.30,109.15 367.60,108.18 367.90,107.27 368.20,106.70 368.50,105.82 368.80,105.28 369.10,104.65 369.40,103.86 369.70,102.92 370.00,102.23 370.30,101.53 370.60,100.47 370.90,99.51 371.20,98.67 371.50,97.85 371.80,96.82 372.10,95.80 372.40,94.89 372.70,93.98 373.00,92.96 373.30,91.73 373.60,90.60 373.90,89.34 374.20,88.20 374.50,87.01 374.80,85.94 375.10,84.48 375.40,83.10 375.70,81.68 376.00,80.26 376.30,78.79 376.60,77.12 376.90,75.13 377.20,72.67 377.50,69.68 377.80,65.93 378.10,61.29 378.40,55.94 378.70,50.25 379.00,44.62 379.30,39.25 379.60,34.39 379.90,30.25 380.20,26.93 380.50,24.51 380.80,23.02 381.10,22.38 381.10,22.40 381.40,22.80 381.70,24.07 382.00,26.17 382.30,28.99 382.60,32.34 382.90,35.92 383.20,39.05 383.50,41.01 383.80,41.22 384.10,40.05 384.40,38.39 384.70,36.93 385.00,36.29 385.10,36.29 385.30,36.96 385.60,38.99 385.90,42.23 386.20,46.50 386.50,52.39 386.80,59.43 387.10,66.78 387.40,73.82 387.70,81.27 388.00,88.50 388.30,95.28 388.60,102.31 388.90,110.87 389.20,119.39 389.50,127.86 389.80,136.16 390.10,143.86 390.40,151.89 390.70,157.71 391.00,160.97 391.30,160.88 391.60,161.94 391.90,163.25 392.20,162.24 392.50,161.46 392.80,162.17 393.10,161.79 393.40,162.10 393.70,164.26 394.00,163.48 394.30,162.14 394.60,164.05 394.90,164.66 395.20,163.42 395.50,163.26 395.80,163.65 396.10,164.28 396.40,164.72 396.70,165.32 397.00,165.48 397.30,165.60 397.60,165.89 397.90,165.43 398.20,163.66 398.50,165.01 398.80,165.53 399.10,165.06 399.40,166.33 399.70,165.35 400.00,164.98 400.30,167.15 400.60,166.52 400.90,166.18 401.20,166.87 401.50,167.06 401.80,166.47 402.10,164.02 402.40,165.68 402.70,165.94 403.00,165.52 403.30,166.65 403.60,167.61 403.90,166.15 404.20,165.62 404.50,168.57 404.80,166.36 405.10,165.71 405.40,167.12 405.70,167.35 406.00,166.37 406.30,167.81 406.60,166.69 406.90,166.35 407.20,167.43 407.50,168.04 407.80,166.80 408.10,167.76 408.40,167.42 408.70,170.21 409.00,166.97 409.30,168.99 409.60,167.70 409.90,167.70 410.20,168.56 410.50,168.78 410.80,169.20 411.10,168.37 411.40,167.52 411.70,167.56 412.00,168.53 412.30,168.57 412.60,169.32 412.90,168.37 413.20,168.95 413.50,169.36 413.80,168.06 414.10,166.48 414.40,166.74 414.70,166.48 415.00,169.31 415.30,166.99 415.60,168.92 415.90,168.29 416.20,169.32 416.50,168.63 416.80,167.57 417.10,167.45 417.40,167.70 417.70,167.76 418.00,167.07 418.30,167.51 418.60,169.02 418.90,165.91 419.20,167.71 419.50,166.60 419.80,167.60 420.10,168.18 420.40,167.33 420.70,168.07 421.00,165.85 421.30,168.33 421.60,166.72 421.90,167.84 422.20,167.40 422.50,164.82 422.80,166.49 423.10,167.37 423.40,168.58 423.70,167.38 424.00,167.33 424.30,165.77 424.60,168.36 424.90,168.69 425.20,167.02 425.50,166.77 425.80,165.46 426.10,167.74 426.40,169.38 426.70,167.54 427.00,168.01 427.30,167.33 427.60,165.91 427.90,167.99 428.20,165.61 428.50,166.50 428.80,166.91 429.10,167.41 429.40,166.95 429.70,166.88 430.00,165.80 430.30,165.28 430.60,166.46 430.90,165.73 431.20,165.15 431.50,165.15 431.80,165.81 432.10,164.54 432.40,164.96 432.70,164.66 433.00,166.25 433.30,166.41 433.60,167.80 433.90,164.63 434.20,165.32 434.50,166.69 434.80,165.65 435.10,165.51 435.40,167.28 435.70,165.42 436.00,164.66 436.30,164.48 436.60,165.89 436.90,165.83 437.20,164.31 437.50,164.61 437.80,165.91 438.10,165.90 438.40,164.79 438.70,165.86 439.00,165.77 439.30,163.68 439.60,164.92 439.90,165.51 440.20,164.61 440.50,163.21 440.80,164.79 441.10,165.64 441.40,166.32 441.70,163.02 442.00,167.13 442.30,163.86 442.60,165.61 442.90,165.81 443.20,165.55 443.50,164.80 443.80,163.63 444.10,165.12 444.40,163.91 444.70,162.31 445.00,166.82 445.30,164.95 445.60,165.83 445.90,163.46 446.20,165.42 446.50,165.46 446.80,165.37 447.10,163.98 447.40,162.93 447.70,163.74 448.00,161.98 448.30,162.35 448.60,163.79 448.90,162.83 449.20,163.46 449.50,163.45 449.80,165.08 450.10,164.50 450.40,163.33 450.70,164.30 451.00,162.61 451.30,162.91 451.60,163.88 451.90,162.06 452.20,162.79 452.50,161.88 452.80,163.00 453.10,164.17 453.40,162.17 453.70,162.91 454.00,161.94 454.30,161.68 454.60,161.56 454.90,163.67 455.20,164.34 455.50,162.77 455.80,161.75 456.10,162.83 456.40,161.94 456.70,162.79 457.00,162.32 457.30,162.25 457.60,162.46 457.90,161.46 458.20,161.54 458.50,160.44 458.80,161.38 459.10,160.54 459.40,161.48 459.70,160.77 460.00,161.53 460.30,161.74 460.60,160.21 460.90,160.61 461.20,160.44 461.50,161.68 461.80,162.35 462.10,161.62 462.40,160.63 462.70,161.95 463.00,159.60 463.30,161.83 463.60,160.12 463.90,158.44 464.20,162.49 464.50,161.61 464.80,159.56 465.10,160.40 465.40,160.04 465.70,160.21 466.00,158.95 466.30,159.48 466.60,160.27 466.90,160.02 467.20,160.68 467.50,159.77 467.80,161.39 468.10,159.05 468.40,159.70 468.70,158.03 469.00,158.46 469.30,160.28 469.60,158.55 469.90,159.57 470.20,159.07 470.50,158.28 470.80,158.73 471.10,158.54 471.40,158.49 471.70,159.32 472.00,159.17 472.30,158.20 472.60,157.86 472.90,158.53 473.20,157.96 473.50,158.24 473.80,158.58 474.10,156.35 474.40,154.66 474.70,153.54 475.00,152.38 475.30,152.06 475.30,152.00 475.60,152.53 475.90,153.12 476.20,154.73 476.50,154.93 476.80,155.85 477.10,155.71 477.40,157.96 477.70,157.30 478.00,158.17 478.30,157.43 478.60,157.81 478.90,156.56 479.20,157.15 479.50,158.42 479.80,155.70 480.10,157.25 480.40,157.53 480.70,156.60 481.00,156.76 481.30,157.04 481.60,155.67 481.90,156.33 482.20,155.39 482.50,155.45 482.80,155.42 483.10,155.68 483.40,155.80 483.70,155.94 484.00,154.62 484.30,156.83 484.60,156.20 484.90,155.85 485.20,155.06 485.50,155.17 485.80,155.52 486.10,155.36 486.40,153.91 486.70,155.44 487.00,156.81 487.30,153.60 487.60,155.40 487.90,154.92 488.20,154.54 488.50,155.44 488.80,153.70 489.10,154.51 489.40,155.29 489.70,154.14 490.00,153.93 490.30,154.21 490.60,153.79 490.90,155.00 491.20,153.36 491.50,154.44 491.80,153.01 492.10,154.18 492.40,153.62 492.70,151.98 493.00,153.56 493.30,152.82 493.60,153.15 493.90,154.34 494.20,152.60 494.50,152.57 494.80,154.08 495.10,153.18 495.40,154.01 495.70,153.18 496.00,152.37 496.30,152.81 496.60,153.55 496.90,153.31 497.20,152.66 497.50,152.63 497.80,152.46 498.10,152.11 498.40,153.59 498.70,152.35 499.00,151.59 499.30,151.92 499.60,152.59 499.90,152.48 500.20,151.94 500.50,151.49 500.80,151.76 501.10,150.59 501.40,150.66 501.70,151.76 502.00,150.85 502.30,151.20 502.60,151.54 502.90,151.05 503.20,150.53 503.50,151.60 503.80,150.60 504.10,149.86 504.40,150.32 504.70,149.98 505.00,149.12 505.30,149.52 505.60,149.27 505.90,148.14 506.20,149.02 506.50,148.84 506.80,148.64 507.10,147.85 507.40,148.45 507.70,148.50 508.00,148.46 508.30,147.66 508.60,148.50 508.90,147.38 509.20,147.80 509.50,148.50 509.80,147.31 510.10,147.29 510.40,148.01 510.70,147.12 511.00,147.04 511.30,147.20 511.60,147.51 511.90,145.69 512.20,146.29 512.50,146.08 512.80,145.92 513.10,145.92 513.40,145.81 513.70,146.27 514.00,145.55 514.30,145.94 514.60,145.96 514.90,145.27 515.20,145.58 515.50,146.20 515.80,145.41 516.10,144.81 516.40,144.96 516.70,144.42 517.00,144.87 517.30,145.02 517.60,144.08 517.90,144.25 518.20,144.75 518.50,143.85 518.80,144.05 519.10,143.34 519.40,143.31 519.70,143.33 520.00,144.44 520.30,143.12 520.60,142.94 520.90,142.79 521.20,142.85 521.50,143.09 521.80,142.75 522.10,143.45 522.40,142.50 522.70,142.91 523.00,142.26 523.30,142.28 523.60,141.25 523.90,141.70 524.20,141.59 524.50,141.39 524.80,140.44 525.10,141.61 525.40,140.94 525.70,140.79 526.00,140.74 526.30,140.62 526.60,140.76 526.90,139.90 527.20,139.84 527.50,140.14 527.80,139.87 528.10,139.45 528.40,139.17 528.70,138.86 529.00,138.96 529.30,139.25 529.60,138.15 529.90,138.97 530.20,138.45 530.50,137.67 530.80,137.88 531.10,136.75 531.40,136.38 531.70,136.28 532.00,136.35 532.30,136.11 532.60,135.77 532.90,135.73 533.20,134.60 533.50,135.21 533.80,134.18 534.10,134.11 534.40,133.86 534.70,133.26 535.00,132.85 535.30,132.63 535.60,132.62 535.90,132.48 536.20,132.13 536.50,131.28 536.80,131.00 537.10,130.62 537.40,130.71 537.70,129.60 538.00,130.23 538.30,129.25 538.60,128.70 538.90,128.55 539.20,128.24 539.50,127.64 539.80,127.32 540.10,126.69 540.40,126.44 540.70,125.99 541.00,125.28 541.30,125.11 541.60,124.41 541.90,123.94 542.20,123.31 542.50,122.97 542.80,122.70 543.10,121.88 543.40,121.76 543.70,121.19 544.00,120.62 544.30,119.67 544.60,119.46 544.90,119.02 545.20,118.25 545.50,117.83 545.80,116.91 546.10,116.81 546.40,116.06 546.70,115.73 547.00,114.80 547.30,114.59 547.60,113.88 547.90,113.43 548.20,112.62 548.50,112.07 548.80,111.85 549.10,110.88 549.40,110.31 549.70,109.74 550.00,108.99 550.30,108.58 550.60,107.97 550.90,107.03 551.20,106.26 551.50,105.81 551.80,104.88 552.10,103.92 552.40,103.02 552.70,101.89 553.00,101.03 553.30,100.00 553.60,99.06 553.90,98.33 554.20,97.26 554.50,96.56 554.80,95.44 555.10,94.45 555.40,93.36 555.70,92.23 556.00,90.93 556.30,89.64 556.60,88.58 556.90,87.47 557.20,86.09 557.50,84.76 557.80,83.54 558.10,82.15 558.40,80.70 558.70,79.21 559.00,77.37 559.30,75.31 559.60,72.73 559.90,69.55 560.20,65.72 560.50,61.16 560.80,56.18 561.10,50.92 561.40,45.74 561.70,41.05 562.00,36.89 562.30,33.41 562.60,30.71 562.90,28.78 563.20,27.71 563.40,27.51 563.50,27.53 563.80,28.20 564.10,29.68 564.40,31.96 564.70,34.90 565.00,38.31 565.30,41.87 565.60,44.86 565.90,46.71 566.20,46.82 566.50,45.64 566.80,44.10 567.10,42.86 567.40,42.48 567.40,42.53 567.70,43.38 568.00,45.50 568.30,48.61 568.60,52.44 568.90,56.54 569.20,60.79 569.50,64.34 569.80,67.24 570.10,69.36 570.40,71.92 570.70,74.36 571.00,76.53 571.30,78.52 571.60,80.21 571.90,81.69 572.20,82.73 572.50,83.67 572.80,84.43 573.10,85.42 573.40,86.28 573.70,86.86 574.00,87.44 574.30,88.08 574.60,88.66 574.90,89.18 575.20,89.87 575.50,90.29 575.80,90.98 576.10,91.57 576.40,91.92 576.70,92.30 577.00,92.53 577.30,93.00 577.60,93.28 577.90,93.58 578.20,93.87 578.50,94.22 578.80,94.67 579.10,94.91 579.40,95.33 579.70,95.74 580.00,96.08 580.30,96.41 580.60,96.54 580.90,96.75 581.20,97.21 581.50,97.43 581.80,97.78 582.10,97.97 582.40,98.35 582.70,98.60 583.00,98.87 583.30,99.13 583.60,99.40 583.90,99.67 584.20,99.95 584.50,100.30 584.80,100.45 585.10,100.93 585.40,101.04 585.70,101.43 586.00,101.61 586.30,101.87 586.60,102.37 586.90,102.43 587.20,102.62 587.50,102.95 587.80,103.27 588.10,103.74 588.40,103.77 588.70,104.07 589.00,104.10 589.30,104.46 589.60,104.72 589.90,105.06 590.20,105.03 590.50,105.39 590.80,105.58 591.10,105.67 591.40,106.00 591.70,106.20 592.00,106.20 592.30,106.74 592.60,106.96 592.90,107.08 593.20,107.20 593.50,107.74 593.80,107.83 594.10,108.14 594.40,108.41 594.70,108.42 595.00,108.79 595.30,108.90 595.60,109.14 595.90,109.36 596.20,109.60 596.50,109.96 596.80,110.06 597.10,110.26 597.40,110.47 597.70,110.77 598.00,110.84 598.30,111.11 598.60,111.39 598.90,111.55 599.20,111.84 599.50,112.00 599.80,112.56 600.10,112.70 600.40,112.81 600.70,112.97 601.00,113.49 601.30,113.47 601.60,113.64 601.90,113.92 602.20,114.14 602.50,114.52 602.80,114.55 603.10,115.06 603.40,114.88 603.70,115.32 604.00,115.31 604.30,115.93 604.60,115.85 604.90,116.12 605.20,116.48 605.50,116.76 605.80,116.64 606.10,116.97 606.40,117.04 606.70,117.50 607.00,117.68 607.30,117.87 607.60,118.05 607.90,118.32 608.20,118.48 608.50,118.91 608.80,119.29 609.10,118.97 609.40,119.48 609.70,119.66 610.00,120.03 610.30,120.02 610.60,120.38 610.90,120.45 611.20,120.96 611.50,121.09 611.80,121.27 612.10,121.59 612.40,121.71 612.70,121.71 613.00,122.30 613.30,122.47 613.60,122.62 613.90,123.07 614.20,123.42 614.50,123.31 614.80,123.66 615.10,124.38 615.40,124.66 615.70,124.56 616.00,124.78 616.30,125.18 616.60,125.51 616.90,125.60 617.20,126.21 617.50,126.25 617.80,126.56 618.10,127.28 618.40,127.26 618.70,127.69 619.00,128.13 619.30,128.47 619.60,128.53 619.90,128.91 620.20,128.95 620.50,130.03 620.80,130.00 621.10,129.76 621.40,130.40 621.70,130.92 622.00,131.15 622.30,131.89 622.60,132.04 622.90,131.72 623.20,132.17 623.50,132.07 623.80,132.88 624.10,133.15 624.40,134.32 624.70,133.73 625.00,133.27 625.30,134.06 625.60,134.64 625.90,134.45 626.20,134.89 626.50,135.37 626.80,135.93 627.10,136.04 627.40,136.07 627.70,137.00 628.00,136.80 628.30,137.11 628.60,137.07 628.90,137.59 629.20,138.46 629.50,137.86 629.80,138.77 630.10,139.39 630.40,139.25 630.70,139.80 631.00,139.54 631.30,140.85 631.60,141.06 631.90,141.00 632.20,140.45 632.50,141.05 632.80,142.23 633.10,142.86 633.40,142.53 633.70,143.26 634.00,142.72 634.30,143.21 634.60,143.60 634.90,144.10 635.20,143.48 635.50,144.95 635.80,145.43 636.10,144.55 636.40,144.74 636.70,145.87 637.00,145.68 637.30,145.12 637.60,147.01 637.90,146.98 638.20,146.96 638.50,148.59 638.80,147.87 639.10,147.70 639.40,148.45 639.70,148.14 640.00,148.59 640.30,149.51 640.60,149.30 640.90,149.65 641.20,151.13 641.50,150.99 641.80,151.26 642.10,151.40 642.40,151.68 642.70,152.55 643.00,151.98 643.30,153.39 643.60,152.00 643.90,152.71 644.20,152.31 644.50,153.24 644.80,154.06 645.10,154.94 645.40,153.90 645.70,154.62 646.00,154.68 646.30,154.72 646.60,154.71 646.90,155.82 647.20,154.92 647.50,156.44 647.80,156.67 648.10,156.50 648.40,156.55 648.70,156.57 649.00,159.14 649.30,157.17 649.60,159.52 649.90,159.13 650.20,158.74 650.50,158.47 650.80,160.39 651.10,161.22 651.40,159.54 651.70,160.32 652.00,161.66 652.30,161.43 652.60,163.04 652.90,161.33 653.20,162.52 653.50,161.40 653.80,164.41 654.10,162.42 654.40,161.50 654.70,163.53 655.00,163.83 655.30,165.88 655.60,164.27 655.90,164.86 656.20,165.69 656.50,166.88 656.80,165.74 657.10,167.04 657.40,166.92 657.70,166.52 658.00,167.20 658.30,167.49 658.60,166.94 658.90,169.29 659.20,167.14 659.50,169.95 659.80,170.09 660.10,169.40 660.40,169.06 660.70,169.93 661.00,170.98 661.30,171.63 661.60,171.53 661.90,172.65 662.20,171.38 662.50,172.59 662.80,171.00 663.10,173.91 663.40,173.61 663.70,173.34 664.00,175.50 664.30,175.48 664.60,171.96 664.90,175.89 665.20,174.65 665.50,178.32 665.80,180.73 666.10,177.54 666.40,178.90 666.70,178.60 667.00,179.29 667.30,179.57 667.60,180.30 667.90,177.26 668.20,180.11 668.50,176.33 668.80,177.24 669.10,178.84 669.40,179.35 669.70,178.22 670.00,179.54 670.30,179.13 670.60,178.93 670.90,179.72 671.20,177.31 671.50,181.14 671.80,182.87 672.10,183.88 672.40,183.91 672.70,185.66 673.00,184.29 673.30,185.01 673.60,184.74 673.90,186.79 674.20,181.32 674.50,186.36 674.80,184.15 675.10,184.29 675.40,183.38 675.70,182.13 676.00,184.62 676.30,184.30 676.60,186.34 676.90,183.37 677.20,188.19 677.50,186.49 677.80,185.82 678.10,185.23 678.40,185.27 678.70,184.86 679.00,185.99 679.30,187.07 679.60,186.93 679.90,185.01 680.20,187.11 680.50,186.21 680.80,188.16 681.10,191.25 681.40,189.30 681.70,187.85 682.00,185.73 682.30,186.25 682.60,185.93 682.90,190.34 683.20,187.87 683.50,189.50 683.80,188.44 684.10,189.89 684.40,192.42" fill="none" stroke="#000" stroke-width="1.0" stroke-linejoin="round"/>
</g>
<g clip-path="url(#cM)"><polyline points="33.70,287.7 34.05,287.7 34.05,287.7 34.41,287.7 34.41,287.7 34.76,287.7 34.76,287.7 35.12,287.7 35.12,287.7 35.47,287.7 35.47,240.7 35.82,240.7 35.82,287.7 36.18,287.7 36.18,287.7 36.53,287.7 36.53,287.7 36.88,287.7 36.88,287.7 37.24,287.7 37.24,287.7 37.59,287.7 37.59,287.7 37.95,287.7 37.95,240.7 38.30,240.7 38.30,287.7 38.65,287.7 38.65,287.7 39.01,287.7 39.01,287.7 39.36,287.7 39.36,287.7 39.72,287.7 39.72,287.7 40.07,287.7 40.07,240.7 40.42,240.7 40.42,287.7 40.78,287.7 40.78,287.7 41.13,287.7 41.13,240.7 41.48,240.7 41.48,240.7 41.84,240.7 41.84,240.7 42.19,240.7 42.19,287.7 42.55,287.7 42.55,287.7 42.90,287.7 42.90,287.7 43.25,287.7 43.25,287.7 43.61,287.7 43.61,287.7 43.96,287.7 43.96,287.7 44.31,287.7 44.31,287.7 44.67,287.7 44.67,287.7 45.02,287.7 45.02,287.7 45.38,287.7 45.38,287.7 45.73,287.7 45.73,287.7 46.08,287.7 46.08,287.7 46.44,287.7 46.44,240.7 46.79,240.7 46.79,287.7 47.15,287.7 47.15,287.7 47.50,287.7 47.50,287.7 47.85,287.7 47.85,287.7 48.21,287.7 48.21,287.7 48.56,287.7 48.56,287.7 48.91,287.7 48.91,287.7 49.27,287.7 49.27,240.7 49.62,240.7 49.62,287.7 49.98,287.7 49.98,287.7 50.33,287.7 50.33,287.7 50.68,287.7 50.68,287.7 51.04,287.7 51.04,287.7 51.39,287.7 51.39,287.7 51.75,287.7 51.75,287.7 52.10,287.7 52.10,287.7 52.45,287.7 52.45,287.7 52.81,287.7 52.81,287.7 53.16,287.7 53.16,287.7 53.51,287.7 53.51,240.7 53.87,240.7 53.87,287.7 54.22,287.7 54.22,287.7 54.58,287.7 54.58,287.7 54.93,287.7 54.93,287.7 55.28,287.7 55.28,287.7 55.64,287.7 55.64,287.7 55.99,287.7 55.99,287.7 56.34,287.7 56.34,287.7 56.70,287.7 56.70,287.7 57.05,287.7 57.05,287.7 57.41,287.7 57.41,287.7 57.76,287.7 57.76,287.7 58.11,287.7 58.11,287.7 58.47,287.7 58.47,287.7 58.82,287.7 58.82,287.7 59.18,287.7 59.18,287.7 59.53,287.7 59.53,287.7 59.88,287.7 59.88,240.7 60.24,240.7 60.24,287.7 60.59,287.7 60.59,287.7 60.94,287.7 60.94,287.7 61.30,287.7 61.30,287.7 61.65,287.7 61.65,287.7 62.01,287.7 62.01,287.7 62.36,287.7 62.36,287.7 62.71,287.7 62.71,287.7 63.07,287.7 63.07,287.7 63.42,287.7 63.42,287.7 63.78,287.7 63.78,287.7 64.13,287.7 64.13,287.7 64.48,287.7 64.48,287.7 64.84,287.7 64.84,287.7 65.19,287.7 65.19,287.7 65.54,287.7 65.54,287.7 65.90,287.7 65.90,240.7 66.25,240.7 66.25,287.7 66.61,287.7 66.61,287.7 66.96,287.7 66.96,240.7 67.31,240.7 67.31,287.7 67.67,287.7 67.67,287.7 68.02,287.7 68.02,287.7 68.37,287.7 68.37,240.7 68.73,240.7 68.73,287.7 69.08,287.7 69.08,287.7 69.44,287.7 69.44,287.7 69.79,287.7 69.79,287.7 70.14,287.7 70.14,287.7 70.50,287.7 70.50,287.7 70.85,287.7 70.85,287.7 71.21,287.7 71.21,287.7 71.56,287.7 71.56,287.7 71.91,287.7 71.91,287.7 72.27,287.7 72.27,287.7 72.62,287.7 72.62,287.7 72.97,287.7 72.97,287.7 73.33,287.7 73.33,287.7 73.68,287.7 73.68,287.7 74.04,287.7 74.04,287.7 74.39,287.7 74.39,287.7 74.74,287.7 74.74,287.7 75.10,287.7 75.10,287.7 75.45,287.7 75.45,287.7 75.81,287.7 75.81,287.7 76.16,287.7 76.16,240.7 76.51,240.7 76.51,287.7 76.87,287.7 76.87,240.7 77.22,240.7 77.22,287.7 77.57,287.7 77.57,229.6 77.93,229.6 77.93,287.7 78.28,287.7 78.28,287.7 78.64,287.7 78.64,287.7 78.99,287.7 78.99,287.7 79.34,287.7 79.34,287.7 79.70,287.7 79.70,287.7 80.05,287.7 80.05,287.7 80.40,287.7 80.40,287.7 80.76,287.7 80.76,287.7 81.11,287.7 81.11,287.7 81.47,287.7 81.47,240.7 81.82,240.7 81.82,287.7 82.17,287.7 82.17,287.7 82.53,287.7 82.53,287.7 82.88,287.7 82.88,287.7 83.24,287.7 83.24,240.7 83.59,240.7 83.59,287.7 83.94,287.7 83.94,287.7 84.30,287.7 84.30,287.7 84.65,287.7 84.65,240.7 85.00,240.7 85.00,287.7 85.36,287.7 85.36,240.7 85.71,240.7 85.71,287.7 86.07,287.7 86.07,287.7 86.42,287.7 86.42,240.7 86.77,240.7 86.77,287.7 87.13,287.7 87.13,287.7 87.48,287.7 87.48,287.7 87.84,287.7 87.84,287.7 88.19,287.7 88.19,287.7 88.54,287.7 88.54,240.7 88.90,240.7 88.90,287.7 89.25,287.7 89.25,287.7 89.60,287.7 89.60,287.7 89.96,287.7 89.96,287.7 90.31,287.7 90.31,287.7 90.67,287.7 90.67,287.7 91.02,287.7 91.02,287.7 91.37,287.7 91.37,287.7 91.73,287.7 91.73,287.7 92.08,287.7 92.08,240.7 92.43,240.7 92.43,287.7 92.79,287.7 92.79,287.7 93.14,287.7 93.14,287.7 93.50,287.7 93.50,287.7 93.85,287.7 93.85,287.7 94.20,287.7 94.20,287.7 94.56,287.7 94.56,287.7 94.91,287.7 94.91,287.7 95.27,287.7 95.27,287.7 95.62,287.7 95.62,240.7 95.97,240.7 95.97,287.7 96.33,287.7 96.33,287.7 96.68,287.7 96.68,287.7 97.03,287.7 97.03,287.7 97.39,287.7 97.39,287.7 97.74,287.7 97.74,287.7 98.10,287.7 98.10,287.7 98.45,287.7 98.45,287.7 98.80,287.7 98.80,287.7 99.16,287.7 99.16,240.7 99.51,240.7 99.51,287.7 99.87,287.7 99.87,287.7 100.22,287.7 100.22,287.7 100.57,287.7 100.57,233.7 100.93,233.7 100.93,240.7 101.28,240.7 101.28,287.7 101.63,287.7 101.63,287.7 101.99,287.7 101.99,287.7 102.34,287.7 102.34,287.7 102.70,287.7 102.70,287.7 103.05,287.7 103.05,287.7 103.40,287.7 103.40,287.7 103.76,287.7 103.76,287.7 104.11,287.7 104.11,287.7 104.47,287.7 104.47,287.7 104.82,287.7 104.82,287.7 105.17,287.7 105.17,287.7 105.53,287.7 105.53,287.7 105.88,287.7 105.88,287.7 106.23,287.7 106.23,287.7 106.59,287.7 106.59,287.7 106.94,287.7 106.94,287.7 107.30,287.7 107.30,287.7 107.65,287.7 107.65,287.7 108.00,287.7 108.00,287.7 108.36,287.7 108.36,287.7 108.71,287.7 108.71,240.7 109.06,240.7 109.06,287.7 109.42,287.7 109.42,240.7 109.77,240.7 109.77,287.7 110.13,287.7 110.13,287.7 110.48,287.7 110.48,240.7 110.83,240.7 110.83,287.7 111.19,287.7 111.19,287.7 111.54,287.7 111.54,287.7 111.90,287.7 111.90,287.7 112.25,287.7 112.25,287.7 112.60,287.7 112.60,240.7 112.96,240.7 112.96,287.7 113.31,287.7 113.31,287.7 113.66,287.7 113.66,287.7 114.02,287.7 114.02,287.7 114.37,287.7 114.37,287.7 114.73,287.7 114.73,287.7 115.08,287.7 115.08,287.7 115.43,287.7 115.43,287.7 115.79,287.7 115.79,287.7 116.14,287.7 116.14,287.7 116.50,287.7 116.50,287.7 116.85,287.7 116.85,240.7 117.20,240.7 117.20,287.7 117.56,287.7 117.56,287.7 117.91,287.7 117.91,287.7 118.26,287.7 118.26,287.7 118.62,287.7 118.62,287.7 118.97,287.7 118.97,287.7 119.33,287.7 119.33,287.7 119.68,287.7 119.68,240.7 120.03,240.7 120.03,287.7 120.39,287.7 120.39,287.7 120.74,287.7 120.74,287.7 121.09,287.7 121.09,287.7 121.45,287.7 121.45,287.7 121.80,287.7 121.80,287.7 122.16,287.7 122.16,287.7 122.51,287.7 122.51,287.7 122.86,287.7 122.86,287.7 123.22,287.7 123.22,287.7 123.57,287.7 123.57,287.7 123.93,287.7 123.93,287.7 124.28,287.7 124.28,287.7 124.63,287.7 124.63,287.7 124.99,287.7 124.99,287.7 125.34,287.7 125.34,287.7 125.69,287.7 125.69,287.7 126.05,287.7 126.05,287.7 126.40,287.7 126.40,287.7 126.76,287.7 126.76,287.7 127.11,287.7 127.11,287.7 127.46,287.7 127.46,287.7 127.82,287.7 127.82,287.7 128.17,287.7 128.17,287.7 128.53,287.7 128.53,287.7 128.88,287.7 128.88,287.7 129.23,287.7 129.23,287.7 129.59,287.7 129.59,287.7 129.94,287.7 129.94,240.7 130.29,240.7 130.29,240.7 130.65,240.7 130.65,287.7 131.00,287.7 131.00,240.7 131.36,240.7 131.36,287.7 131.71,287.7 131.71,240.7 132.06,240.7 132.06,287.7 132.42,287.7 132.42,240.7 132.77,240.7 132.77,287.7 133.12,287.7 133.12,287.7 133.48,287.7 133.48,287.7 133.83,287.7 133.83,287.7 134.19,287.7 134.19,287.7 134.54,287.7 134.54,287.7 134.89,287.7 134.89,240.7 135.25,240.7 135.25,287.7 135.60,287.7 135.60,287.7 135.96,287.7 135.96,287.7 136.31,287.7 136.31,233.7 136.66,233.7 136.66,287.7 137.02,287.7 137.02,240.7 137.37,240.7 137.37,287.7 137.72,287.7 137.72,287.7 138.08,287.7 138.08,240.7 138.43,240.7 138.43,287.7 138.79,287.7 138.79,287.7 139.14,287.7 139.14,287.7 139.49,287.7 139.49,240.7 139.85,240.7 139.85,287.7 140.20,287.7 140.20,287.7 140.56,287.7 140.56,287.7 140.91,287.7 140.91,287.7 141.26,287.7 141.26,287.7 141.62,287.7 141.62,287.7 141.97,287.7 141.97,287.7 142.32,287.7 142.32,287.7 142.68,287.7 142.68,287.7 143.03,287.7 143.03,287.7 143.39,287.7 143.39,287.7 143.74,287.7 143.74,240.7 144.09,240.7 144.09,287.7 144.45,287.7 144.45,287.7 144.80,287.7 144.80,287.7 145.15,287.7 145.15,287.7 145.51,287.7 145.51,287.7 145.86,287.7 145.86,287.7 146.22,287.7 146.22,287.7 146.57,287.7 146.57,287.7 146.92,287.7 146.92,287.7 147.28,287.7 147.28,287.7 147.63,287.7 147.63,287.7 147.99,287.7 147.99,240.7 148.34,240.7 148.34,287.7 148.69,287.7 148.69,287.7 149.05,287.7 149.05,287.7 149.40,287.7 149.40,287.7 149.75,287.7 149.75,287.7 150.11,287.7 150.11,287.7 150.46,287.7 150.46,287.7 150.82,287.7 150.82,287.7 151.17,287.7 151.17,287.7 151.52,287.7 151.52,240.7 151.88,240.7 151.88,240.7 152.23,240.7 152.23,287.7 152.59,287.7 152.59,240.7 152.94,240.7 152.94,287.7 153.29,287.7 153.29,287.7 153.65,287.7 153.65,287.7 154.00,287.7 154.00,287.7 154.35,287.7 154.35,287.7 154.71,287.7 154.71,287.7 155.06,287.7 155.06,287.7 155.42,287.7 155.42,287.7 155.77,287.7 155.77,287.7 156.12,287.7 156.12,287.7 156.48,287.7 156.48,287.7 156.83,287.7 156.83,240.7 157.18,240.7 157.18,287.7 157.54,287.7 157.54,287.7 157.89,287.7 157.89,287.7 158.25,287.7 158.25,287.7 158.60,287.7 158.60,287.7 158.95,287.7 158.95,287.7 159.31,287.7 159.31,287.7 159.66,287.7 159.66,240.7 160.02,240.7 160.02,287.7 160.37,287.7 160.37,287.7 160.72,287.7 160.72,287.7 161.08,287.7 161.08,287.7 161.43,287.7 161.43,287.7 161.78,287.7 161.78,240.7 162.14,240.7 162.14,287.7 162.49,287.7 162.49,287.7 162.85,287.7 162.85,287.7 163.20,287.7 163.20,287.7 163.55,287.7 163.55,287.7 163.91,287.7 163.91,287.7 164.26,287.7 164.26,240.7 164.62,240.7 164.62,287.7 164.97,287.7 164.97,287.7 165.32,287.7 165.32,287.7 165.68,287.7 165.68,240.7 166.03,240.7 166.03,240.7 166.38,240.7 166.38,287.7 166.74,287.7 166.74,287.7 167.09,287.7 167.09,287.7 167.45,287.7 167.45,240.7 167.80,240.7 167.80,287.7 168.15,287.7 168.15,287.7 168.51,287.7 168.51,287.7 168.86,287.7 168.86,240.7 169.21,240.7 169.21,287.7 169.57,287.7 169.57,240.7 169.92,240.7 169.92,287.7 170.28,287.7 170.28,287.7 170.63,287.7 170.63,287.7 170.98,287.7 170.98,287.7 171.34,287.7 171.34,240.7 171.69,240.7 171.69,229.6 172.05,229.6 172.05,233.7 172.40,233.7 172.40,233.7 172.75,233.7 172.75,233.7 173.11,233.7 173.11,233.7 173.46,233.7 173.46,240.7 173.81,240.7 173.81,240.7 174.17,240.7 174.17,240.7 174.52,240.7 174.52,233.7 174.88,233.7 174.88,287.7 175.23,287.7 175.23,233.7 175.58,233.7 175.58,240.7 175.94,240.7 175.94,233.7 176.29,233.7 176.29,229.6 176.65,229.6 176.65,233.7 177.00,233.7 177.00,233.7 177.35,233.7 177.35,233.7 177.71,233.7 177.71,233.7 178.06,233.7 178.06,240.7 178.41,240.7 178.41,240.7 178.77,240.7 178.77,240.7 179.12,240.7 179.12,226.7 179.48,226.7 179.48,229.6 179.83,229.6 179.83,221.1 180.18,221.1 180.18,222.6 180.54,222.6 180.54,224.4 180.89,224.4 180.89,217.4 181.25,217.4 181.25,222.6 181.60,222.6 181.60,221.1 181.95,221.1 181.95,229.6 182.31,229.6 182.31,240.7 182.66,240.7 182.66,233.7 183.01,233.7 183.01,287.7 183.37,287.7 183.37,287.7 183.72,287.7 183.72,287.7 184.08,287.7 184.08,240.7 184.43,240.7 184.43,287.7 184.78,287.7 184.78,287.7 185.14,287.7 185.14,240.7 185.49,240.7 185.49,240.7 185.84,240.7 185.84,233.7 186.20,233.7 186.20,287.7 186.55,287.7 186.55,229.6 186.91,229.6 186.91,233.7 187.26,233.7 187.26,233.7 187.61,233.7 187.61,240.7 187.97,240.7 187.97,287.7 188.32,287.7 188.32,240.7 188.68,240.7 188.68,240.7 189.03,240.7 189.03,240.7 189.38,240.7 189.38,287.7 189.74,287.7 189.74,287.7 190.09,287.7 190.09,240.7 190.44,240.7 190.44,287.7 190.80,287.7 190.80,233.7 191.15,233.7 191.15,233.7 191.51,233.7 191.51,240.7 191.86,240.7 191.86,229.6 192.21,229.6 192.21,224.4 192.57,224.4 192.57,224.4 192.92,224.4 192.92,212.1 193.28,212.1 193.28,219.7 193.63,219.7 193.63,211.5 193.98,211.5 193.98,209.0 194.34,209.0 194.34,209.0 194.69,209.0 194.69,208.2 195.04,208.2 195.04,211.0 195.40,211.0 195.40,221.1 195.75,221.1 195.75,222.6 196.11,222.6 196.11,229.6 196.46,229.6 196.46,233.7 196.81,233.7 196.81,233.7 197.17,233.7 197.17,240.7 197.52,240.7 197.52,240.7 197.87,240.7 197.87,287.7 198.23,287.7 198.23,287.7 198.58,287.7 198.58,233.7 198.94,233.7 198.94,240.7 199.29,240.7 199.29,240.7 199.64,240.7 199.64,240.7 200.00,240.7 200.00,224.4 200.35,224.4 200.35,224.4 200.71,224.4 200.71,226.7 201.06,226.7 201.06,219.7 201.41,219.7 201.41,206.0 201.77,206.0 201.77,207.8 202.12,207.8 202.12,203.2 202.47,203.2 202.47,203.7 202.83,203.7 202.83,204.5 203.18,204.5 203.18,206.7 203.54,206.7 203.54,210.0 203.89,210.0 203.89,207.1 204.24,207.1 204.24,215.6 204.60,215.6 204.60,216.5 204.95,216.5 204.95,222.6 205.31,222.6 205.31,226.7 205.66,226.7 205.66,214.1 206.01,214.1 206.01,213.4 206.37,213.4 206.37,208.6 206.72,208.6 206.72,202.3 207.07,202.3 207.07,197.2 207.43,197.2 207.43,196.8 207.78,196.8 207.78,195.6 208.14,195.6 208.14,195.8 208.49,195.8 208.49,197.4 208.84,197.4 208.84,197.0 209.20,197.0 209.20,204.8 209.55,204.8 209.55,205.4 209.90,205.4 209.90,211.0 210.26,211.0 210.26,219.7 210.61,219.7 210.61,229.6 210.97,229.6 210.97,287.7 211.32,287.7 211.32,229.6 211.67,229.6 211.67,240.7 212.03,240.7 212.03,226.7 212.38,226.7 212.38,233.7 212.74,233.7 212.74,233.7 213.09,233.7 213.09,240.7 213.44,240.7 213.44,233.7 213.80,233.7 213.80,240.7 214.15,240.7 214.15,240.7 214.50,240.7 214.50,287.7 214.86,287.7 214.86,224.4 215.21,224.4 215.21,240.7 215.57,240.7 215.57,226.7 215.92,226.7 215.92,240.7 216.27,240.7 216.27,287.7 216.63,287.7 216.63,287.7 216.98,287.7 216.98,233.7 217.34,233.7 217.34,287.7 217.69,287.7 217.69,287.7 218.04,287.7 218.04,287.7 218.40,287.7 218.40,287.7 218.75,287.7 218.75,240.7 219.10,240.7 219.10,240.7 219.46,240.7 219.46,240.7 219.81,240.7 219.81,287.7 220.17,287.7 220.17,287.7 220.52,287.7 220.52,240.7 220.87,240.7 220.87,240.7 221.23,240.7 221.23,240.7 221.58,240.7 221.58,233.7 221.93,233.7 221.93,287.7 222.29,287.7 222.29,287.7 222.64,287.7 222.64,240.7 223.00,240.7 223.00,287.7 223.35,287.7 223.35,240.7 223.70,240.7 223.70,287.7 224.06,287.7 224.06,287.7 224.41,287.7 224.41,287.7 224.77,287.7 224.77,287.7 225.12,287.7 225.12,287.7 225.47,287.7 225.47,287.7 225.83,287.7 225.83,287.7 226.18,287.7 226.18,240.7 226.53,240.7 226.53,287.7 226.89,287.7 226.89,287.7 227.24,287.7 227.24,287.7 227.60,287.7 227.60,240.7 227.95,240.7 227.95,240.7 228.30,240.7 228.30,240.7 228.66,240.7 228.66,240.7 229.01,240.7 229.01,240.7 229.37,240.7 229.37,233.7 229.72,233.7 229.72,240.7 230.07,240.7 230.07,287.7 230.43,287.7 230.43,240.7 230.78,240.7 230.78,240.7 231.13,240.7 231.13,287.7 231.49,287.7 231.49,287.7 231.84,287.7 231.84,287.7 232.20,287.7 232.20,240.7 232.55,240.7 232.55,240.7 232.90,240.7 232.90,233.7 233.26,233.7 233.26,240.7 233.61,240.7 233.61,287.7 233.96,287.7 233.96,287.7 234.32,287.7 234.32,287.7 234.67,287.7 234.67,287.7 235.03,287.7 235.03,287.7 235.38,287.7 235.38,287.7 235.73,287.7 235.73,287.7 236.09,287.7 236.09,287.7 236.44,287.7 236.44,233.7 236.80,233.7 236.80,287.7 237.15,287.7 237.15,287.7 237.50,287.7 237.50,287.7 237.86,287.7 237.86,240.7 238.21,240.7 238.21,240.7 238.56,240.7 238.56,287.7 238.92,287.7 238.92,240.7 239.27,240.7 239.27,240.7 239.63,240.7 239.63,287.7 239.98,287.7 239.98,240.7 240.33,240.7 240.33,287.7 240.69,287.7 240.69,287.7 241.04,287.7 241.04,287.7 241.40,287.7 241.40,287.7 241.75,287.7 241.75,233.7 242.10,233.7 242.10,226.7 242.46,226.7 242.46,224.4 242.81,224.4 242.81,240.7 243.16,240.7 243.16,240.7 243.52,240.7 243.52,229.6 243.87,229.6 243.87,240.7 244.23,240.7 244.23,226.7 244.58,226.7 244.58,240.7 244.93,240.7 244.93,229.6 245.29,229.6 245.29,233.7 245.64,233.7 245.64,229.6 246.00,229.6 246.00,229.6 246.35,229.6 246.35,229.6 246.70,229.6 246.70,233.7 247.06,233.7 247.06,229.6 247.41,229.6 247.41,224.4 247.76,224.4 247.76,218.5 248.12,218.5 248.12,217.4 248.47,217.4 248.47,214.8 248.83,214.8 248.83,213.4 249.18,213.4 249.18,211.0 249.53,211.0 249.53,207.4 249.89,207.4 249.89,213.4 250.24,213.4 250.24,210.5 250.59,210.5 250.59,209.5 250.95,209.5 250.95,213.4 251.30,213.4 251.30,216.5 251.66,216.5 251.66,226.7 252.01,226.7 252.01,226.7 252.36,226.7 252.36,240.7 252.72,240.7 252.72,287.7 253.07,287.7 253.07,233.7 253.43,233.7 253.43,240.7 253.78,240.7 253.78,287.7 254.13,287.7 254.13,240.7 254.49,240.7 254.49,240.7 254.84,240.7 254.84,240.7 255.19,240.7 255.19,287.7 255.55,287.7 255.55,240.7 255.90,240.7 255.90,233.7 256.26,233.7 256.26,287.7 256.61,287.7 256.61,233.7 256.96,233.7 256.96,240.7 257.32,240.7 257.32,287.7 257.67,287.7 257.67,287.7 258.03,287.7 258.03,233.7 258.38,233.7 258.38,287.7 258.73,287.7 258.73,240.7 259.09,240.7 259.09,287.7 259.44,287.7 259.44,287.7 259.79,287.7 259.79,240.7 260.15,240.7 260.15,287.7 260.50,287.7 260.50,287.7 260.86,287.7 260.86,240.7 261.21,240.7 261.21,233.7 261.56,233.7 261.56,233.7 261.92,233.7 261.92,240.7 262.27,240.7 262.27,233.7 262.62,233.7 262.62,224.4 262.98,224.4 262.98,240.7 263.33,240.7 263.33,233.7 263.69,233.7 263.69,287.7 264.04,287.7 264.04,229.6 264.39,229.6 264.39,240.7 264.75,240.7 264.75,229.6 265.10,229.6 265.10,233.7 265.46,233.7 265.46,233.7 265.81,233.7 265.81,226.7 266.16,226.7 266.16,229.6 266.52,229.6 266.52,229.6 266.87,229.6 266.87,226.7 267.22,226.7 267.22,229.6 267.58,229.6 267.58,240.7 267.93,240.7 267.93,240.7 268.29,240.7 268.29,229.6 268.64,229.6 268.64,240.7 268.99,240.7 268.99,240.7 269.35,240.7 269.35,233.7 269.70,233.7 269.70,240.7 270.06,240.7 270.06,226.7 270.41,226.7 270.41,233.7 270.76,233.7 270.76,233.7 271.12,233.7 271.12,222.6 271.47,222.6 271.47,233.7 271.82,233.7 271.82,229.6 272.18,229.6 272.18,287.7 272.53,287.7 272.53,229.6 272.89,229.6 272.89,229.6 273.24,229.6 273.24,233.7 273.59,233.7 273.59,240.7 273.95,240.7 273.95,222.6 274.30,222.6 274.30,222.6 274.65,222.6 274.65,229.6 275.01,229.6 275.01,224.4 275.36,224.4 275.36,229.6 275.72,229.6 275.72,221.1 276.07,221.1 276.07,222.6 276.42,222.6 276.42,219.7 276.78,219.7 276.78,221.1 277.13,221.1 277.13,212.1 277.49,212.1 277.49,206.4 277.84,206.4 277.84,203.7 278.19,203.7 278.19,201.4 278.55,201.4 278.55,200.2 278.90,200.2 278.90,196.3 279.25,196.3 279.25,194.2 279.61,194.2 279.61,193.3 279.96,193.3 279.96,194.2 280.32,194.2 280.32,194.1 280.67,194.1 280.67,196.5 281.02,196.5 281.02,200.4 281.38,200.4 281.38,199.9 281.73,199.9 281.73,202.7 282.09,202.7 282.09,207.4 282.44,207.4 282.44,211.0 282.79,211.0 282.79,210.0 283.15,210.0 283.15,216.5 283.50,216.5 283.50,214.1 283.85,214.1 283.85,214.8 284.21,214.8 284.21,221.1 284.56,221.1 284.56,218.5 284.92,218.5 284.92,226.7 285.27,226.7 285.27,229.6 285.62,229.6 285.62,226.7 285.98,226.7 285.98,229.6 286.33,229.6 286.33,287.7 286.68,287.7 286.68,287.7 287.04,287.7 287.04,287.7 287.39,287.7 287.39,287.7 287.75,287.7 287.75,287.7 288.10,287.7 288.10,287.7 288.45,287.7 288.45,287.7 288.81,287.7 288.81,287.7 289.16,287.7 289.16,240.7 289.52,240.7 289.52,287.7 289.87,287.7 289.87,240.7 290.22,240.7 290.22,287.7 290.58,287.7 290.58,287.7 290.93,287.7 290.93,287.7 291.28,287.7 291.28,287.7 291.64,287.7 291.64,240.7 291.99,240.7 291.99,287.7 292.35,287.7 292.35,287.7 292.70,287.7 292.70,240.7 293.05,240.7 293.05,287.7 293.41,287.7 293.41,287.7 293.76,287.7 293.76,287.7 294.12,287.7 294.12,287.7 294.47,287.7 294.47,287.7 294.82,287.7 294.82,287.7 295.18,287.7 295.18,287.7 295.53,287.7 295.53,287.7 295.88,287.7 295.88,287.7 296.24,287.7 296.24,287.7 296.59,287.7 296.59,287.7 296.95,287.7 296.95,287.7 297.30,287.7 297.30,287.7 297.65,287.7 297.65,287.7 298.01,287.7 298.01,287.7 298.36,287.7 298.36,287.7 298.71,287.7 298.71,233.7 299.07,233.7 299.07,287.7 299.42,287.7 299.42,287.7 299.78,287.7 299.78,287.7 300.13,287.7 300.13,287.7 300.48,287.7 300.48,287.7 300.84,287.7 300.84,287.7 301.19,287.7 301.19,287.7 301.55,287.7 301.55,287.7 301.90,287.7 301.90,287.7 302.25,287.7 302.25,287.7 302.61,287.7 302.61,287.7 302.96,287.7 302.96,287.7 303.31,287.7 303.31,287.7 303.67,287.7 303.67,287.7 304.02,287.7 304.02,287.7 304.38,287.7 304.38,287.7 304.73,287.7 304.73,287.7 305.08,287.7 305.08,287.7 305.44,287.7 305.44,287.7 305.79,287.7 305.79,287.7 306.15,287.7 306.15,287.7 306.50,287.7 306.50,287.7 306.85,287.7 306.85,287.7 307.21,287.7 307.21,287.7 307.56,287.7 307.56,287.7 307.91,287.7 307.91,287.7 308.27,287.7 308.27,287.7 308.62,287.7 308.62,287.7 308.98,287.7 308.98,287.7 309.33,287.7 309.33,287.7 309.68,287.7 309.68,287.7 310.04,287.7 310.04,287.7 310.39,287.7 310.39,287.7 310.74,287.7 310.74,287.7 311.10,287.7 311.10,287.7 311.45,287.7 311.45,287.7 311.81,287.7 311.81,287.7 312.16,287.7 312.16,287.7 312.51,287.7 312.51,287.7 312.87,287.7 312.87,287.7 313.22,287.7 313.22,287.7 313.58,287.7 313.58,287.7 313.93,287.7 313.93,287.7 314.28,287.7 314.28,287.7 314.64,287.7 314.64,287.7 314.99,287.7 314.99,287.7 315.34,287.7 315.34,287.7 315.70,287.7 315.70,287.7 316.05,287.7 316.05,287.7 316.41,287.7 316.41,287.7 316.76,287.7 316.76,287.7 317.11,287.7 317.11,287.7 317.47,287.7 317.47,287.7 317.82,287.7 317.82,287.7 318.18,287.7 318.18,287.7 318.53,287.7 318.53,287.7 318.88,287.7 318.88,240.7 319.24,240.7 319.24,287.7 319.59,287.7 319.59,287.7 319.94,287.7 319.94,287.7 320.30,287.7 320.30,287.7 320.65,287.7 320.65,287.7 321.01,287.7 321.01,287.7 321.36,287.7 321.36,287.7 321.71,287.7 321.71,287.7 322.07,287.7 322.07,287.7 322.42,287.7 322.42,287.7 322.78,287.7 322.78,287.7 323.13,287.7 323.13,287.7 323.48,287.7 323.48,287.7 323.84,287.7 323.84,287.7 324.19,287.7 324.19,240.7 324.54,240.7 324.54,287.7 324.90,287.7 324.90,287.7 325.25,287.7 325.25,287.7 325.61,287.7 325.61,287.7 325.96,287.7 325.96,287.7 326.31,287.7 326.31,287.7 326.67,287.7 326.67,287.7 327.02,287.7 327.02,287.7 327.37,287.7 327.37,287.7 327.73,287.7 327.73,287.7 328.08,287.7 328.08,287.7 328.44,287.7 328.44,287.7 328.79,287.7 328.79,287.7 329.14,287.7 329.14,240.7 329.50,240.7 329.50,287.7 329.85,287.7 329.85,287.7 330.21,287.7 330.21,287.7 330.56,287.7 330.56,287.7 330.91,287.7 330.91,240.7 331.27,240.7 331.27,287.7 331.62,287.7 331.62,287.7 331.97,287.7 331.97,287.7 332.33,287.7 332.33,287.7 332.68,287.7 332.68,287.7 333.04,287.7 333.04,287.7 333.39,287.7 333.39,287.7 333.74,287.7 333.74,287.7 334.10,287.7 334.10,287.7 334.45,287.7 334.45,287.7 334.81,287.7 334.81,287.7 335.16,287.7 335.16,287.7 335.51,287.7 335.51,287.7 335.87,287.7 335.87,287.7 336.22,287.7 336.22,287.7 336.57,287.7 336.57,287.7 336.93,287.7 336.93,287.7 337.28,287.7 337.28,240.7 337.64,240.7 337.64,287.7 337.99,287.7 337.99,287.7 338.34,287.7 338.34,287.7 338.70,287.7 338.70,287.7 339.05,287.7 339.05,287.7 339.40,287.7 339.40,287.7 339.76,287.7 339.76,287.7 340.11,287.7 340.11,287.7 340.47,287.7 340.47,240.7 340.82,240.7 340.82,287.7 341.17,287.7 341.17,287.7 341.53,287.7 341.53,287.7 341.88,287.7 341.88,287.7 342.24,287.7 342.24,287.7 342.59,287.7 342.59,287.7 342.94,287.7 342.94,287.7 343.30,287.7 343.30,287.7 343.65,287.7 343.65,287.7 344.00,287.7 344.00,287.7 344.36,287.7 344.36,287.7 344.71,287.7 344.71,287.7 345.07,287.7 345.07,287.7 345.42,287.7 345.42,287.7 345.77,287.7 345.77,287.7 346.13,287.7 346.13,287.7 346.48,287.7 346.48,287.7 346.84,287.7 346.84,287.7 347.19,287.7 347.19,287.7 347.54,287.7 347.54,287.7 347.90,287.7 347.90,287.7 348.25,287.7 348.25,287.7 348.60,287.7 348.60,287.7 348.96,287.7 348.96,287.7 349.31,287.7 349.31,287.7 349.67,287.7 349.67,233.7 350.02,233.7 350.02,287.7 350.37,287.7 350.37,287.7 350.73,287.7 350.73,287.7 351.08,287.7 351.08,287.7 351.43,287.7 351.43,240.7 351.79,240.7 351.79,287.7 352.14,287.7 352.14,240.7 352.50,240.7 352.50,287.7 352.85,287.7 352.85,240.7 353.20,240.7 353.20,287.7 353.56,287.7 353.56,287.7 353.91,287.7 353.91,240.7 354.27,240.7 354.27,287.7 354.62,287.7 354.62,229.6 354.97,229.6 354.97,287.7 355.33,287.7 355.33,287.7 355.68,287.7 355.68,287.7 356.03,287.7 356.03,287.7 356.39,287.7 356.39,240.7 356.74,240.7 356.74,287.7 357.10,287.7 357.10,287.7 357.45,287.7 357.45,287.7 357.80,287.7 357.80,287.7 358.16,287.7 358.16,287.7 358.51,287.7 358.51,240.7 358.87,240.7 358.87,287.7 359.22,287.7 359.22,240.7 359.57,240.7 359.57,287.7 359.93,287.7 359.93,233.7 360.28,233.7 360.28,287.7 360.63,287.7 360.63,233.7 360.99,233.7 360.99,287.7 361.34,287.7 361.34,240.7 361.70,240.7 361.70,287.7 362.05,287.7 362.05,287.7 362.40,287.7 362.40,287.7 362.76,287.7 362.76,240.7 363.11,240.7 363.11,287.7 363.46,287.7 363.46,287.7 363.82,287.7 363.82,287.7 364.17,287.7 364.17,240.7 364.53,240.7 364.53,287.7 364.88,287.7 364.88,240.7 365.23,240.7 365.23,287.7 365.59,287.7 365.59,240.7 365.94,240.7 365.94,233.7 366.30,233.7 366.30,240.7 366.65,240.7 366.65,240.7 367.00,240.7 367.00,287.7 367.36,287.7 367.36,287.7 367.71,287.7 367.71,287.7 368.06,287.7 368.06,287.7 368.42,287.7 368.42,233.7 368.77,233.7 368.77,240.7 369.13,240.7 369.13,240.7 369.48,240.7 369.48,226.7 369.83,226.7 369.83,240.7 370.19,240.7 370.19,222.6 370.54,222.6 370.54,240.7 370.90,240.7 370.90,287.7 371.25,287.7 371.25,229.6 371.60,229.6 371.60,233.7 371.96,233.7 371.96,226.7 372.31,226.7 372.31,226.7 372.66,226.7 372.66,226.7 373.02,226.7 373.02,229.6 373.37,229.6 373.37,233.7 373.73,233.7 373.73,233.7 374.08,233.7 374.08,224.4 374.43,224.4 374.43,222.6 374.79,222.6 374.79,233.7 375.14,233.7 375.14,233.7 375.49,233.7 375.49,226.7 375.85,226.7 375.85,222.6 376.20,222.6 376.20,226.7 376.56,226.7 376.56,224.4 376.91,224.4 376.91,215.6 377.26,215.6 377.26,222.6 377.62,222.6 377.62,216.5 377.97,216.5 377.97,214.1 378.33,214.1 378.33,213.4 378.68,213.4 378.68,205.7 379.03,205.7 379.03,202.0 379.39,202.0 379.39,202.7 379.74,202.7 379.74,198.9 380.09,198.9 380.09,195.8 380.45,195.8 380.45,193.6 380.80,193.6 380.80,194.8 381.16,194.8 381.16,192.4 381.51,192.4 381.51,194.9 381.86,194.9 381.86,197.2 382.22,197.2 382.22,199.2 382.57,199.2 382.57,201.0 382.93,201.0 382.93,203.0 383.28,203.0 383.28,202.3 383.63,202.3 383.63,202.5 383.99,202.5 383.99,202.3 384.34,202.3 384.34,202.3 384.69,202.3 384.69,200.6 385.05,200.6 385.05,200.4 385.40,200.4 385.40,204.8 385.76,204.8 385.76,205.1 386.11,205.1 386.11,207.1 386.46,207.1 386.46,215.6 386.82,215.6 386.82,218.5 387.17,218.5 387.17,226.7 387.52,226.7 387.52,233.7 387.88,233.7 387.88,229.6 388.23,229.6 388.23,229.6 388.59,229.6 388.59,240.7 388.94,240.7 388.94,287.7 389.29,287.7 389.29,287.7 389.65,287.7 389.65,287.7 390.00,287.7 390.00,287.7 390.36,287.7 390.36,287.7 390.71,287.7 390.71,287.7 391.06,287.7 391.06,287.7 391.42,287.7 391.42,240.7 391.77,240.7 391.77,287.7 392.12,287.7 392.12,287.7 392.48,287.7 392.48,287.7 392.83,287.7 392.83,287.7 393.19,287.7 393.19,287.7 393.54,287.7 393.54,287.7 393.89,287.7 393.89,287.7 394.25,287.7 394.25,240.7 394.60,240.7 394.60,287.7 394.96,287.7 394.96,287.7 395.31,287.7 395.31,287.7 395.66,287.7 395.66,287.7 396.02,287.7 396.02,287.7 396.37,287.7 396.37,287.7 396.72,287.7 396.72,287.7 397.08,287.7 397.08,287.7 397.43,287.7 397.43,287.7 397.79,287.7 397.79,287.7 398.14,287.7 398.14,287.7 398.49,287.7 398.49,287.7 398.85,287.7 398.85,287.7 399.20,287.7 399.20,287.7 399.56,287.7 399.56,287.7 399.91,287.7 399.91,287.7 400.26,287.7 400.26,287.7 400.62,287.7 400.62,287.7 400.97,287.7 400.97,287.7 401.32,287.7 401.32,287.7 401.68,287.7 401.68,287.7 402.03,287.7 402.03,287.7 402.39,287.7 402.39,287.7 402.74,287.7 402.74,287.7 403.09,287.7 403.09,287.7 403.45,287.7 403.45,287.7 403.80,287.7 403.80,287.7 404.15,287.7 404.15,287.7 404.51,287.7 404.51,287.7 404.86,287.7 404.86,287.7 405.22,287.7 405.22,287.7 405.57,287.7 405.57,287.7 405.92,287.7 405.92,287.7 406.28,287.7 406.28,287.7 406.63,287.7 406.63,287.7 406.99,287.7 406.99,287.7 407.34,287.7 407.34,287.7 407.69,287.7 407.69,287.7 408.05,287.7 408.05,287.7 408.40,287.7 408.40,240.7 408.75,240.7 408.75,233.7 409.11,233.7 409.11,287.7 409.46,287.7 409.46,287.7 409.82,287.7 409.82,287.7 410.17,287.7 410.17,287.7 410.52,287.7 410.52,287.7 410.88,287.7 410.88,240.7 411.23,240.7 411.23,287.7 411.59,287.7 411.59,287.7 411.94,287.7 411.94,287.7 412.29,287.7 412.29,287.7 412.65,287.7 412.65,287.7 413.00,287.7 413.00,287.7 413.35,287.7 413.35,287.7 413.71,287.7 413.71,287.7 414.06,287.7 414.06,287.7 414.42,287.7 414.42,287.7 414.77,287.7 414.77,287.7 415.12,287.7 415.12,287.7 415.48,287.7 415.48,240.7 415.83,240.7 415.83,287.7 416.18,287.7 416.18,287.7 416.54,287.7 416.54,287.7 416.89,287.7 416.89,287.7 417.25,287.7 417.25,287.7 417.60,287.7 417.60,287.7 417.95,287.7 417.95,287.7 418.31,287.7 418.31,287.7 418.66,287.7 418.66,287.7 419.02,287.7 419.02,287.7 419.37,287.7 419.37,287.7 419.72,287.7 419.72,287.7 420.08,287.7 420.08,287.7 420.43,287.7 420.43,287.7 420.78,287.7 420.78,287.7 421.14,287.7 421.14,287.7 421.49,287.7 421.49,287.7 421.85,287.7 421.85,287.7 422.20,287.7 422.20,287.7 422.55,287.7 422.55,287.7 422.91,287.7 422.91,287.7 423.26,287.7 423.26,287.7 423.62,287.7 423.62,287.7 423.97,287.7 423.97,287.7 424.32,287.7 424.32,287.7 424.68,287.7 424.68,287.7 425.03,287.7 425.03,287.7 425.38,287.7 425.38,287.7 425.74,287.7 425.74,287.7 426.09,287.7 426.09,287.7 426.45,287.7 426.45,287.7 426.80,287.7 426.80,287.7 427.15,287.7 427.15,287.7 427.51,287.7 427.51,287.7 427.86,287.7 427.86,287.7 428.21,287.7 428.21,287.7 428.57,287.7 428.57,287.7 428.92,287.7 428.92,287.7 429.28,287.7 429.28,287.7 429.63,287.7 429.63,287.7 429.98,287.7 429.98,240.7 430.34,240.7 430.34,287.7 430.69,287.7 430.69,287.7 431.05,287.7 431.05,240.7 431.40,240.7 431.40,233.7 431.75,233.7 431.75,240.7 432.11,240.7 432.11,287.7 432.46,287.7 432.46,287.7 432.81,287.7 432.81,240.7 433.17,240.7 433.17,287.7 433.52,287.7 433.52,287.7 433.88,287.7 433.88,287.7 434.23,287.7 434.23,287.7 434.58,287.7 434.58,287.7 434.94,287.7 434.94,240.7 435.29,240.7 435.29,240.7 435.65,240.7 435.65,287.7 436.00,287.7 436.00,287.7 436.35,287.7 436.35,287.7 436.71,287.7 436.71,287.7 437.06,287.7 437.06,287.7 437.41,287.7 437.41,287.7 437.77,287.7 437.77,240.7 438.12,240.7 438.12,240.7 438.48,240.7 438.48,233.7 438.83,233.7 438.83,287.7 439.18,287.7 439.18,287.7 439.54,287.7 439.54,287.7 439.89,287.7 439.89,287.7 440.24,287.7 440.24,287.7 440.60,287.7 440.60,287.7 440.95,287.7 440.95,287.7 441.31,287.7 441.31,287.7 441.66,287.7 441.66,287.7 442.01,287.7 442.01,287.7 442.37,287.7 442.37,287.7 442.72,287.7 442.72,287.7 443.08,287.7 443.08,287.7 443.43,287.7 443.43,287.7 443.78,287.7 443.78,287.7 444.14,287.7 444.14,287.7 444.49,287.7 444.49,287.7 444.84,287.7 444.84,287.7 445.20,287.7 445.20,287.7 445.55,287.7 445.55,287.7 445.91,287.7 445.91,287.7 446.26,287.7 446.26,287.7 446.61,287.7 446.61,287.7 446.97,287.7 446.97,287.7 447.32,287.7 447.32,287.7 447.68,287.7 447.68,233.7 448.03,233.7 448.03,287.7 448.38,287.7 448.38,287.7 448.74,287.7 448.74,287.7 449.09,287.7 449.09,287.7 449.44,287.7 449.44,287.7 449.80,287.7 449.80,287.7 450.15,287.7 450.15,287.7 450.51,287.7 450.51,287.7 450.86,287.7 450.86,287.7 451.21,287.7 451.21,287.7 451.57,287.7 451.57,240.7 451.92,240.7 451.92,287.7 452.27,287.7 452.27,287.7 452.63,287.7 452.63,287.7 452.98,287.7 452.98,287.7 453.34,287.7 453.34,287.7 453.69,287.7 453.69,287.7 454.04,287.7 454.04,287.7 454.40,287.7 454.40,287.7 454.75,287.7 454.75,287.7 455.11,287.7 455.11,287.7 455.46,287.7 455.46,287.7 455.81,287.7 455.81,287.7 456.17,287.7 456.17,287.7 456.52,287.7 456.52,287.7 456.87,287.7 456.87,287.7 457.23,287.7 457.23,287.7 457.58,287.7 457.58,287.7 457.94,287.7 457.94,287.7 458.29,287.7 458.29,287.7 458.64,287.7 458.64,287.7 459.00,287.7 459.00,240.7 459.35,240.7 459.35,287.7 459.71,287.7 459.71,287.7 460.06,287.7 460.06,287.7 460.41,287.7 460.41,240.7 460.77,240.7 460.77,287.7 461.12,287.7 461.12,287.7 461.47,287.7 461.47,240.7 461.83,240.7 461.83,287.7 462.18,287.7 462.18,287.7 462.54,287.7 462.54,287.7 462.89,287.7 462.89,287.7 463.24,287.7 463.24,287.7 463.60,287.7 463.60,287.7 463.95,287.7 463.95,287.7 464.31,287.7 464.31,287.7 464.66,287.7 464.66,287.7 465.01,287.7 465.01,287.7 465.37,287.7 465.37,287.7 465.72,287.7 465.72,287.7 466.07,287.7 466.07,287.7 466.43,287.7 466.43,240.7 466.78,240.7 466.78,287.7 467.14,287.7 467.14,287.7 467.49,287.7 467.49,287.7 467.84,287.7 467.84,287.7 468.20,287.7 468.20,287.7 468.55,287.7 468.55,287.7 468.90,287.7 468.90,287.7 469.26,287.7 469.26,287.7 469.61,287.7 469.61,287.7 469.97,287.7 469.97,287.7 470.32,287.7 470.32,287.7 470.67,287.7 470.67,287.7 471.03,287.7 471.03,240.7 471.38,240.7 471.38,240.7 471.74,240.7 471.74,240.7 472.09,240.7 472.09,240.7 472.44,240.7 472.44,287.7 472.80,287.7 472.80,233.7 473.15,233.7 473.15,240.7 473.50,240.7 473.50,240.7 473.86,240.7 473.86,240.7 474.21,240.7 474.21,240.7 474.57,240.7 474.57,287.7 474.92,287.7 474.92,240.7 475.27,240.7 475.27,287.7 475.63,287.7 475.63,287.7 475.98,287.7 475.98,287.7 476.34,287.7 476.34,287.7 476.69,287.7 476.69,287.7 477.04,287.7 477.04,287.7 477.40,287.7 477.40,287.7 477.75,287.7 477.75,240.7 478.10,240.7 478.10,287.7 478.46,287.7 478.46,287.7 478.81,287.7 478.81,287.7 479.17,287.7 479.17,287.7 479.52,287.7 479.52,287.7 479.87,287.7 479.87,287.7 480.23,287.7 480.23,287.7 480.58,287.7 480.58,287.7 480.93,287.7 480.93,287.7 481.29,287.7 481.29,287.7 481.64,287.7 481.64,287.7 482.00,287.7 482.00,287.7 482.35,287.7 482.35,287.7 482.70,287.7 482.70,287.7 483.06,287.7 483.06,287.7 483.41,287.7 483.41,233.7 483.77,233.7 483.77,287.7 484.12,287.7 484.12,287.7 484.47,287.7 484.47,287.7 484.83,287.7 484.83,287.7 485.18,287.7 485.18,287.7 485.53,287.7 485.53,287.7 485.89,287.7 485.89,287.7 486.24,287.7 486.24,287.7 486.60,287.7 486.60,287.7 486.95,287.7 486.95,287.7 487.30,287.7 487.30,287.7 487.66,287.7 487.66,287.7 488.01,287.7 488.01,287.7 488.37,287.7 488.37,287.7 488.72,287.7 488.72,240.7 489.07,240.7 489.07,240.7 489.43,240.7 489.43,287.7 489.78,287.7 489.78,287.7 490.13,287.7 490.13,287.7 490.49,287.7 490.49,287.7 490.84,287.7 490.84,287.7 491.20,287.7 491.20,240.7 491.55,240.7 491.55,287.7 491.90,287.7 491.90,287.7 492.26,287.7 492.26,287.7 492.61,287.7 492.61,287.7 492.96,287.7 492.96,240.7 493.32,240.7 493.32,287.7 493.67,287.7 493.67,287.7 494.03,287.7 494.03,287.7 494.38,287.7 494.38,240.7 494.73,240.7 494.73,287.7 495.09,287.7 495.09,287.7 495.44,287.7 495.44,287.7 495.80,287.7 495.80,287.7 496.15,287.7 496.15,287.7 496.50,287.7 496.50,287.7 496.86,287.7 496.86,287.7 497.21,287.7 497.21,287.7 497.56,287.7 497.56,287.7 497.92,287.7 497.92,240.7 498.27,240.7 498.27,287.7 498.63,287.7 498.63,287.7 498.98,287.7 498.98,287.7 499.33,287.7 499.33,240.7 499.69,240.7 499.69,287.7 500.04,287.7 500.04,287.7 500.40,287.7 500.40,233.7 500.75,233.7 500.75,287.7 501.10,287.7 501.10,287.7 501.46,287.7 501.46,287.7 501.81,287.7 501.81,287.7 502.16,287.7 502.16,287.7 502.52,287.7 502.52,287.7 502.87,287.7 502.87,287.7 503.23,287.7 503.23,287.7 503.58,287.7 503.58,240.7 503.93,240.7 503.93,287.7 504.29,287.7 504.29,287.7 504.64,287.7 504.64,240.7 504.99,240.7 504.99,287.7 505.35,287.7 505.35,287.7 505.70,287.7 505.70,233.7 506.06,233.7 506.06,287.7 506.41,287.7 506.41,287.7 506.76,287.7 506.76,240.7 507.12,240.7 507.12,240.7 507.47,240.7 507.47,287.7 507.83,287.7 507.83,287.7 508.18,287.7 508.18,240.7 508.53,240.7 508.53,287.7 508.89,287.7 508.89,240.7 509.24,240.7 509.24,287.7 509.59,287.7 509.59,287.7 509.95,287.7 509.95,287.7 510.30,287.7 510.30,287.7 510.66,287.7 510.66,287.7 511.01,287.7 511.01,287.7 511.36,287.7 511.36,287.7 511.72,287.7 511.72,287.7 512.07,287.7 512.07,287.7 512.43,287.7 512.43,287.7 512.78,287.7 512.78,287.7 513.13,287.7 513.13,287.7 513.49,287.7 513.49,287.7 513.84,287.7 513.84,287.7 514.19,287.7 514.19,287.7 514.55,287.7 514.55,287.7 514.90,287.7 514.90,240.7 515.26,240.7 515.26,287.7 515.61,287.7 515.61,287.7 515.96,287.7 515.96,287.7 516.32,287.7 516.32,287.7 516.67,287.7 516.67,287.7 517.02,287.7 517.02,287.7 517.38,287.7 517.38,287.7 517.73,287.7 517.73,287.7 518.09,287.7 518.09,287.7 518.44,287.7 518.44,287.7 518.79,287.7 518.79,287.7 519.15,287.7 519.15,287.7 519.50,287.7 519.50,287.7 519.86,287.7 519.86,240.7 520.21,240.7 520.21,240.7 520.56,240.7 520.56,287.7 520.92,287.7 520.92,287.7 521.27,287.7 521.27,287.7 521.62,287.7 521.62,287.7 521.98,287.7 521.98,287.7 522.33,287.7 522.33,240.7 522.69,240.7 522.69,287.7 523.04,287.7 523.04,287.7 523.39,287.7 523.39,287.7 523.75,287.7 523.75,240.7 524.10,240.7 524.10,287.7 524.46,287.7 524.46,287.7 524.81,287.7 524.81,287.7 525.16,287.7 525.16,287.7 525.52,287.7 525.52,287.7 525.87,287.7 525.87,287.7 526.22,287.7 526.22,287.7 526.58,287.7 526.58,287.7 526.93,287.7 526.93,287.7 527.29,287.7 527.29,287.7 527.64,287.7 527.64,287.7 527.99,287.7 527.99,287.7 528.35,287.7 528.35,287.7 528.70,287.7 528.70,233.7 529.05,233.7 529.05,240.7 529.41,240.7 529.41,287.7 529.76,287.7 529.76,287.7 530.12,287.7 530.12,287.7 530.47,287.7 530.47,287.7 530.82,287.7 530.82,287.7 531.18,287.7 531.18,287.7 531.53,287.7 531.53,287.7 531.89,287.7 531.89,287.7 532.24,287.7 532.24,287.7 532.59,287.7 532.59,287.7 532.95,287.7 532.95,287.7 533.30,287.7 533.30,287.7 533.65,287.7 533.65,287.7 534.01,287.7 534.01,287.7 534.36,287.7 534.36,287.7 534.72,287.7 534.72,287.7 535.07,287.7 535.07,287.7 535.42,287.7 535.42,233.7 535.78,233.7 535.78,287.7 536.13,287.7 536.13,233.7 536.49,233.7 536.49,240.7 536.84,240.7 536.84,240.7 537.19,240.7 537.19,287.7 537.55,287.7 537.55,240.7 537.90,240.7 537.90,240.7 538.25,240.7 538.25,240.7 538.61,240.7 538.61,287.7 538.96,287.7 538.96,240.7 539.32,240.7 539.32,240.7 539.67,240.7 539.67,287.7 540.02,287.7 540.02,287.7 540.38,287.7 540.38,240.7 540.73,240.7 540.73,240.7 541.09,240.7 541.09,233.7 541.44,233.7 541.44,287.7 541.79,287.7 541.79,240.7 542.15,240.7 542.15,287.7 542.50,287.7 542.50,240.7 542.85,240.7 542.85,287.7 543.21,287.7 543.21,287.7 543.56,287.7 543.56,287.7 543.92,287.7 543.92,240.7 544.27,240.7 544.27,287.7 544.62,287.7 544.62,287.7 544.98,287.7 544.98,287.7 545.33,287.7 545.33,287.7 545.68,287.7 545.68,226.7 546.04,226.7 546.04,287.7 546.39,287.7 546.39,240.7 546.75,240.7 546.75,240.7 547.10,240.7 547.10,240.7 547.45,240.7 547.45,287.7 547.81,287.7 547.81,287.7 548.16,287.7 548.16,240.7 548.52,240.7 548.52,240.7 548.87,240.7 548.87,287.7 549.22,287.7 549.22,233.7 549.58,233.7 549.58,233.7 549.93,233.7 549.93,240.7 550.28,240.7 550.28,240.7 550.64,240.7 550.64,233.7 550.99,233.7 550.99,287.7 551.35,287.7 551.35,229.6 551.70,229.6 551.70,233.7 552.05,233.7 552.05,287.7 552.41,287.7 552.41,240.7 552.76,240.7 552.76,240.7 553.12,240.7 553.12,287.7 553.47,287.7 553.47,287.7 553.82,287.7 553.82,287.7 554.18,287.7 554.18,240.7 554.53,240.7 554.53,229.6 554.88,229.6 554.88,233.7 555.24,233.7 555.24,233.7 555.59,233.7 555.59,233.7 555.95,233.7 555.95,226.7 556.30,226.7 556.30,233.7 556.65,233.7 556.65,233.7 557.01,233.7 557.01,240.7 557.36,240.7 557.36,287.7 557.71,287.7 557.71,229.6 558.07,229.6 558.07,233.7 558.42,233.7 558.42,224.4 558.78,224.4 558.78,287.7 559.13,287.7 559.13,226.7 559.48,226.7 559.48,226.7 559.84,226.7 559.84,219.7 560.19,219.7 560.19,221.1 560.55,221.1 560.55,215.6 560.90,215.6 560.90,211.0 561.25,211.0 561.25,205.4 561.61,205.4 561.61,205.7 561.96,205.7 561.96,200.8 562.31,200.8 562.31,199.7 562.67,199.7 562.67,199.2 563.02,199.2 563.02,199.0 563.38,199.0 563.38,198.2 563.73,198.2 563.73,197.9 564.08,197.9 564.08,201.0 564.44,201.0 564.44,199.9 564.79,199.9 564.79,201.8 565.15,201.8 565.15,204.5 565.50,204.5 565.50,206.0 565.85,206.0 565.85,210.0 566.21,210.0 566.21,209.5 566.56,209.5 566.56,207.8 566.91,207.8 566.91,203.7 567.27,203.7 567.27,205.7 567.62,205.7 567.62,204.5 567.98,204.5 567.98,208.2 568.33,208.2 568.33,210.0 568.68,210.0 568.68,210.5 569.04,210.5 569.04,216.5 569.39,216.5 569.39,216.5 569.74,216.5 569.74,222.6 570.10,222.6 570.10,233.7 570.45,233.7 570.45,224.4 570.81,224.4 570.81,222.6 571.16,222.6 571.16,219.7 571.51,219.7 571.51,224.4 571.87,224.4 571.87,222.6 572.22,222.6 572.22,233.7 572.58,233.7 572.58,240.7 572.93,240.7 572.93,229.6 573.28,229.6 573.28,221.1 573.64,221.1 573.64,229.6 573.99,229.6 573.99,229.6 574.34,229.6 574.34,233.7 574.70,233.7 574.70,224.4 575.05,224.4 575.05,224.4 575.41,224.4 575.41,233.7 575.76,233.7 575.76,240.7 576.11,240.7 576.11,226.7 576.47,226.7 576.47,229.6 576.82,229.6 576.82,219.7 577.18,219.7 577.18,240.7 577.53,240.7 577.53,229.6 577.88,229.6 577.88,240.7 578.24,240.7 578.24,287.7 578.59,287.7 578.59,240.7 578.94,240.7 578.94,233.7 579.30,233.7 579.30,233.7 579.65,233.7 579.65,240.7 580.01,240.7 580.01,240.7 580.36,240.7 580.36,233.7 580.71,233.7 580.71,233.7 581.07,233.7 581.07,240.7 581.42,240.7 581.42,240.7 581.77,240.7 581.77,240.7 582.13,240.7 582.13,233.7 582.48,233.7 582.48,233.7 582.84,233.7 582.84,229.6 583.19,229.6 583.19,226.7 583.54,226.7 583.54,287.7 583.90,287.7 583.90,229.6 584.25,229.6 584.25,240.7 584.61,240.7 584.61,240.7 584.96,240.7 584.96,226.7 585.31,226.7 585.31,287.7 585.67,287.7 585.67,240.7 586.02,240.7 586.02,287.7 586.37,287.7 586.37,233.7 586.73,233.7 586.73,224.4 587.08,224.4 587.08,233.7 587.44,233.7 587.44,240.7 587.79,240.7 587.79,287.7 588.14,287.7 588.14,233.7 588.50,233.7 588.50,287.7 588.85,287.7 588.85,240.7 589.21,240.7 589.21,229.6 589.56,229.6 589.56,240.7 589.91,240.7 589.91,287.7 590.27,287.7 590.27,240.7 590.62,240.7 590.62,240.7 590.97,240.7 590.97,287.7 591.33,287.7 591.33,233.7 591.68,233.7 591.68,229.6 592.04,229.6 592.04,240.7 592.39,240.7 592.39,233.7 592.74,233.7 592.74,240.7 593.10,240.7 593.10,233.7 593.45,233.7 593.45,229.6 593.80,229.6 593.80,233.7 594.16,233.7 594.16,240.7 594.51,240.7 594.51,240.7 594.87,240.7 594.87,240.7 595.22,240.7 595.22,233.7 595.57,233.7 595.57,287.7 595.93,287.7 595.93,240.7 596.28,240.7 596.28,287.7 596.64,287.7 596.64,287.7 596.99,287.7 596.99,240.7 597.34,240.7 597.34,287.7 597.70,287.7 597.70,233.7 598.05,233.7 598.05,240.7 598.40,240.7 598.40,287.7 598.76,287.7 598.76,240.7 599.11,240.7 599.11,233.7 599.47,233.7 599.47,226.7 599.82,226.7 599.82,240.7 600.17,240.7 600.17,233.7 600.53,233.7 600.53,240.7 600.88,240.7 600.88,240.7 601.24,240.7 601.24,287.7 601.59,287.7 601.59,287.7 601.94,287.7 601.94,229.6 602.30,229.6 602.30,287.7 602.65,287.7 602.65,240.7 603.00,240.7 603.00,233.7 603.36,233.7 603.36,240.7 603.71,240.7 603.71,240.7 604.07,240.7 604.07,240.7 604.42,240.7 604.42,287.7 604.77,287.7 604.77,240.7 605.13,240.7 605.13,240.7 605.48,240.7 605.48,240.7 605.84,240.7 605.84,240.7 606.19,240.7 606.19,287.7 606.54,287.7 606.54,233.7 606.90,233.7 606.90,240.7 607.25,240.7 607.25,229.6 607.60,229.6 607.60,233.7 607.96,233.7 607.96,287.7 608.31,287.7 608.31,287.7 608.67,287.7 608.67,229.6 609.02,229.6 609.02,233.7 609.37,233.7 609.37,240.7 609.73,240.7 609.73,287.7 610.08,287.7 610.08,229.6 610.43,229.6 610.43,233.7 610.79,233.7 610.79,240.7 611.14,240.7 611.14,287.7 611.50,287.7 611.50,287.7 611.85,287.7 611.85,240.7 612.20,240.7 612.20,287.7 612.56,287.7 612.56,287.7 612.91,287.7 612.91,240.7 613.27,240.7 613.27,287.7 613.62,287.7 613.62,240.7 613.97,240.7 613.97,240.7 614.33,240.7 614.33,233.7 614.68,233.7 614.68,287.7 615.03,287.7 615.03,287.7 615.39,287.7 615.39,233.7 615.74,233.7 615.74,287.7 616.10,287.7 616.10,287.7 616.45,287.7 616.45,240.7 616.80,240.7 616.80,287.7 617.16,287.7 617.16,287.7 617.51,287.7 617.51,240.7 617.87,240.7 617.87,240.7 618.22,240.7 618.22,287.7 618.57,287.7 618.57,240.7 618.93,240.7 618.93,287.7 619.28,287.7 619.28,287.7 619.63,287.7 619.63,287.7 619.99,287.7 619.99,287.7 620.34,287.7 620.34,287.7 620.70,287.7 620.70,287.7 621.05,287.7 621.05,240.7 621.40,240.7 621.40,287.7 621.76,287.7 621.76,240.7 622.11,240.7 622.11,287.7 622.46,287.7 622.46,287.7 622.82,287.7 622.82,287.7 623.17,287.7 623.17,287.7 623.53,287.7 623.53,233.7 623.88,233.7 623.88,240.7 624.23,240.7 624.23,287.7 624.59,287.7 624.59,240.7 624.94,240.7 624.94,287.7 625.30,287.7 625.30,287.7 625.65,287.7 625.65,240.7 626.00,240.7 626.00,287.7 626.36,287.7 626.36,287.7 626.71,287.7 626.71,287.7 627.06,287.7 627.06,287.7 627.42,287.7 627.42,287.7 627.77,287.7 627.77,287.7 628.13,287.7 628.13,287.7 628.48,287.7 628.48,287.7 628.83,287.7 628.83,240.7 629.19,240.7 629.19,240.7 629.54,240.7 629.54,240.7 629.90,240.7 629.90,240.7 630.25,240.7 630.25,287.7 630.60,287.7 630.60,240.7 630.96,240.7 630.96,287.7 631.31,287.7 631.31,240.7 631.66,240.7 631.66,287.7 632.02,287.7 632.02,240.7 632.37,240.7 632.37,287.7 632.73,287.7 632.73,240.7 633.08,240.7 633.08,287.7 633.43,287.7 633.43,240.7 633.79,240.7 633.79,233.7 634.14,233.7 634.14,287.7 634.49,287.7 634.49,287.7 634.85,287.7 634.85,287.7 635.20,287.7 635.20,240.7 635.56,240.7 635.56,287.7 635.91,287.7 635.91,287.7 636.26,287.7 636.26,287.7 636.62,287.7 636.62,287.7 636.97,287.7 636.97,287.7 637.33,287.7 637.33,287.7 637.68,287.7 637.68,287.7 638.03,287.7 638.03,287.7 638.39,287.7 638.39,287.7 638.74,287.7 638.74,287.7 639.09,287.7 639.09,287.7 639.45,287.7 639.45,240.7 639.80,240.7 639.80,287.7 640.16,287.7 640.16,287.7 640.51,287.7 640.51,233.7 640.86,233.7 640.86,287.7 641.22,287.7 641.22,287.7 641.57,287.7 641.57,287.7 641.93,287.7 641.93,240.7 642.28,240.7 642.28,287.7 642.63,287.7 642.63,240.7 642.99,240.7 642.99,287.7 643.34,287.7 643.34,287.7 643.69,287.7 643.69,287.7 644.05,287.7 644.05,287.7 644.40,287.7 644.40,240.7 644.76,240.7 644.76,240.7 645.11,240.7 645.11,287.7 645.46,287.7 645.46,287.7 645.82,287.7 645.82,287.7 646.17,287.7 646.17,287.7 646.52,287.7 646.52,287.7 646.88,287.7 646.88,287.7 647.23,287.7 647.23,233.7 647.59,233.7 647.59,287.7 647.94,287.7 647.94,287.7 648.29,287.7 648.29,287.7 648.65,287.7 648.65,287.7 649.00,287.7 649.00,287.7 649.36,287.7 649.36,287.7 649.71,287.7 649.71,240.7 650.06,240.7 650.06,287.7 650.42,287.7 650.42,287.7 650.77,287.7 650.77,287.7 651.12,287.7 651.12,287.7 651.48,287.7 651.48,287.7 651.83,287.7 651.83,287.7 652.19,287.7 652.19,287.7 652.54,287.7 652.54,287.7 652.89,287.7 652.89,287.7 653.25,287.7 653.25,240.7 653.60,240.7 653.60,240.7 653.96,240.7 653.96,240.7 654.31,240.7 654.31,287.7 654.66,287.7 654.66,240.7 655.02,240.7 655.02,287.7 655.37,287.7 655.37,287.7 655.72,287.7 655.72,287.7 656.08,287.7 656.08,240.7 656.43,240.7 656.43,240.7 656.79,240.7 656.79,240.7 657.14,240.7 657.14,287.7 657.49,287.7 657.49,287.7 657.85,287.7 657.85,287.7 658.20,287.7 658.20,287.7 658.55,287.7 658.55,287.7 658.91,287.7 658.91,287.7 659.26,287.7 659.26,287.7 659.62,287.7 659.62,287.7 659.97,287.7 659.97,287.7 660.32,287.7 660.32,240.7 660.68,240.7 660.68,240.7 661.03,240.7 661.03,287.7 661.39,287.7 661.39,287.7 661.74,287.7 661.74,287.7 662.09,287.7 662.09,287.7 662.45,287.7 662.45,240.7 662.80,240.7 662.80,287.7 663.15,287.7 663.15,240.7 663.51,240.7 663.51,287.7 663.86,287.7 663.86,287.7 664.22,287.7 664.22,287.7 664.57,287.7 664.57,287.7 664.92,287.7 664.92,287.7 665.28,287.7 665.28,287.7 665.63,287.7 665.63,233.7 665.99,233.7 665.99,287.7 666.34,287.7 666.34,287.7 666.69,287.7 666.69,287.7 667.05,287.7 667.05,287.7 667.40,287.7 667.40,287.7 667.75,287.7 667.75,287.7 668.11,287.7 668.11,287.7 668.46,287.7 668.46,287.7 668.82,287.7 668.82,287.7 669.17,287.7 669.17,287.7 669.52,287.7 669.52,287.7 669.88,287.7 669.88,287.7 670.23,287.7 670.23,287.7 670.59,287.7 670.59,287.7 670.94,287.7 670.94,287.7 671.29,287.7 671.29,287.7 671.65,287.7 671.65,287.7 672.00,287.7 672.00,287.7 672.35,287.7 672.35,287.7 672.71,287.7 672.71,287.7 673.06,287.7 673.06,287.7 673.42,287.7 673.42,287.7 673.77,287.7 673.77,287.7 674.12,287.7 674.12,240.7 674.48,240.7 674.48,287.7 674.83,287.7 674.83,287.7 675.18,287.7 675.18,287.7 675.54,287.7 675.54,287.7 675.89,287.7 675.89,287.7 676.25,287.7 676.25,287.7 676.60,287.7 676.60,287.7 676.95,287.7 676.95,287.7 677.31,287.7 677.31,287.7 677.66,287.7 677.66,287.7 678.02,287.7 678.02,287.7 678.37,287.7 678.37,287.7 678.72,287.7 678.72,287.7 679.08,287.7 679.08,287.7 679.43,287.7 679.43,287.7 679.78,287.7 679.78,287.7 680.14,287.7 680.14,287.7 680.49,287.7 680.49,287.7 680.85,287.7 680.85,287.7 681.20,287.7 681.20,287.7 681.55,287.7 681.55,287.7 681.91,287.7 681.91,287.7 682.26,287.7 682.26,287.7 682.62,287.7 682.62,287.7 682.97,287.7 682.97,287.7 683.32,287.7 683.32,287.7 683.68,287.7 683.68,287.7 684.03,287.7 684.03,287.7 684.38,287.7 684.38,287.7 684.74,287.7" fill="none" stroke="#000" stroke-width="1.0"/></g>
<g clip-path="url(#cB)"><polyline points="33.70,355.5 34.05,355.5 34.05,355.5 34.41,355.5 34.41,306.2 34.76,306.2 34.76,297.2 35.12,297.2 35.12,355.5 35.47,355.5 35.47,355.5 35.82,355.5 35.82,306.2 36.18,306.2 36.18,355.5 36.53,355.5 36.53,355.5 36.88,355.5 36.88,297.2 37.24,297.2 37.24,355.5 37.59,355.5 37.59,306.2 37.95,306.2 37.95,355.5 38.30,355.5 38.30,355.5 38.65,355.5 38.65,306.2 39.01,306.2 39.01,297.2 39.36,297.2 39.36,355.5 39.72,355.5 39.72,306.2 40.07,306.2 40.07,355.5 40.42,355.5 40.42,355.5 40.78,355.5 40.78,355.5 41.13,355.5 41.13,306.2 41.48,306.2 41.48,355.5 41.84,355.5 41.84,306.2 42.19,306.2 42.19,355.5 42.55,355.5 42.55,355.5 42.90,355.5 42.90,306.2 43.25,306.2 43.25,306.2 43.61,306.2 43.61,306.2 43.96,306.2 43.96,306.2 44.31,306.2 44.31,355.5 44.67,355.5 44.67,355.5 45.02,355.5 45.02,355.5 45.38,355.5 45.38,306.2 45.73,306.2 45.73,355.5 46.08,355.5 46.08,355.5 46.44,355.5 46.44,297.2 46.79,297.2 46.79,355.5 47.15,355.5 47.15,306.2 47.50,306.2 47.50,288.1 47.85,288.1 47.85,355.5 48.21,355.5 48.21,355.5 48.56,355.5 48.56,355.5 48.91,355.5 48.91,306.2 49.27,306.2 49.27,306.2 49.62,306.2 49.62,355.5 49.98,355.5 49.98,355.5 50.33,355.5 50.33,355.5 50.68,355.5 50.68,306.2 51.04,306.2 51.04,355.5 51.39,355.5 51.39,306.2 51.75,306.2 51.75,355.5 52.10,355.5 52.10,297.2 52.45,297.2 52.45,355.5 52.81,355.5 52.81,297.2 53.16,297.2 53.16,291.9 53.51,291.9 53.51,355.5 53.87,355.5 53.87,306.2 54.22,306.2 54.22,355.5 54.58,355.5 54.58,297.2 54.93,297.2 54.93,355.5 55.28,355.5 55.28,306.2 55.64,306.2 55.64,306.2 55.99,306.2 55.99,306.2 56.34,306.2 56.34,355.5 56.70,355.5 56.70,355.5 57.05,355.5 57.05,306.2 57.41,306.2 57.41,355.5 57.76,355.5 57.76,291.9 58.11,291.9 58.11,355.5 58.47,355.5 58.47,355.5 58.82,355.5 58.82,355.5 59.18,355.5 59.18,355.5 59.53,355.5 59.53,355.5 59.88,355.5 59.88,355.5 60.24,355.5 60.24,355.5 60.59,355.5 60.59,306.2 60.94,306.2 60.94,355.5 61.30,355.5 61.30,306.2 61.65,306.2 61.65,355.5 62.01,355.5 62.01,355.5 62.36,355.5 62.36,306.2 62.71,306.2 62.71,306.2 63.07,306.2 63.07,297.2 63.42,297.2 63.42,355.5 63.78,355.5 63.78,355.5 64.13,355.5 64.13,297.2 64.48,297.2 64.48,306.2 64.84,306.2 64.84,306.2 65.19,306.2 65.19,306.2 65.54,306.2 65.54,355.5 65.90,355.5 65.90,306.2 66.25,306.2 66.25,355.5 66.61,355.5 66.61,306.2 66.96,306.2 66.96,291.9 67.31,291.9 67.31,297.2 67.67,297.2 67.67,355.5 68.02,355.5 68.02,355.5 68.37,355.5 68.37,306.2 68.73,306.2 68.73,297.2 69.08,297.2 69.08,306.2 69.44,306.2 69.44,306.2 69.79,306.2 69.79,297.2 70.14,297.2 70.14,355.5 70.50,355.5 70.50,306.2 70.85,306.2 70.85,355.5 71.21,355.5 71.21,306.2 71.56,306.2 71.56,355.5 71.91,355.5 71.91,306.2 72.27,306.2 72.27,355.5 72.62,355.5 72.62,306.2 72.97,306.2 72.97,355.5 73.33,355.5 73.33,306.2 73.68,306.2 73.68,306.2 74.04,306.2 74.04,306.2 74.39,306.2 74.39,355.5 74.74,355.5 74.74,306.2 75.10,306.2 75.10,306.2 75.45,306.2 75.45,306.2 75.81,306.2 75.81,306.2 76.16,306.2 76.16,306.2 76.51,306.2 76.51,306.2 76.87,306.2 76.87,306.2 77.22,306.2 77.22,355.5 77.57,355.5 77.57,306.2 77.93,306.2 77.93,306.2 78.28,306.2 78.28,297.2 78.64,297.2 78.64,306.2 78.99,306.2 78.99,306.2 79.34,306.2 79.34,355.5 79.70,355.5 79.70,355.5 80.05,355.5 80.05,355.5 80.40,355.5 80.40,355.5 80.76,355.5 80.76,306.2 81.11,306.2 81.11,355.5 81.47,355.5 81.47,306.2 81.82,306.2 81.82,355.5 82.17,355.5 82.17,306.2 82.53,306.2 82.53,297.2 82.88,297.2 82.88,306.2 83.24,306.2 83.24,355.5 83.59,355.5 83.59,306.2 83.94,306.2 83.94,355.5 84.30,355.5 84.30,306.2 84.65,306.2 84.65,355.5 85.00,355.5 85.00,355.5 85.36,355.5 85.36,355.5 85.71,355.5 85.71,355.5 86.07,355.5 86.07,355.5 86.42,355.5 86.42,355.5 86.77,355.5 86.77,306.2 87.13,306.2 87.13,355.5 87.48,355.5 87.48,355.5 87.84,355.5 87.84,355.5 88.19,355.5 88.19,297.2 88.54,297.2 88.54,355.5 88.90,355.5 88.90,306.2 89.25,306.2 89.25,355.5 89.60,355.5 89.60,355.5 89.96,355.5 89.96,306.2 90.31,306.2 90.31,355.5 90.67,355.5 90.67,355.5 91.02,355.5 91.02,355.5 91.37,355.5 91.37,306.2 91.73,306.2 91.73,355.5 92.08,355.5 92.08,306.2 92.43,306.2 92.43,355.5 92.79,355.5 92.79,355.5 93.14,355.5 93.14,355.5 93.50,355.5 93.50,355.5 93.85,355.5 93.85,306.2 94.20,306.2 94.20,355.5 94.56,355.5 94.56,297.2 94.91,297.2 94.91,355.5 95.27,355.5 95.27,306.2 95.62,306.2 95.62,306.2 95.97,306.2 95.97,355.5 96.33,355.5 96.33,355.5 96.68,355.5 96.68,355.5 97.03,355.5 97.03,355.5 97.39,355.5 97.39,355.5 97.74,355.5 97.74,355.5 98.10,355.5 98.10,306.2 98.45,306.2 98.45,355.5 98.80,355.5 98.80,355.5 99.16,355.5 99.16,355.5 99.51,355.5 99.51,355.5 99.87,355.5 99.87,297.2 100.22,297.2 100.22,355.5 100.57,355.5 100.57,355.5 100.93,355.5 100.93,306.2 101.28,306.2 101.28,297.2 101.63,297.2 101.63,297.2 101.99,297.2 101.99,355.5 102.34,355.5 102.34,355.5 102.70,355.5 102.70,306.2 103.05,306.2 103.05,355.5 103.40,355.5 103.40,306.2 103.76,306.2 103.76,355.5 104.11,355.5 104.11,355.5 104.47,355.5 104.47,355.5 104.82,355.5 104.82,306.2 105.17,306.2 105.17,355.5 105.53,355.5 105.53,355.5 105.88,355.5 105.88,355.5 106.23,355.5 106.23,355.5 106.59,355.5 106.59,355.5 106.94,355.5 106.94,355.5 107.30,355.5 107.30,355.5 107.65,355.5 107.65,355.5 108.00,355.5 108.00,355.5 108.36,355.5 108.36,355.5 108.71,355.5 108.71,355.5 109.06,355.5 109.06,355.5 109.42,355.5 109.42,355.5 109.77,355.5 109.77,355.5 110.13,355.5 110.13,297.2 110.48,297.2 110.48,355.5 110.83,355.5 110.83,306.2 111.19,306.2 111.19,306.2 111.54,306.2 111.54,297.2 111.90,297.2 111.90,355.5 112.25,355.5 112.25,355.5 112.60,355.5 112.60,291.9 112.96,291.9 112.96,306.2 113.31,306.2 113.31,297.2 113.66,297.2 113.66,355.5 114.02,355.5 114.02,355.5 114.37,355.5 114.37,355.5 114.73,355.5 114.73,306.2 115.08,306.2 115.08,355.5 115.43,355.5 115.43,297.2 115.79,297.2 115.79,355.5 116.14,355.5 116.14,355.5 116.50,355.5 116.50,355.5 116.85,355.5 116.85,355.5 117.20,355.5 117.20,355.5 117.56,355.5 117.56,306.2 117.91,306.2 117.91,291.9 118.26,291.9 118.26,355.5 118.62,355.5 118.62,306.2 118.97,306.2 118.97,355.5 119.33,355.5 119.33,306.2 119.68,306.2 119.68,355.5 120.03,355.5 120.03,355.5 120.39,355.5 120.39,306.2 120.74,306.2 120.74,355.5 121.09,355.5 121.09,355.5 121.45,355.5 121.45,306.2 121.80,306.2 121.80,355.5 122.16,355.5 122.16,355.5 122.51,355.5 122.51,355.5 122.86,355.5 122.86,306.2 123.22,306.2 123.22,355.5 123.57,355.5 123.57,306.2 123.93,306.2 123.93,355.5 124.28,355.5 124.28,355.5 124.63,355.5 124.63,355.5 124.99,355.5 124.99,306.2 125.34,306.2 125.34,306.2 125.69,306.2 125.69,306.2 126.05,306.2 126.05,306.2 126.40,306.2 126.40,355.5 126.76,355.5 126.76,355.5 127.11,355.5 127.11,297.2 127.46,297.2 127.46,306.2 127.82,306.2 127.82,355.5 128.17,355.5 128.17,306.2 128.53,306.2 128.53,355.5 128.88,355.5 128.88,355.5 129.23,355.5 129.23,355.5 129.59,355.5 129.59,355.5 129.94,355.5 129.94,355.5 130.29,355.5 130.29,355.5 130.65,355.5 130.65,355.5 131.00,355.5 131.00,306.2 131.36,306.2 131.36,297.2 131.71,297.2 131.71,306.2 132.06,306.2 132.06,355.5 132.42,355.5 132.42,355.5 132.77,355.5 132.77,306.2 133.12,306.2 133.12,306.2 133.48,306.2 133.48,355.5 133.83,355.5 133.83,297.2 134.19,297.2 134.19,355.5 134.54,355.5 134.54,355.5 134.89,355.5 134.89,306.2 135.25,306.2 135.25,355.5 135.60,355.5 135.60,306.2 135.96,306.2 135.96,355.5 136.31,355.5 136.31,306.2 136.66,306.2 136.66,355.5 137.02,355.5 137.02,355.5 137.37,355.5 137.37,355.5 137.72,355.5 137.72,355.5 138.08,355.5 138.08,297.2 138.43,297.2 138.43,306.2 138.79,306.2 138.79,297.2 139.14,297.2 139.14,297.2 139.49,297.2 139.49,306.2 139.85,306.2 139.85,355.5 140.20,355.5 140.20,297.2 140.56,297.2 140.56,297.2 140.91,297.2 140.91,355.5 141.26,355.5 141.26,355.5 141.62,355.5 141.62,355.5 141.97,355.5 141.97,306.2 142.32,306.2 142.32,355.5 142.68,355.5 142.68,297.2 143.03,297.2 143.03,355.5 143.39,355.5 143.39,355.5 143.74,355.5 143.74,297.2 144.09,297.2 144.09,355.5 144.45,355.5 144.45,355.5 144.80,355.5 144.80,355.5 145.15,355.5 145.15,306.2 145.51,306.2 145.51,355.5 145.86,355.5 145.86,355.5 146.22,355.5 146.22,355.5 146.57,355.5 146.57,306.2 146.92,306.2 146.92,355.5 147.28,355.5 147.28,355.5 147.63,355.5 147.63,297.2 147.99,297.2 147.99,306.2 148.34,306.2 148.34,306.2 148.69,306.2 148.69,306.2 149.05,306.2 149.05,355.5 149.40,355.5 149.40,306.2 149.75,306.2 149.75,355.5 150.11,355.5 150.11,355.5 150.46,355.5 150.46,355.5 150.82,355.5 150.82,355.5 151.17,355.5 151.17,355.5 151.52,355.5 151.52,355.5 151.88,355.5 151.88,355.5 152.23,355.5 152.23,355.5 152.59,355.5 152.59,355.5 152.94,355.5 152.94,355.5 153.29,355.5 153.29,355.5 153.65,355.5 153.65,355.5 154.00,355.5 154.00,306.2 154.35,306.2 154.35,355.5 154.71,355.5 154.71,306.2 155.06,306.2 155.06,297.2 155.42,297.2 155.42,306.2 155.77,306.2 155.77,355.5 156.12,355.5 156.12,355.5 156.48,355.5 156.48,297.2 156.83,297.2 156.83,306.2 157.18,306.2 157.18,355.5 157.54,355.5 157.54,297.2 157.89,297.2 157.89,306.2 158.25,306.2 158.25,355.5 158.60,355.5 158.60,297.2 158.95,297.2 158.95,297.2 159.31,297.2 159.31,306.2 159.66,306.2 159.66,297.2 160.02,297.2 160.02,306.2 160.37,306.2 160.37,297.2 160.72,297.2 160.72,297.2 161.08,297.2 161.08,355.5 161.43,355.5 161.43,297.2 161.78,297.2 161.78,306.2 162.14,306.2 162.14,355.5 162.49,355.5 162.49,306.2 162.85,306.2 162.85,355.5 163.20,355.5 163.20,355.5 163.55,355.5 163.55,355.5 163.91,355.5 163.91,355.5 164.26,355.5 164.26,355.5 164.62,355.5 164.62,297.2 164.97,297.2 164.97,306.2 165.32,306.2 165.32,355.5 165.68,355.5 165.68,355.5 166.03,355.5 166.03,355.5 166.38,355.5 166.38,306.2 166.74,306.2 166.74,355.5 167.09,355.5 167.09,306.2 167.45,306.2 167.45,355.5 167.80,355.5 167.80,297.2 168.15,297.2 168.15,306.2 168.51,306.2 168.51,355.5 168.86,355.5 168.86,306.2 169.21,306.2 169.21,355.5 169.57,355.5 169.57,306.2 169.92,306.2 169.92,355.5 170.28,355.5 170.28,306.2 170.63,306.2 170.63,306.2 170.98,306.2 170.98,355.5 171.34,355.5 171.34,355.5 171.69,355.5 171.69,306.2 172.05,306.2 172.05,291.9 172.40,291.9 172.40,291.9 172.75,291.9 172.75,306.2 173.11,306.2 173.11,355.5 173.46,355.5 173.46,306.2 173.81,306.2 173.81,306.2 174.17,306.2 174.17,355.5 174.52,355.5 174.52,355.5 174.88,355.5 174.88,297.2 175.23,297.2 175.23,306.2 175.58,306.2 175.58,355.5 175.94,355.5 175.94,291.9 176.29,291.9 176.29,306.2 176.65,306.2 176.65,355.5 177.00,355.5 177.00,355.5 177.35,355.5 177.35,355.5 177.71,355.5 177.71,306.2 178.06,306.2 178.06,355.5 178.41,355.5 178.41,306.2 178.77,306.2 178.77,355.5 179.12,355.5 179.12,355.5 179.48,355.5 179.48,297.2 179.83,297.2 179.83,306.2 180.18,306.2 180.18,355.5 180.54,355.5 180.54,291.9 180.89,291.9 180.89,306.2 181.25,306.2 181.25,306.2 181.60,306.2 181.60,355.5 181.95,355.5 181.95,291.9 182.31,291.9 182.31,355.5 182.66,355.5 182.66,355.5 183.01,355.5 183.01,288.1 183.37,288.1 183.37,297.2 183.72,297.2 183.72,306.2 184.08,306.2 184.08,288.1 184.43,288.1 184.43,291.9 184.78,291.9 184.78,355.5 185.14,355.5 185.14,297.2 185.49,297.2 185.49,285.2 185.84,285.2 185.84,291.9 186.20,291.9 186.20,288.1 186.55,288.1 186.55,279.1 186.91,279.1 186.91,280.8 187.26,280.8 187.26,276.2 187.61,276.2 187.61,275.0 187.97,275.0 187.97,288.1 188.32,288.1 188.32,276.2 188.68,276.2 188.68,297.2 189.03,297.2 189.03,306.2 189.38,306.2 189.38,355.5 189.74,355.5 189.74,297.2 190.09,297.2 190.09,355.5 190.44,355.5 190.44,355.5 190.80,355.5 190.80,355.5 191.15,355.5 191.15,355.5 191.51,355.5 191.51,306.2 191.86,306.2 191.86,355.5 192.21,355.5 192.21,355.5 192.57,355.5 192.57,306.2 192.92,306.2 192.92,355.5 193.28,355.5 193.28,355.5 193.63,355.5 193.63,306.2 193.98,306.2 193.98,306.2 194.34,306.2 194.34,306.2 194.69,306.2 194.69,355.5 195.04,355.5 195.04,297.2 195.40,297.2 195.40,355.5 195.75,355.5 195.75,306.2 196.11,306.2 196.11,355.5 196.46,355.5 196.46,306.2 196.81,306.2 196.81,355.5 197.17,355.5 197.17,355.5 197.52,355.5 197.52,355.5 197.87,355.5 197.87,306.2 198.23,306.2 198.23,355.5 198.58,355.5 198.58,355.5 198.94,355.5 198.94,297.2 199.29,297.2 199.29,355.5 199.64,355.5 199.64,306.2 200.00,306.2 200.00,306.2 200.35,306.2 200.35,306.2 200.71,306.2 200.71,355.5 201.06,355.5 201.06,355.5 201.41,355.5 201.41,306.2 201.77,306.2 201.77,355.5 202.12,355.5 202.12,306.2 202.47,306.2 202.47,355.5 202.83,355.5 202.83,355.5 203.18,355.5 203.18,306.2 203.54,306.2 203.54,306.2 203.89,306.2 203.89,355.5 204.24,355.5 204.24,306.2 204.60,306.2 204.60,355.5 204.95,355.5 204.95,355.5 205.31,355.5 205.31,306.2 205.66,306.2 205.66,306.2 206.01,306.2 206.01,297.2 206.37,297.2 206.37,306.2 206.72,306.2 206.72,355.5 207.07,355.5 207.07,355.5 207.43,355.5 207.43,355.5 207.78,355.5 207.78,355.5 208.14,355.5 208.14,355.5 208.49,355.5 208.49,355.5 208.84,355.5 208.84,355.5 209.20,355.5 209.20,306.2 209.55,306.2 209.55,306.2 209.90,306.2 209.90,355.5 210.26,355.5 210.26,355.5 210.61,355.5 210.61,355.5 210.97,355.5 210.97,306.2 211.32,306.2 211.32,306.2 211.67,306.2 211.67,355.5 212.03,355.5 212.03,306.2 212.38,306.2 212.38,306.2 212.74,306.2 212.74,355.5 213.09,355.5 213.09,355.5 213.44,355.5 213.44,355.5 213.80,355.5 213.80,355.5 214.15,355.5 214.15,355.5 214.50,355.5 214.50,355.5 214.86,355.5 214.86,355.5 215.21,355.5 215.21,306.2 215.57,306.2 215.57,355.5 215.92,355.5 215.92,355.5 216.27,355.5 216.27,306.2 216.63,306.2 216.63,306.2 216.98,306.2 216.98,306.2 217.34,306.2 217.34,297.2 217.69,297.2 217.69,355.5 218.04,355.5 218.04,306.2 218.40,306.2 218.40,355.5 218.75,355.5 218.75,355.5 219.10,355.5 219.10,355.5 219.46,355.5 219.46,306.2 219.81,306.2 219.81,355.5 220.17,355.5 220.17,355.5 220.52,355.5 220.52,355.5 220.87,355.5 220.87,297.2 221.23,297.2 221.23,297.2 221.58,297.2 221.58,355.5 221.93,355.5 221.93,297.2 222.29,297.2 222.29,355.5 222.64,355.5 222.64,306.2 223.00,306.2 223.00,306.2 223.35,306.2 223.35,306.2 223.70,306.2 223.70,306.2 224.06,306.2 224.06,297.2 224.41,297.2 224.41,291.9 224.77,291.9 224.77,355.5 225.12,355.5 225.12,306.2 225.47,306.2 225.47,297.2 225.83,297.2 225.83,355.5 226.18,355.5 226.18,306.2 226.53,306.2 226.53,297.2 226.89,297.2 226.89,355.5 227.24,355.5 227.24,306.2 227.60,306.2 227.60,355.5 227.95,355.5 227.95,355.5 228.30,355.5 228.30,355.5 228.66,355.5 228.66,355.5 229.01,355.5 229.01,297.2 229.37,297.2 229.37,355.5 229.72,355.5 229.72,355.5 230.07,355.5 230.07,355.5 230.43,355.5 230.43,306.2 230.78,306.2 230.78,355.5 231.13,355.5 231.13,306.2 231.49,306.2 231.49,355.5 231.84,355.5 231.84,306.2 232.20,306.2 232.20,306.2 232.55,306.2 232.55,355.5 232.90,355.5 232.90,355.5 233.26,355.5 233.26,306.2 233.61,306.2 233.61,291.9 233.96,291.9 233.96,355.5 234.32,355.5 234.32,297.2 234.67,297.2 234.67,355.5 235.03,355.5 235.03,291.9 235.38,291.9 235.38,297.2 235.73,297.2 235.73,355.5 236.09,355.5 236.09,306.2 236.44,306.2 236.44,355.5 236.80,355.5 236.80,297.2 237.15,297.2 237.15,288.1 237.50,288.1 237.50,306.2 237.86,306.2 237.86,297.2 238.21,297.2 238.21,288.1 238.56,288.1 238.56,306.2 238.92,306.2 238.92,355.5 239.27,355.5 239.27,288.1 239.63,288.1 239.63,297.2 239.98,297.2 239.98,306.2 240.33,306.2 240.33,297.2 240.69,297.2 240.69,288.1 241.04,288.1 241.04,355.5 241.40,355.5 241.40,297.2 241.75,297.2 241.75,306.2 242.10,306.2 242.10,306.2 242.46,306.2 242.46,291.9 242.81,291.9 242.81,297.2 243.16,297.2 243.16,297.2 243.52,297.2 243.52,306.2 243.87,306.2 243.87,288.1 244.23,288.1 244.23,285.2 244.58,285.2 244.58,285.2 244.93,285.2 244.93,288.1 245.29,288.1 245.29,297.2 245.64,297.2 245.64,285.2 246.00,285.2 246.00,291.9 246.35,291.9 246.35,306.2 246.70,306.2 246.70,297.2 247.06,297.2 247.06,355.5 247.41,355.5 247.41,306.2 247.76,306.2 247.76,297.2 248.12,297.2 248.12,306.2 248.47,306.2 248.47,306.2 248.83,306.2 248.83,355.5 249.18,355.5 249.18,355.5 249.53,355.5 249.53,355.5 249.89,355.5 249.89,306.2 250.24,306.2 250.24,306.2 250.59,306.2 250.59,306.2 250.95,306.2 250.95,355.5 251.30,355.5 251.30,355.5 251.66,355.5 251.66,355.5 252.01,355.5 252.01,355.5 252.36,355.5 252.36,355.5 252.72,355.5 252.72,355.5 253.07,355.5 253.07,355.5 253.43,355.5 253.43,355.5 253.78,355.5 253.78,355.5 254.13,355.5 254.13,306.2 254.49,306.2 254.49,355.5 254.84,355.5 254.84,355.5 255.19,355.5 255.19,355.5 255.55,355.5 255.55,306.2 255.90,306.2 255.90,355.5 256.26,355.5 256.26,355.5 256.61,355.5 256.61,355.5 256.96,355.5 256.96,355.5 257.32,355.5 257.32,355.5 257.67,355.5 257.67,297.2 258.03,297.2 258.03,306.2 258.38,306.2 258.38,306.2 258.73,306.2 258.73,355.5 259.09,355.5 259.09,297.2 259.44,297.2 259.44,355.5 259.79,355.5 259.79,285.2 260.15,285.2 260.15,306.2 260.50,306.2 260.50,355.5 260.86,355.5 260.86,297.2 261.21,297.2 261.21,355.5 261.56,355.5 261.56,355.5 261.92,355.5 261.92,306.2 262.27,306.2 262.27,306.2 262.62,306.2 262.62,306.2 262.98,306.2 262.98,306.2 263.33,306.2 263.33,355.5 263.69,355.5 263.69,306.2 264.04,306.2 264.04,355.5 264.39,355.5 264.39,306.2 264.75,306.2 264.75,288.1 265.10,288.1 265.10,355.5 265.46,355.5 265.46,291.9 265.81,291.9 265.81,306.2 266.16,306.2 266.16,297.2 266.52,297.2 266.52,306.2 266.87,306.2 266.87,306.2 267.22,306.2 267.22,291.9 267.58,291.9 267.58,297.2 267.93,297.2 267.93,355.5 268.29,355.5 268.29,297.2 268.64,297.2 268.64,288.1 268.99,288.1 268.99,297.2 269.35,297.2 269.35,306.2 269.70,306.2 269.70,297.2 270.06,297.2 270.06,288.1 270.41,288.1 270.41,297.2 270.76,297.2 270.76,306.2 271.12,306.2 271.12,285.2 271.47,285.2 271.47,288.1 271.82,288.1 271.82,279.1 272.18,279.1 272.18,269.3 272.53,269.3 272.53,272.8 272.89,272.8 272.89,272.8 273.24,272.8 273.24,279.1 273.59,279.1 273.59,280.8 273.95,280.8 273.95,306.2 274.30,306.2 274.30,306.2 274.65,306.2 274.65,355.5 275.01,355.5 275.01,355.5 275.36,355.5 275.36,355.5 275.72,355.5 275.72,355.5 276.07,355.5 276.07,355.5 276.42,355.5 276.42,355.5 276.78,355.5 276.78,355.5 277.13,355.5 277.13,355.5 277.49,355.5 277.49,355.5 277.84,355.5 277.84,297.2 278.19,297.2 278.19,355.5 278.55,355.5 278.55,355.5 278.90,355.5 278.90,297.2 279.25,297.2 279.25,355.5 279.61,355.5 279.61,355.5 279.96,355.5 279.96,355.5 280.32,355.5 280.32,306.2 280.67,306.2 280.67,355.5 281.02,355.5 281.02,355.5 281.38,355.5 281.38,355.5 281.73,355.5 281.73,306.2 282.09,306.2 282.09,306.2 282.44,306.2 282.44,355.5 282.79,355.5 282.79,306.2 283.15,306.2 283.15,355.5 283.50,355.5 283.50,355.5 283.85,355.5 283.85,306.2 284.21,306.2 284.21,355.5 284.56,355.5 284.56,355.5 284.92,355.5 284.92,306.2 285.27,306.2 285.27,306.2 285.62,306.2 285.62,355.5 285.98,355.5 285.98,355.5 286.33,355.5 286.33,355.5 286.68,355.5 286.68,355.5 287.04,355.5 287.04,355.5 287.39,355.5 287.39,355.5 287.75,355.5 287.75,355.5 288.10,355.5 288.10,355.5 288.45,355.5 288.45,306.2 288.81,306.2 288.81,355.5 289.16,355.5 289.16,306.2 289.52,306.2 289.52,355.5 289.87,355.5 289.87,355.5 290.22,355.5 290.22,355.5 290.58,355.5 290.58,355.5 290.93,355.5 290.93,306.2 291.28,306.2 291.28,355.5 291.64,355.5 291.64,355.5 291.99,355.5 291.99,306.2 292.35,306.2 292.35,355.5 292.70,355.5 292.70,297.2 293.05,297.2 293.05,355.5 293.41,355.5 293.41,306.2 293.76,306.2 293.76,355.5 294.12,355.5 294.12,355.5 294.47,355.5 294.47,355.5 294.82,355.5 294.82,355.5 295.18,355.5 295.18,306.2 295.53,306.2 295.53,355.5 295.88,355.5 295.88,355.5 296.24,355.5 296.24,355.5 296.59,355.5 296.59,291.9 296.95,291.9 296.95,306.2 297.30,306.2 297.30,355.5 297.65,355.5 297.65,355.5 298.01,355.5 298.01,306.2 298.36,306.2 298.36,355.5 298.71,355.5 298.71,355.5 299.07,355.5 299.07,355.5 299.42,355.5 299.42,306.2 299.78,306.2 299.78,355.5 300.13,355.5 300.13,297.2 300.48,297.2 300.48,355.5 300.84,355.5 300.84,355.5 301.19,355.5 301.19,306.2 301.55,306.2 301.55,355.5 301.90,355.5 301.90,355.5 302.25,355.5 302.25,355.5 302.61,355.5 302.61,355.5 302.96,355.5 302.96,355.5 303.31,355.5 303.31,355.5 303.67,355.5 303.67,355.5 304.02,355.5 304.02,355.5 304.38,355.5 304.38,355.5 304.73,355.5 304.73,355.5 305.08,355.5 305.08,355.5 305.44,355.5 305.44,355.5 305.79,355.5 305.79,355.5 306.15,355.5 306.15,355.5 306.50,355.5 306.50,355.5 306.85,355.5 306.85,355.5 307.21,355.5 307.21,355.5 307.56,355.5 307.56,355.5 307.91,355.5 307.91,355.5 308.27,355.5 308.27,306.2 308.62,306.2 308.62,306.2 308.98,306.2 308.98,306.2 309.33,306.2 309.33,306.2 309.68,306.2 309.68,355.5 310.04,355.5 310.04,355.5 310.39,355.5 310.39,355.5 310.74,355.5 310.74,355.5 311.10,355.5 311.10,355.5 311.45,355.5 311.45,355.5 311.81,355.5 311.81,355.5 312.16,355.5 312.16,355.5 312.51,355.5 312.51,355.5 312.87,355.5 312.87,355.5 313.22,355.5 313.22,355.5 313.58,355.5 313.58,355.5 313.93,355.5 313.93,355.5 314.28,355.5 314.28,355.5 314.64,355.5 314.64,355.5 314.99,355.5 314.99,355.5 315.34,355.5 315.34,355.5 315.70,355.5 315.70,355.5 316.05,355.5 316.05,355.5 316.41,355.5 316.41,355.5 316.76,355.5 316.76,355.5 317.11,355.5 317.11,355.5 317.47,355.5 317.47,355.5 317.82,355.5 317.82,355.5 318.18,355.5 318.18,355.5 318.53,355.5 318.53,306.2 318.88,306.2 318.88,355.5 319.24,355.5 319.24,355.5 319.59,355.5 319.59,355.5 319.94,355.5 319.94,355.5 320.30,355.5 320.30,355.5 320.65,355.5 320.65,355.5 321.01,355.5 321.01,355.5 321.36,355.5 321.36,355.5 321.71,355.5 321.71,355.5 322.07,355.5 322.07,355.5 322.42,355.5 322.42,355.5 322.78,355.5 322.78,355.5 323.13,355.5 323.13,355.5 323.48,355.5 323.48,306.2 323.84,306.2 323.84,355.5 324.19,355.5 324.19,355.5 324.54,355.5 324.54,355.5 324.90,355.5 324.90,297.2 325.25,297.2 325.25,306.2 325.61,306.2 325.61,355.5 325.96,355.5 325.96,291.9 326.31,291.9 326.31,355.5 326.67,355.5 326.67,355.5 327.02,355.5 327.02,306.2 327.37,306.2 327.37,306.2 327.73,306.2 327.73,306.2 328.08,306.2 328.08,355.5 328.44,355.5 328.44,355.5 328.79,355.5 328.79,306.2 329.14,306.2 329.14,355.5 329.50,355.5 329.50,355.5 329.85,355.5 329.85,355.5 330.21,355.5 330.21,355.5 330.56,355.5 330.56,306.2 330.91,306.2 330.91,306.2 331.27,306.2 331.27,306.2 331.62,306.2 331.62,306.2 331.97,306.2 331.97,355.5 332.33,355.5 332.33,355.5 332.68,355.5 332.68,355.5 333.04,355.5 333.04,355.5 333.39,355.5 333.39,355.5 333.74,355.5 333.74,306.2 334.10,306.2 334.10,355.5 334.45,355.5 334.45,306.2 334.81,306.2 334.81,355.5 335.16,355.5 335.16,355.5 335.51,355.5 335.51,355.5 335.87,355.5 335.87,355.5 336.22,355.5 336.22,355.5 336.57,355.5 336.57,306.2 336.93,306.2 336.93,355.5 337.28,355.5 337.28,306.2 337.64,306.2 337.64,355.5 337.99,355.5 337.99,306.2 338.34,306.2 338.34,291.9 338.70,291.9 338.70,306.2 339.05,306.2 339.05,297.2 339.40,297.2 339.40,355.5 339.76,355.5 339.76,297.2 340.11,297.2 340.11,291.9 340.47,291.9 340.47,280.8 340.82,280.8 340.82,297.2 341.17,297.2 341.17,288.1 341.53,288.1 341.53,271.8 341.88,271.8 341.88,277.6 342.24,277.6 342.24,285.2 342.59,285.2 342.59,280.8 342.94,280.8 342.94,288.1 343.30,288.1 343.30,288.1 343.65,288.1 343.65,306.2 344.00,306.2 344.00,355.5 344.36,355.5 344.36,306.2 344.71,306.2 344.71,355.5 345.07,355.5 345.07,306.2 345.42,306.2 345.42,306.2 345.77,306.2 345.77,306.2 346.13,306.2 346.13,297.2 346.48,297.2 346.48,306.2 346.84,306.2 346.84,355.5 347.19,355.5 347.19,355.5 347.54,355.5 347.54,355.5 347.90,355.5 347.90,355.5 348.25,355.5 348.25,306.2 348.60,306.2 348.60,355.5 348.96,355.5 348.96,306.2 349.31,306.2 349.31,355.5 349.67,355.5 349.67,297.2 350.02,297.2 350.02,355.5 350.37,355.5 350.37,355.5 350.73,355.5 350.73,355.5 351.08,355.5 351.08,355.5 351.43,355.5 351.43,355.5 351.79,355.5 351.79,355.5 352.14,355.5 352.14,355.5 352.50,355.5 352.50,306.2 352.85,306.2 352.85,355.5 353.20,355.5 353.20,355.5 353.56,355.5 353.56,355.5 353.91,355.5 353.91,355.5 354.27,355.5 354.27,355.5 354.62,355.5 354.62,355.5 354.97,355.5 354.97,355.5 355.33,355.5 355.33,297.2 355.68,297.2 355.68,306.2 356.03,306.2 356.03,355.5 356.39,355.5 356.39,306.2 356.74,306.2 356.74,355.5 357.10,355.5 357.10,306.2 357.45,306.2 357.45,355.5 357.80,355.5 357.80,306.2 358.16,306.2 358.16,306.2 358.51,306.2 358.51,306.2 358.87,306.2 358.87,355.5 359.22,355.5 359.22,355.5 359.57,355.5 359.57,355.5 359.93,355.5 359.93,355.5 360.28,355.5 360.28,355.5 360.63,355.5 360.63,355.5 360.99,355.5 360.99,355.5 361.34,355.5 361.34,355.5 361.70,355.5 361.70,355.5 362.05,355.5 362.05,355.5 362.40,355.5 362.40,355.5 362.76,355.5 362.76,355.5 363.11,355.5 363.11,355.5 363.46,355.5 363.46,355.5 363.82,355.5 363.82,355.5 364.17,355.5 364.17,355.5 364.53,355.5 364.53,355.5 364.88,355.5 364.88,306.2 365.23,306.2 365.23,355.5 365.59,355.5 365.59,355.5 365.94,355.5 365.94,355.5 366.30,355.5 366.30,306.2 366.65,306.2 366.65,355.5 367.00,355.5 367.00,355.5 367.36,355.5 367.36,355.5 367.71,355.5 367.71,355.5 368.06,355.5 368.06,306.2 368.42,306.2 368.42,355.5 368.77,355.5 368.77,297.2 369.13,297.2 369.13,355.5 369.48,355.5 369.48,355.5 369.83,355.5 369.83,355.5 370.19,355.5 370.19,355.5 370.54,355.5 370.54,306.2 370.90,306.2 370.90,355.5 371.25,355.5 371.25,306.2 371.60,306.2 371.60,306.2 371.96,306.2 371.96,355.5 372.31,355.5 372.31,355.5 372.66,355.5 372.66,355.5 373.02,355.5 373.02,306.2 373.37,306.2 373.37,355.5 373.73,355.5 373.73,355.5 374.08,355.5 374.08,306.2 374.43,306.2 374.43,306.2 374.79,306.2 374.79,355.5 375.14,355.5 375.14,355.5 375.49,355.5 375.49,355.5 375.85,355.5 375.85,306.2 376.20,306.2 376.20,355.5 376.56,355.5 376.56,355.5 376.91,355.5 376.91,355.5 377.26,355.5 377.26,355.5 377.62,355.5 377.62,355.5 377.97,355.5 377.97,306.2 378.33,306.2 378.33,306.2 378.68,306.2 378.68,355.5 379.03,355.5 379.03,355.5 379.39,355.5 379.39,355.5 379.74,355.5 379.74,355.5 380.09,355.5 380.09,355.5 380.45,355.5 380.45,355.5 380.80,355.5 380.80,355.5 381.16,355.5 381.16,355.5 381.51,355.5 381.51,355.5 381.86,355.5 381.86,355.5 382.22,355.5 382.22,355.5 382.57,355.5 382.57,355.5 382.93,355.5 382.93,355.5 383.28,355.5 383.28,355.5 383.63,355.5 383.63,355.5 383.99,355.5 383.99,355.5 384.34,355.5 384.34,355.5 384.69,355.5 384.69,355.5 385.05,355.5 385.05,355.5 385.40,355.5 385.40,355.5 385.76,355.5 385.76,355.5 386.11,355.5 386.11,355.5 386.46,355.5 386.46,355.5 386.82,355.5 386.82,355.5 387.17,355.5 387.17,355.5 387.52,355.5 387.52,297.2 387.88,297.2 387.88,306.2 388.23,306.2 388.23,306.2 388.59,306.2 388.59,355.5 388.94,355.5 388.94,306.2 389.29,306.2 389.29,355.5 389.65,355.5 389.65,306.2 390.00,306.2 390.00,306.2 390.36,306.2 390.36,355.5 390.71,355.5 390.71,355.5 391.06,355.5 391.06,355.5 391.42,355.5 391.42,306.2 391.77,306.2 391.77,355.5 392.12,355.5 392.12,355.5 392.48,355.5 392.48,355.5 392.83,355.5 392.83,355.5 393.19,355.5 393.19,355.5 393.54,355.5 393.54,355.5 393.89,355.5 393.89,306.2 394.25,306.2 394.25,355.5 394.60,355.5 394.60,355.5 394.96,355.5 394.96,355.5 395.31,355.5 395.31,306.2 395.66,306.2 395.66,355.5 396.02,355.5 396.02,355.5 396.37,355.5 396.37,355.5 396.72,355.5 396.72,355.5 397.08,355.5 397.08,355.5 397.43,355.5 397.43,355.5 397.79,355.5 397.79,355.5 398.14,355.5 398.14,355.5 398.49,355.5 398.49,355.5 398.85,355.5 398.85,306.2 399.20,306.2 399.20,306.2 399.56,306.2 399.56,306.2 399.91,306.2 399.91,355.5 400.26,355.5 400.26,306.2 400.62,306.2 400.62,355.5 400.97,355.5 400.97,355.5 401.32,355.5 401.32,355.5 401.68,355.5 401.68,355.5 402.03,355.5 402.03,355.5 402.39,355.5 402.39,355.5 402.74,355.5 402.74,355.5 403.09,355.5 403.09,355.5 403.45,355.5 403.45,355.5 403.80,355.5 403.80,355.5 404.15,355.5 404.15,355.5 404.51,355.5 404.51,306.2 404.86,306.2 404.86,355.5 405.22,355.5 405.22,355.5 405.57,355.5 405.57,355.5 405.92,355.5 405.92,355.5 406.28,355.5 406.28,306.2 406.63,306.2 406.63,297.2 406.99,297.2 406.99,355.5 407.34,355.5 407.34,355.5 407.69,355.5 407.69,355.5 408.05,355.5 408.05,355.5 408.40,355.5 408.40,306.2 408.75,306.2 408.75,355.5 409.11,355.5 409.11,355.5 409.46,355.5 409.46,355.5 409.82,355.5 409.82,355.5 410.17,355.5 410.17,355.5 410.52,355.5 410.52,355.5 410.88,355.5 410.88,355.5 411.23,355.5 411.23,355.5 411.59,355.5 411.59,355.5 411.94,355.5 411.94,355.5 412.29,355.5 412.29,355.5 412.65,355.5 412.65,355.5 413.00,355.5 413.00,355.5 413.35,355.5 413.35,355.5 413.71,355.5 413.71,306.2 414.06,306.2 414.06,306.2 414.42,306.2 414.42,355.5 414.77,355.5 414.77,355.5 415.12,355.5 415.12,306.2 415.48,306.2 415.48,355.5 415.83,355.5 415.83,355.5 416.18,355.5 416.18,355.5 416.54,355.5 416.54,355.5 416.89,355.5 416.89,306.2 417.25,306.2 417.25,355.5 417.60,355.5 417.60,355.5 417.95,355.5 417.95,355.5 418.31,355.5 418.31,355.5 418.66,355.5 418.66,355.5 419.02,355.5 419.02,306.2 419.37,306.2 419.37,297.2 419.72,297.2 419.72,355.5 420.08,355.5 420.08,306.2 420.43,306.2 420.43,355.5 420.78,355.5 420.78,355.5 421.14,355.5 421.14,306.2 421.49,306.2 421.49,355.5 421.85,355.5 421.85,355.5 422.20,355.5 422.20,306.2 422.55,306.2 422.55,355.5 422.91,355.5 422.91,355.5 423.26,355.5 423.26,355.5 423.62,355.5 423.62,355.5 423.97,355.5 423.97,355.5 424.32,355.5 424.32,355.5 424.68,355.5 424.68,355.5 425.03,355.5 425.03,355.5 425.38,355.5 425.38,306.2 425.74,306.2 425.74,355.5 426.09,355.5 426.09,355.5 426.45,355.5 426.45,355.5 426.80,355.5 426.80,306.2 427.15,306.2 427.15,355.5 427.51,355.5 427.51,355.5 427.86,355.5 427.86,355.5 428.21,355.5 428.21,355.5 428.57,355.5 428.57,355.5 428.92,355.5 428.92,355.5 429.28,355.5 429.28,355.5 429.63,355.5 429.63,355.5 429.98,355.5 429.98,355.5 430.34,355.5 430.34,355.5 430.69,355.5 430.69,355.5 431.05,355.5 431.05,355.5 431.40,355.5 431.40,355.5 431.75,355.5 431.75,306.2 432.11,306.2 432.11,306.2 432.46,306.2 432.46,355.5 432.81,355.5 432.81,355.5 433.17,355.5 433.17,306.2 433.52,306.2 433.52,355.5 433.88,355.5 433.88,355.5 434.23,355.5 434.23,355.5 434.58,355.5 434.58,355.5 434.94,355.5 434.94,355.5 435.29,355.5 435.29,355.5 435.65,355.5 435.65,355.5 436.00,355.5 436.00,355.5 436.35,355.5 436.35,355.5 436.71,355.5 436.71,355.5 437.06,355.5 437.06,355.5 437.41,355.5 437.41,355.5 437.77,355.5 437.77,355.5 438.12,355.5 438.12,355.5 438.48,355.5 438.48,306.2 438.83,306.2 438.83,355.5 439.18,355.5 439.18,355.5 439.54,355.5 439.54,355.5 439.89,355.5 439.89,355.5 440.24,355.5 440.24,297.2 440.60,297.2 440.60,355.5 440.95,355.5 440.95,355.5 441.31,355.5 441.31,355.5 441.66,355.5 441.66,355.5 442.01,355.5 442.01,306.2 442.37,306.2 442.37,355.5 442.72,355.5 442.72,355.5 443.08,355.5 443.08,355.5 443.43,355.5 443.43,355.5 443.78,355.5 443.78,355.5 444.14,355.5 444.14,306.2 444.49,306.2 444.49,306.2 444.84,306.2 444.84,355.5 445.20,355.5 445.20,355.5 445.55,355.5 445.55,355.5 445.91,355.5 445.91,355.5 446.26,355.5 446.26,355.5 446.61,355.5 446.61,355.5 446.97,355.5 446.97,306.2 447.32,306.2 447.32,306.2 447.68,306.2 447.68,297.2 448.03,297.2 448.03,306.2 448.38,306.2 448.38,306.2 448.74,306.2 448.74,355.5 449.09,355.5 449.09,355.5 449.44,355.5 449.44,355.5 449.80,355.5 449.80,306.2 450.15,306.2 450.15,355.5 450.51,355.5 450.51,355.5 450.86,355.5 450.86,355.5 451.21,355.5 451.21,355.5 451.57,355.5 451.57,355.5 451.92,355.5 451.92,355.5 452.27,355.5 452.27,355.5 452.63,355.5 452.63,355.5 452.98,355.5 452.98,355.5 453.34,355.5 453.34,355.5 453.69,355.5 453.69,306.2 454.04,306.2 454.04,355.5 454.40,355.5 454.40,355.5 454.75,355.5 454.75,355.5 455.11,355.5 455.11,355.5 455.46,355.5 455.46,297.2 455.81,297.2 455.81,355.5 456.17,355.5 456.17,355.5 456.52,355.5 456.52,355.5 456.87,355.5 456.87,355.5 457.23,355.5 457.23,355.5 457.58,355.5 457.58,297.2 457.94,297.2 457.94,355.5 458.29,355.5 458.29,297.2 458.64,297.2 458.64,355.5 459.00,355.5 459.00,355.5 459.35,355.5 459.35,355.5 459.71,355.5 459.71,355.5 460.06,355.5 460.06,355.5 460.41,355.5 460.41,355.5 460.77,355.5 460.77,355.5 461.12,355.5 461.12,355.5 461.47,355.5 461.47,355.5 461.83,355.5 461.83,306.2 462.18,306.2 462.18,355.5 462.54,355.5 462.54,355.5 462.89,355.5 462.89,355.5 463.24,355.5 463.24,355.5 463.60,355.5 463.60,355.5 463.95,355.5 463.95,355.5 464.31,355.5 464.31,355.5 464.66,355.5 464.66,355.5 465.01,355.5 465.01,355.5 465.37,355.5 465.37,297.2 465.72,297.2 465.72,355.5 466.07,355.5 466.07,355.5 466.43,355.5 466.43,306.2 466.78,306.2 466.78,306.2 467.14,306.2 467.14,306.2 467.49,306.2 467.49,355.5 467.84,355.5 467.84,355.5 468.20,355.5 468.20,355.5 468.55,355.5 468.55,355.5 468.90,355.5 468.90,355.5 469.26,355.5 469.26,355.5 469.61,355.5 469.61,355.5 469.97,355.5 469.97,306.2 470.32,306.2 470.32,355.5 470.67,355.5 470.67,306.2 471.03,306.2 471.03,355.5 471.38,355.5 471.38,306.2 471.74,306.2 471.74,355.5 472.09,355.5 472.09,355.5 472.44,355.5 472.44,355.5 472.80,355.5 472.80,355.5 473.15,355.5 473.15,355.5 473.50,355.5 473.50,355.5 473.86,355.5 473.86,355.5 474.21,355.5 474.21,355.5 474.57,355.5 474.57,355.5 474.92,355.5 474.92,355.5 475.27,355.5 475.27,355.5 475.63,355.5 475.63,355.5 475.98,355.5 475.98,355.5 476.34,355.5 476.34,355.5 476.69,355.5 476.69,355.5 477.04,355.5 477.04,355.5 477.40,355.5 477.40,355.5 477.75,355.5 477.75,355.5 478.10,355.5 478.10,355.5 478.46,355.5 478.46,355.5 478.81,355.5 478.81,355.5 479.17,355.5 479.17,306.2 479.52,306.2 479.52,355.5 479.87,355.5 479.87,306.2 480.23,306.2 480.23,306.2 480.58,306.2 480.58,306.2 480.93,306.2 480.93,306.2 481.29,306.2 481.29,355.5 481.64,355.5 481.64,306.2 482.00,306.2 482.00,355.5 482.35,355.5 482.35,355.5 482.70,355.5 482.70,306.2 483.06,306.2 483.06,355.5 483.41,355.5 483.41,355.5 483.77,355.5 483.77,355.5 484.12,355.5 484.12,306.2 484.47,306.2 484.47,355.5 484.83,355.5 484.83,355.5 485.18,355.5 485.18,355.5 485.53,355.5 485.53,355.5 485.89,355.5 485.89,355.5 486.24,355.5 486.24,355.5 486.60,355.5 486.60,355.5 486.95,355.5 486.95,355.5 487.30,355.5 487.30,306.2 487.66,306.2 487.66,355.5 488.01,355.5 488.01,355.5 488.37,355.5 488.37,355.5 488.72,355.5 488.72,355.5 489.07,355.5 489.07,355.5 489.43,355.5 489.43,291.9 489.78,291.9 489.78,355.5 490.13,355.5 490.13,355.5 490.49,355.5 490.49,355.5 490.84,355.5 490.84,355.5 491.20,355.5 491.20,355.5 491.55,355.5 491.55,355.5 491.90,355.5 491.90,355.5 492.26,355.5 492.26,306.2 492.61,306.2 492.61,306.2 492.96,306.2 492.96,306.2 493.32,306.2 493.32,306.2 493.67,306.2 493.67,297.2 494.03,297.2 494.03,355.5 494.38,355.5 494.38,355.5 494.73,355.5 494.73,355.5 495.09,355.5 495.09,355.5 495.44,355.5 495.44,355.5 495.80,355.5 495.80,355.5 496.15,355.5 496.15,355.5 496.50,355.5 496.50,355.5 496.86,355.5 496.86,355.5 497.21,355.5 497.21,355.5 497.56,355.5 497.56,306.2 497.92,306.2 497.92,355.5 498.27,355.5 498.27,355.5 498.63,355.5 498.63,355.5 498.98,355.5 498.98,306.2 499.33,306.2 499.33,355.5 499.69,355.5 499.69,355.5 500.04,355.5 500.04,355.5 500.40,355.5 500.40,355.5 500.75,355.5 500.75,355.5 501.10,355.5 501.10,355.5 501.46,355.5 501.46,355.5 501.81,355.5 501.81,355.5 502.16,355.5 502.16,306.2 502.52,306.2 502.52,355.5 502.87,355.5 502.87,355.5 503.23,355.5 503.23,355.5 503.58,355.5 503.58,355.5 503.93,355.5 503.93,355.5 504.29,355.5 504.29,306.2 504.64,306.2 504.64,355.5 504.99,355.5 504.99,297.2 505.35,297.2 505.35,355.5 505.70,355.5 505.70,355.5 506.06,355.5 506.06,355.5 506.41,355.5 506.41,355.5 506.76,355.5 506.76,355.5 507.12,355.5 507.12,355.5 507.47,355.5 507.47,306.2 507.83,306.2 507.83,306.2 508.18,306.2 508.18,355.5 508.53,355.5 508.53,355.5 508.89,355.5 508.89,306.2 509.24,306.2 509.24,355.5 509.59,355.5 509.59,355.5 509.95,355.5 509.95,297.2 510.30,297.2 510.30,355.5 510.66,355.5 510.66,355.5 511.01,355.5 511.01,306.2 511.36,306.2 511.36,306.2 511.72,306.2 511.72,355.5 512.07,355.5 512.07,355.5 512.43,355.5 512.43,297.2 512.78,297.2 512.78,306.2 513.13,306.2 513.13,355.5 513.49,355.5 513.49,355.5 513.84,355.5 513.84,355.5 514.19,355.5 514.19,355.5 514.55,355.5 514.55,355.5 514.90,355.5 514.90,355.5 515.26,355.5 515.26,355.5 515.61,355.5 515.61,355.5 515.96,355.5 515.96,355.5 516.32,355.5 516.32,355.5 516.67,355.5 516.67,355.5 517.02,355.5 517.02,355.5 517.38,355.5 517.38,355.5 517.73,355.5 517.73,355.5 518.09,355.5 518.09,355.5 518.44,355.5 518.44,355.5 518.79,355.5 518.79,306.2 519.15,306.2 519.15,355.5 519.50,355.5 519.50,306.2 519.86,306.2 519.86,355.5 520.21,355.5 520.21,355.5 520.56,355.5 520.56,355.5 520.92,355.5 520.92,355.5 521.27,355.5 521.27,355.5 521.62,355.5 521.62,355.5 521.98,355.5 521.98,355.5 522.33,355.5 522.33,306.2 522.69,306.2 522.69,355.5 523.04,355.5 523.04,306.2 523.39,306.2 523.39,297.2 523.75,297.2 523.75,355.5 524.10,355.5 524.10,355.5 524.46,355.5 524.46,355.5 524.81,355.5 524.81,355.5 525.16,355.5 525.16,306.2 525.52,306.2 525.52,355.5 525.87,355.5 525.87,355.5 526.22,355.5 526.22,355.5 526.58,355.5 526.58,306.2 526.93,306.2 526.93,355.5 527.29,355.5 527.29,355.5 527.64,355.5 527.64,355.5 527.99,355.5 527.99,355.5 528.35,355.5 528.35,355.5 528.70,355.5 528.70,355.5 529.05,355.5 529.05,355.5 529.41,355.5 529.41,355.5 529.76,355.5 529.76,355.5 530.12,355.5 530.12,355.5 530.47,355.5 530.47,355.5 530.82,355.5 530.82,355.5 531.18,355.5 531.18,355.5 531.53,355.5 531.53,306.2 531.89,306.2 531.89,297.2 532.24,297.2 532.24,306.2 532.59,306.2 532.59,355.5 532.95,355.5 532.95,355.5 533.30,355.5 533.30,355.5 533.65,355.5 533.65,355.5 534.01,355.5 534.01,355.5 534.36,355.5 534.36,355.5 534.72,355.5 534.72,355.5 535.07,355.5 535.07,355.5 535.42,355.5 535.42,355.5 535.78,355.5 535.78,306.2 536.13,306.2 536.13,355.5 536.49,355.5 536.49,355.5 536.84,355.5 536.84,355.5 537.19,355.5 537.19,355.5 537.55,355.5 537.55,297.2 537.90,297.2 537.90,355.5 538.25,355.5 538.25,297.2 538.61,297.2 538.61,306.2 538.96,306.2 538.96,306.2 539.32,306.2 539.32,355.5 539.67,355.5 539.67,355.5 540.02,355.5 540.02,355.5 540.38,355.5 540.38,355.5 540.73,355.5 540.73,355.5 541.09,355.5 541.09,355.5 541.44,355.5 541.44,306.2 541.79,306.2 541.79,306.2 542.15,306.2 542.15,355.5 542.50,355.5 542.50,355.5 542.85,355.5 542.85,355.5 543.21,355.5 543.21,355.5 543.56,355.5 543.56,306.2 543.92,306.2 543.92,306.2 544.27,306.2 544.27,306.2 544.62,306.2 544.62,355.5 544.98,355.5 544.98,355.5 545.33,355.5 545.33,355.5 545.68,355.5 545.68,355.5 546.04,355.5 546.04,355.5 546.39,355.5 546.39,355.5 546.75,355.5 546.75,355.5 547.10,355.5 547.10,355.5 547.45,355.5 547.45,355.5 547.81,355.5 547.81,355.5 548.16,355.5 548.16,306.2 548.52,306.2 548.52,355.5 548.87,355.5 548.87,355.5 549.22,355.5 549.22,355.5 549.58,355.5 549.58,355.5 549.93,355.5 549.93,291.9 550.28,291.9 550.28,355.5 550.64,355.5 550.64,355.5 550.99,355.5 550.99,306.2 551.35,306.2 551.35,355.5 551.70,355.5 551.70,355.5 552.05,355.5 552.05,306.2 552.41,306.2 552.41,355.5 552.76,355.5 552.76,355.5 553.12,355.5 553.12,306.2 553.47,306.2 553.47,355.5 553.82,355.5 553.82,355.5 554.18,355.5 554.18,355.5 554.53,355.5 554.53,306.2 554.88,306.2 554.88,355.5 555.24,355.5 555.24,306.2 555.59,306.2 555.59,355.5 555.95,355.5 555.95,355.5 556.30,355.5 556.30,355.5 556.65,355.5 556.65,355.5 557.01,355.5 557.01,355.5 557.36,355.5 557.36,355.5 557.71,355.5 557.71,297.2 558.07,297.2 558.07,306.2 558.42,306.2 558.42,306.2 558.78,306.2 558.78,306.2 559.13,306.2 559.13,355.5 559.48,355.5 559.48,355.5 559.84,355.5 559.84,355.5 560.19,355.5 560.19,355.5 560.55,355.5 560.55,355.5 560.90,355.5 560.90,355.5 561.25,355.5 561.25,355.5 561.61,355.5 561.61,355.5 561.96,355.5 561.96,355.5 562.31,355.5 562.31,306.2 562.67,306.2 562.67,355.5 563.02,355.5 563.02,306.2 563.38,306.2 563.38,306.2 563.73,306.2 563.73,306.2 564.08,306.2 564.08,355.5 564.44,355.5 564.44,306.2 564.79,306.2 564.79,306.2 565.15,306.2 565.15,355.5 565.50,355.5 565.50,306.2 565.85,306.2 565.85,355.5 566.21,355.5 566.21,306.2 566.56,306.2 566.56,306.2 566.91,306.2 566.91,355.5 567.27,355.5 567.27,355.5 567.62,355.5 567.62,355.5 567.98,355.5 567.98,355.5 568.33,355.5 568.33,306.2 568.68,306.2 568.68,355.5 569.04,355.5 569.04,355.5 569.39,355.5 569.39,355.5 569.74,355.5 569.74,355.5 570.10,355.5 570.10,355.5 570.45,355.5 570.45,355.5 570.81,355.5 570.81,355.5 571.16,355.5 571.16,355.5 571.51,355.5 571.51,355.5 571.87,355.5 571.87,306.2 572.22,306.2 572.22,306.2 572.58,306.2 572.58,355.5 572.93,355.5 572.93,355.5 573.28,355.5 573.28,355.5 573.64,355.5 573.64,355.5 573.99,355.5 573.99,355.5 574.34,355.5 574.34,355.5 574.70,355.5 574.70,355.5 575.05,355.5 575.05,355.5 575.41,355.5 575.41,355.5 575.76,355.5 575.76,355.5 576.11,355.5 576.11,306.2 576.47,306.2 576.47,306.2 576.82,306.2 576.82,306.2 577.18,306.2 577.18,355.5 577.53,355.5 577.53,355.5 577.88,355.5 577.88,306.2 578.24,306.2 578.24,355.5 578.59,355.5 578.59,355.5 578.94,355.5 578.94,306.2 579.30,306.2 579.30,355.5 579.65,355.5 579.65,306.2 580.01,306.2 580.01,355.5 580.36,355.5 580.36,355.5 580.71,355.5 580.71,355.5 581.07,355.5 581.07,355.5 581.42,355.5 581.42,355.5 581.77,355.5 581.77,306.2 582.13,306.2 582.13,355.5 582.48,355.5 582.48,297.2 582.84,297.2 582.84,355.5 583.19,355.5 583.19,355.5 583.54,355.5 583.54,355.5 583.90,355.5 583.90,355.5 584.25,355.5 584.25,291.9 584.61,291.9 584.61,355.5 584.96,355.5 584.96,355.5 585.31,355.5 585.31,355.5 585.67,355.5 585.67,355.5 586.02,355.5 586.02,355.5 586.37,355.5 586.37,355.5 586.73,355.5 586.73,355.5 587.08,355.5 587.08,355.5 587.44,355.5 587.44,306.2 587.79,306.2 587.79,355.5 588.14,355.5 588.14,306.2 588.50,306.2 588.50,306.2 588.85,306.2 588.85,306.2 589.21,306.2 589.21,306.2 589.56,306.2 589.56,355.5 589.91,355.5 589.91,306.2 590.27,306.2 590.27,355.5 590.62,355.5 590.62,355.5 590.97,355.5 590.97,355.5 591.33,355.5 591.33,306.2 591.68,306.2 591.68,355.5 592.04,355.5 592.04,355.5 592.39,355.5 592.39,306.2 592.74,306.2 592.74,355.5 593.10,355.5 593.10,291.9 593.45,291.9 593.45,306.2 593.80,306.2 593.80,297.2 594.16,297.2 594.16,355.5 594.51,355.5 594.51,355.5 594.87,355.5 594.87,355.5 595.22,355.5 595.22,306.2 595.57,306.2 595.57,306.2 595.93,306.2 595.93,355.5 596.28,355.5 596.28,306.2 596.64,306.2 596.64,306.2 596.99,306.2 596.99,355.5 597.34,355.5 597.34,355.5 597.70,355.5 597.70,355.5 598.05,355.5 598.05,355.5 598.40,355.5 598.40,355.5 598.76,355.5 598.76,297.2 599.11,297.2 599.11,355.5 599.47,355.5 599.47,355.5 599.82,355.5 599.82,306.2 600.17,306.2 600.17,355.5 600.53,355.5 600.53,355.5 600.88,355.5 600.88,355.5 601.24,355.5 601.24,355.5 601.59,355.5 601.59,355.5 601.94,355.5 601.94,355.5 602.30,355.5 602.30,306.2 602.65,306.2 602.65,355.5 603.00,355.5 603.00,355.5 603.36,355.5 603.36,306.2 603.71,306.2 603.71,355.5 604.07,355.5 604.07,355.5 604.42,355.5 604.42,355.5 604.77,355.5 604.77,306.2 605.13,306.2 605.13,306.2 605.48,306.2 605.48,355.5 605.84,355.5 605.84,355.5 606.19,355.5 606.19,306.2 606.54,306.2 606.54,306.2 606.90,306.2 606.90,355.5 607.25,355.5 607.25,306.2 607.60,306.2 607.60,297.2 607.96,297.2 607.96,355.5 608.31,355.5 608.31,306.2 608.67,306.2 608.67,355.5 609.02,355.5 609.02,306.2 609.37,306.2 609.37,355.5 609.73,355.5 609.73,355.5 610.08,355.5 610.08,355.5 610.43,355.5 610.43,306.2 610.79,306.2 610.79,355.5 611.14,355.5 611.14,355.5 611.50,355.5 611.50,306.2 611.85,306.2 611.85,306.2 612.20,306.2 612.20,291.9 612.56,291.9 612.56,355.5 612.91,355.5 612.91,297.2 613.27,297.2 613.27,306.2 613.62,306.2 613.62,306.2 613.97,306.2 613.97,355.5 614.33,355.5 614.33,355.5 614.68,355.5 614.68,355.5 615.03,355.5 615.03,306.2 615.39,306.2 615.39,291.9 615.74,291.9 615.74,306.2 616.10,306.2 616.10,297.2 616.45,297.2 616.45,306.2 616.80,306.2 616.80,355.5 617.16,355.5 617.16,355.5 617.51,355.5 617.51,355.5 617.87,355.5 617.87,355.5 618.22,355.5 618.22,355.5 618.57,355.5 618.57,297.2 618.93,297.2 618.93,355.5 619.28,355.5 619.28,355.5 619.63,355.5 619.63,355.5 619.99,355.5 619.99,355.5 620.34,355.5 620.34,306.2 620.70,306.2 620.70,355.5 621.05,355.5 621.05,306.2 621.40,306.2 621.40,288.1 621.76,288.1 621.76,355.5 622.11,355.5 622.11,306.2 622.46,306.2 622.46,306.2 622.82,306.2 622.82,355.5 623.17,355.5 623.17,355.5 623.53,355.5 623.53,306.2 623.88,306.2 623.88,306.2 624.23,306.2 624.23,297.2 624.59,297.2 624.59,297.2 624.94,297.2 624.94,297.2 625.30,297.2 625.30,306.2 625.65,306.2 625.65,306.2 626.00,306.2 626.00,297.2 626.36,297.2 626.36,306.2 626.71,306.2 626.71,306.2 627.06,306.2 627.06,306.2 627.42,306.2 627.42,297.2 627.77,297.2 627.77,297.2 628.13,297.2 628.13,297.2 628.48,297.2 628.48,355.5 628.83,355.5 628.83,306.2 629.19,306.2 629.19,291.9 629.54,291.9 629.54,306.2 629.90,306.2 629.90,297.2 630.25,297.2 630.25,355.5 630.60,355.5 630.60,306.2 630.96,306.2 630.96,297.2 631.31,297.2 631.31,306.2 631.66,306.2 631.66,355.5 632.02,355.5 632.02,355.5 632.37,355.5 632.37,355.5 632.73,355.5 632.73,355.5 633.08,355.5 633.08,355.5 633.43,355.5 633.43,306.2 633.79,306.2 633.79,355.5 634.14,355.5 634.14,306.2 634.49,306.2 634.49,306.2 634.85,306.2 634.85,355.5 635.20,355.5 635.20,355.5 635.56,355.5 635.56,355.5 635.91,355.5 635.91,355.5 636.26,355.5 636.26,355.5 636.62,355.5 636.62,355.5 636.97,355.5 636.97,355.5 637.33,355.5 637.33,355.5 637.68,355.5 637.68,355.5 638.03,355.5 638.03,355.5 638.39,355.5 638.39,355.5 638.74,355.5 638.74,355.5 639.09,355.5 639.09,355.5 639.45,355.5 639.45,306.2 639.80,306.2 639.80,355.5 640.16,355.5 640.16,355.5 640.51,355.5 640.51,306.2 640.86,306.2 640.86,355.5 641.22,355.5 641.22,355.5 641.57,355.5 641.57,355.5 641.93,355.5 641.93,355.5 642.28,355.5 642.28,355.5 642.63,355.5 642.63,355.5 642.99,355.5 642.99,306.2 643.34,306.2 643.34,355.5 643.69,355.5 643.69,306.2 644.05,306.2 644.05,355.5 644.40,355.5 644.40,297.2 644.76,297.2 644.76,306.2 645.11,306.2 645.11,355.5 645.46,355.5 645.46,355.5 645.82,355.5 645.82,355.5 646.17,355.5 646.17,306.2 646.52,306.2 646.52,355.5 646.88,355.5 646.88,355.5 647.23,355.5 647.23,355.5 647.59,355.5 647.59,306.2 647.94,306.2 647.94,297.2 648.29,297.2 648.29,355.5 648.65,355.5 648.65,355.5 649.00,355.5 649.00,355.5 649.36,355.5 649.36,355.5 649.71,355.5 649.71,306.2 650.06,306.2 650.06,355.5 650.42,355.5 650.42,355.5 650.77,355.5 650.77,355.5 651.12,355.5 651.12,355.5 651.48,355.5 651.48,306.2 651.83,306.2 651.83,355.5 652.19,355.5 652.19,355.5 652.54,355.5 652.54,355.5 652.89,355.5 652.89,355.5 653.25,355.5 653.25,355.5 653.60,355.5 653.60,355.5 653.96,355.5 653.96,355.5 654.31,355.5 654.31,355.5 654.66,355.5 654.66,355.5 655.02,355.5 655.02,355.5 655.37,355.5 655.37,355.5 655.72,355.5 655.72,355.5 656.08,355.5 656.08,355.5 656.43,355.5 656.43,355.5 656.79,355.5 656.79,306.2 657.14,306.2 657.14,306.2 657.49,306.2 657.49,297.2 657.85,297.2 657.85,306.2 658.20,306.2 658.20,355.5 658.55,355.5 658.55,306.2 658.91,306.2 658.91,355.5 659.26,355.5 659.26,355.5 659.62,355.5 659.62,355.5 659.97,355.5 659.97,355.5 660.32,355.5 660.32,355.5 660.68,355.5 660.68,355.5 661.03,355.5 661.03,306.2 661.39,306.2 661.39,355.5 661.74,355.5 661.74,355.5 662.09,355.5 662.09,355.5 662.45,355.5 662.45,306.2 662.80,306.2 662.80,306.2 663.15,306.2 663.15,355.5 663.51,355.5 663.51,355.5 663.86,355.5 663.86,355.5 664.22,355.5 664.22,355.5 664.57,355.5 664.57,355.5 664.92,355.5 664.92,306.2 665.28,306.2 665.28,355.5 665.63,355.5 665.63,355.5 665.99,355.5 665.99,355.5 666.34,355.5 666.34,355.5 666.69,355.5 666.69,355.5 667.05,355.5 667.05,306.2 667.40,306.2 667.40,355.5 667.75,355.5 667.75,306.2 668.11,306.2 668.11,306.2 668.46,306.2 668.46,355.5 668.82,355.5 668.82,355.5 669.17,355.5 669.17,306.2 669.52,306.2 669.52,355.5 669.88,355.5 669.88,306.2 670.23,306.2 670.23,355.5 670.59,355.5 670.59,306.2 670.94,306.2 670.94,355.5 671.29,355.5 671.29,355.5 671.65,355.5 671.65,355.5 672.00,355.5 672.00,306.2 672.35,306.2 672.35,355.5 672.71,355.5 672.71,306.2 673.06,306.2 673.06,355.5 673.42,355.5 673.42,355.5 673.77,355.5 673.77,355.5 674.12,355.5 674.12,355.5 674.48,355.5 674.48,355.5 674.83,355.5 674.83,355.5 675.18,355.5 675.18,306.2 675.54,306.2 675.54,306.2 675.89,306.2 675.89,355.5 676.25,355.5 676.25,355.5 676.60,355.5 676.60,355.5 676.95,355.5 676.95,355.5 677.31,355.5 677.31,355.5 677.66,355.5 677.66,306.2 678.02,306.2 678.02,355.5 678.37,355.5 678.37,355.5 678.72,355.5 678.72,306.2 679.08,306.2 679.08,355.5 679.43,355.5 679.43,306.2 679.78,306.2 679.78,355.5 680.14,355.5 680.14,355.5 680.49,355.5 680.49,355.5 680.85,355.5 680.85,355.5 681.20,355.5 681.20,355.5 681.55,355.5 681.55,355.5 681.91,355.5 681.91,355.5 682.26,355.5 682.26,355.5 682.62,355.5 682.62,306.2 682.97,306.2 682.97,355.5 683.32,355.5 683.32,355.5 683.68,355.5 683.68,306.2 684.03,306.2 684.03,355.5 684.38,355.5 684.38,355.5 684.74,355.5" fill="none" stroke="#000" stroke-width="1.0"/></g>
<line x1="90.4" x2="90.4" y1="0.5" y2="180.2" stroke="#c030c0" stroke-width="0.9" stroke-dasharray="2.4,1.4"/>
<line x1="211.4" x2="211.4" y1="0.5" y2="180.2" stroke="#c030c0" stroke-width="0.9" stroke-dasharray="2.4,1.4"/>
<line x1="215.1" x2="215.1" y1="0.5" y2="180.2" stroke="#5050ff" stroke-width="0.9" stroke-dasharray="2.4,1.4"/>
<line x1="288.3" x2="288.3" y1="0.5" y2="180.2" stroke="#2020f0" stroke-width="0.9" stroke-dasharray="2.4,1.4"/>
<line x1="295.4" x2="295.4" y1="0.5" y2="180.2" stroke="#f59a30" stroke-width="0.9" stroke-dasharray="2.4,1.4"/>
<line x1="393.3" x2="393.3" y1="0.5" y2="180.2" stroke="#f59a30" stroke-width="0.9" stroke-dasharray="2.4,1.4"/>
<line x1="444.5" x2="444.5" y1="0.5" y2="180.2" stroke="#20dd20" stroke-width="0.9" stroke-dasharray="2.4,1.4"/>
<line x1="656.6" x2="656.6" y1="0.5" y2="180.2" stroke="#20dd20" stroke-width="0.9" stroke-dasharray="2.4,1.4"/>
<line x1="90.4" x2="90.4" y1="187.6" y2="247.7" stroke="#c030c0" stroke-width="0.9" stroke-dasharray="2.4,1.4"/>
<line x1="211.4" x2="211.4" y1="187.6" y2="247.7" stroke="#c030c0" stroke-width="0.9" stroke-dasharray="2.4,1.4"/>
<line x1="215.1" x2="215.1" y1="187.6" y2="247.7" stroke="#5050ff" stroke-width="0.9" stroke-dasharray="2.4,1.4"/>
<line x1="288.3" x2="288.3" y1="187.6" y2="247.7" stroke="#2020f0" stroke-width="0.9" stroke-dasharray="2.4,1.4"/>
<line x1="295.4" x2="295.4" y1="187.6" y2="247.7" stroke="#f59a30" stroke-width="0.9" stroke-dasharray="2.4,1.4"/>
<line x1="393.3" x2="393.3" y1="187.6" y2="247.7" stroke="#f59a30" stroke-width="0.9" stroke-dasharray="2.4,1.4"/>
<line x1="444.5" x2="444.5" y1="187.6" y2="247.7" stroke="#20dd20" stroke-width="0.9" stroke-dasharray="2.4,1.4"/>
<line x1="656.6" x2="656.6" y1="187.6" y2="247.7" stroke="#20dd20" stroke-width="0.9" stroke-dasharray="2.4,1.4"/>
<line x1="90.4" x2="90.4" y1="255.5" y2="315.5" stroke="#c030c0" stroke-width="0.9" stroke-dasharray="2.4,1.4"/>
<line x1="211.4" x2="211.4" y1="255.5" y2="315.5" stroke="#c030c0" stroke-width="0.9" stroke-dasharray="2.4,1.4"/>
<line x1="215.1" x2="215.1" y1="255.5" y2="315.5" stroke="#5050ff" stroke-width="0.9" stroke-dasharray="2.4,1.4"/>
<line x1="288.3" x2="288.3" y1="255.5" y2="315.5" stroke="#2020f0" stroke-width="0.9" stroke-dasharray="2.4,1.4"/>
<line x1="295.4" x2="295.4" y1="255.5" y2="315.5" stroke="#f59a30" stroke-width="0.9" stroke-dasharray="2.4,1.4"/>
<line x1="393.3" x2="393.3" y1="255.5" y2="315.5" stroke="#f59a30" stroke-width="0.9" stroke-dasharray="2.4,1.4"/>
<line x1="444.5" x2="444.5" y1="255.5" y2="315.5" stroke="#20dd20" stroke-width="0.9" stroke-dasharray="2.4,1.4"/>
<line x1="656.6" x2="656.6" y1="255.5" y2="315.5" stroke="#20dd20" stroke-width="0.9" stroke-dasharray="2.4,1.4"/>
<rect x="33.3" y="0.4" width="651.0" height="179.79999999999998" fill="none" stroke="#8a8a8a" stroke-width="0.6"/>
<rect x="33.3" y="187.5" width="651.0" height="60.199999999999996" fill="none" stroke="#8a8a8a" stroke-width="0.6"/>
<rect x="33.3" y="255.4" width="651.0" height="60.1" fill="none" stroke="#8a8a8a" stroke-width="0.6"/>
<line x1="31.5" x2="33.5" y1="144.21" y2="144.21" stroke="#222" stroke-width="0.7"/>
<line x1="31.5" x2="33.5" y1="105.24" y2="105.24" stroke="#222" stroke-width="0.7"/>
<line x1="31.5" x2="33.5" y1="66.27" y2="66.27" stroke="#222" stroke-width="0.7"/>
<line x1="31.5" x2="33.5" y1="27.30" y2="27.30" stroke="#222" stroke-width="0.7"/>
<line x1="32.4" x2="33.7" y1="171.45" y2="171.45" stroke="#111" stroke-width="0.75"/>
<line x1="32.4" x2="33.7" y1="164.59" y2="164.59" stroke="#111" stroke-width="0.75"/>
<line x1="32.4" x2="33.7" y1="159.72" y2="159.72" stroke="#111" stroke-width="0.75"/>
<line x1="32.4" x2="33.7" y1="155.94" y2="155.94" stroke="#111" stroke-width="0.75"/>
<line x1="32.4" x2="33.7" y1="152.86" y2="152.86" stroke="#111" stroke-width="0.75"/>
<line x1="32.4" x2="33.7" y1="150.25" y2="150.25" stroke="#111" stroke-width="0.75"/>
<line x1="32.4" x2="33.7" y1="147.99" y2="147.99" stroke="#111" stroke-width="0.75"/>
<line x1="32.4" x2="33.7" y1="145.99" y2="145.99" stroke="#111" stroke-width="0.75"/>
<line x1="32.4" x2="33.7" y1="132.48" y2="132.48" stroke="#111" stroke-width="0.75"/>
<line x1="32.4" x2="33.7" y1="125.62" y2="125.62" stroke="#111" stroke-width="0.75"/>
<line x1="32.4" x2="33.7" y1="120.75" y2="120.75" stroke="#111" stroke-width="0.75"/>
<line x1="32.4" x2="33.7" y1="116.97" y2="116.97" stroke="#111" stroke-width="0.75"/>
<line x1="32.4" x2="33.7" y1="113.89" y2="113.89" stroke="#111" stroke-width="0.75"/>
<line x1="32.4" x2="33.7" y1="111.28" y2="111.28" stroke="#111" stroke-width="0.75"/>
<line x1="32.4" x2="33.7" y1="109.02" y2="109.02" stroke="#111" stroke-width="0.75"/>
<line x1="32.4" x2="33.7" y1="107.02" y2="107.02" stroke="#111" stroke-width="0.75"/>
<line x1="32.4" x2="33.7" y1="93.51" y2="93.51" stroke="#111" stroke-width="0.75"/>
<line x1="32.4" x2="33.7" y1="86.65" y2="86.65" stroke="#111" stroke-width="0.75"/>
<line x1="32.4" x2="33.7" y1="81.78" y2="81.78" stroke="#111" stroke-width="0.75"/>
<line x1="32.4" x2="33.7" y1="78.00" y2="78.00" stroke="#111" stroke-width="0.75"/>
<line x1="32.4" x2="33.7" y1="74.92" y2="74.92" stroke="#111" stroke-width="0.75"/>
<line x1="32.4" x2="33.7" y1="72.31" y2="72.31" stroke="#111" stroke-width="0.75"/>
<line x1="32.4" x2="33.7" y1="70.05" y2="70.05" stroke="#111" stroke-width="0.75"/>
<line x1="32.4" x2="33.7" y1="68.05" y2="68.05" stroke="#111" stroke-width="0.75"/>
<line x1="32.4" x2="33.7" y1="54.54" y2="54.54" stroke="#111" stroke-width="0.75"/>
<line x1="32.4" x2="33.7" y1="47.68" y2="47.68" stroke="#111" stroke-width="0.75"/>
<line x1="32.4" x2="33.7" y1="42.81" y2="42.81" stroke="#111" stroke-width="0.75"/>
<line x1="32.4" x2="33.7" y1="39.03" y2="39.03" stroke="#111" stroke-width="0.75"/>
<line x1="32.4" x2="33.7" y1="35.95" y2="35.95" stroke="#111" stroke-width="0.75"/>
<line x1="32.4" x2="33.7" y1="33.34" y2="33.34" stroke="#111" stroke-width="0.75"/>
<line x1="32.4" x2="33.7" y1="31.08" y2="31.08" stroke="#111" stroke-width="0.75"/>
<line x1="32.4" x2="33.7" y1="29.08" y2="29.08" stroke="#111" stroke-width="0.75"/>
<line x1="32.4" x2="33.7" y1="15.57" y2="15.57" stroke="#111" stroke-width="0.75"/>
<line x1="32.4" x2="33.7" y1="8.71" y2="8.71" stroke="#111" stroke-width="0.75"/>
<line x1="32.4" x2="33.7" y1="3.84" y2="3.84" stroke="#111" stroke-width="0.75"/>
<line x1="90.31" x2="90.31" y1="180.2" y2="182.0" stroke="#222" stroke-width="0.7"/>
<line x1="231.84" x2="231.84" y1="180.2" y2="182.0" stroke="#222" stroke-width="0.7"/>
<line x1="373.37" x2="373.37" y1="180.2" y2="182.0" stroke="#222" stroke-width="0.7"/>
<line x1="514.90" x2="514.90" y1="180.2" y2="182.0" stroke="#222" stroke-width="0.7"/>
<line x1="656.43" x2="656.43" y1="180.2" y2="182.0" stroke="#222" stroke-width="0.7"/>
<line x1="33.70" x2="33.70" y1="180.2" y2="181.2" stroke="#222" stroke-width="0.5"/>
<line x1="62.01" x2="62.01" y1="180.2" y2="181.2" stroke="#222" stroke-width="0.5"/>
<line x1="118.62" x2="118.62" y1="180.2" y2="181.2" stroke="#222" stroke-width="0.5"/>
<line x1="146.92" x2="146.92" y1="180.2" y2="181.2" stroke="#222" stroke-width="0.5"/>
<line x1="175.23" x2="175.23" y1="180.2" y2="181.2" stroke="#222" stroke-width="0.5"/>
<line x1="203.54" x2="203.54" y1="180.2" y2="181.2" stroke="#222" stroke-width="0.5"/>
<line x1="260.15" x2="260.15" y1="180.2" y2="181.2" stroke="#222" stroke-width="0.5"/>
<line x1="288.45" x2="288.45" y1="180.2" y2="181.2" stroke="#222" stroke-width="0.5"/>
<line x1="316.76" x2="316.76" y1="180.2" y2="181.2" stroke="#222" stroke-width="0.5"/>
<line x1="345.07" x2="345.07" y1="180.2" y2="181.2" stroke="#222" stroke-width="0.5"/>
<line x1="401.68" x2="401.68" y1="180.2" y2="181.2" stroke="#222" stroke-width="0.5"/>
<line x1="429.98" x2="429.98" y1="180.2" y2="181.2" stroke="#222" stroke-width="0.5"/>
<line x1="458.29" x2="458.29" y1="180.2" y2="181.2" stroke="#222" stroke-width="0.5"/>
<line x1="486.60" x2="486.60" y1="180.2" y2="181.2" stroke="#222" stroke-width="0.5"/>
<line x1="543.21" x2="543.21" y1="180.2" y2="181.2" stroke="#222" stroke-width="0.5"/>
<line x1="571.51" x2="571.51" y1="180.2" y2="181.2" stroke="#222" stroke-width="0.5"/>
<line x1="599.82" x2="599.82" y1="180.2" y2="181.2" stroke="#222" stroke-width="0.5"/>
<line x1="628.13" x2="628.13" y1="180.2" y2="181.2" stroke="#222" stroke-width="0.5"/>
<line x1="684.74" x2="684.74" y1="180.2" y2="181.2" stroke="#222" stroke-width="0.5"/>
<line x1="31.5" x2="33.5" y1="240.70" y2="240.70" stroke="#222" stroke-width="0.7"/>
<line x1="31.5" x2="33.5" y1="217.45" y2="217.45" stroke="#222" stroke-width="0.7"/>
<line x1="31.5" x2="33.5" y1="194.20" y2="194.20" stroke="#222" stroke-width="0.7"/>
<line x1="32.4" x2="33.7" y1="247.70" y2="247.70" stroke="#111" stroke-width="0.75"/>
<line x1="32.4" x2="33.7" y1="245.86" y2="245.86" stroke="#111" stroke-width="0.75"/>
<line x1="32.4" x2="33.7" y1="244.30" y2="244.30" stroke="#111" stroke-width="0.75"/>
<line x1="32.4" x2="33.7" y1="242.95" y2="242.95" stroke="#111" stroke-width="0.75"/>
<line x1="32.4" x2="33.7" y1="241.76" y2="241.76" stroke="#111" stroke-width="0.75"/>
<line x1="32.4" x2="33.7" y1="233.70" y2="233.70" stroke="#111" stroke-width="0.75"/>
<line x1="32.4" x2="33.7" y1="229.61" y2="229.61" stroke="#111" stroke-width="0.75"/>
<line x1="32.4" x2="33.7" y1="226.70" y2="226.70" stroke="#111" stroke-width="0.75"/>
<line x1="32.4" x2="33.7" y1="224.45" y2="224.45" stroke="#111" stroke-width="0.75"/>
<line x1="32.4" x2="33.7" y1="222.61" y2="222.61" stroke="#111" stroke-width="0.75"/>
<line x1="32.4" x2="33.7" y1="221.05" y2="221.05" stroke="#111" stroke-width="0.75"/>
<line x1="32.4" x2="33.7" y1="219.70" y2="219.70" stroke="#111" stroke-width="0.75"/>
<line x1="32.4" x2="33.7" y1="218.51" y2="218.51" stroke="#111" stroke-width="0.75"/>
<line x1="32.4" x2="33.7" y1="210.45" y2="210.45" stroke="#111" stroke-width="0.75"/>
<line x1="32.4" x2="33.7" y1="206.36" y2="206.36" stroke="#111" stroke-width="0.75"/>
<line x1="32.4" x2="33.7" y1="203.45" y2="203.45" stroke="#111" stroke-width="0.75"/>
<line x1="32.4" x2="33.7" y1="201.20" y2="201.20" stroke="#111" stroke-width="0.75"/>
<line x1="32.4" x2="33.7" y1="199.36" y2="199.36" stroke="#111" stroke-width="0.75"/>
<line x1="32.4" x2="33.7" y1="197.80" y2="197.80" stroke="#111" stroke-width="0.75"/>
<line x1="32.4" x2="33.7" y1="196.45" y2="196.45" stroke="#111" stroke-width="0.75"/>
<line x1="32.4" x2="33.7" y1="195.26" y2="195.26" stroke="#111" stroke-width="0.75"/>
<line x1="90.31" x2="90.31" y1="247.7" y2="249.5" stroke="#222" stroke-width="0.7"/>
<line x1="231.84" x2="231.84" y1="247.7" y2="249.5" stroke="#222" stroke-width="0.7"/>
<line x1="373.37" x2="373.37" y1="247.7" y2="249.5" stroke="#222" stroke-width="0.7"/>
<line x1="514.90" x2="514.90" y1="247.7" y2="249.5" stroke="#222" stroke-width="0.7"/>
<line x1="656.43" x2="656.43" y1="247.7" y2="249.5" stroke="#222" stroke-width="0.7"/>
<line x1="33.70" x2="33.70" y1="247.7" y2="248.7" stroke="#222" stroke-width="0.5"/>
<line x1="62.01" x2="62.01" y1="247.7" y2="248.7" stroke="#222" stroke-width="0.5"/>
<line x1="118.62" x2="118.62" y1="247.7" y2="248.7" stroke="#222" stroke-width="0.5"/>
<line x1="146.92" x2="146.92" y1="247.7" y2="248.7" stroke="#222" stroke-width="0.5"/>
<line x1="175.23" x2="175.23" y1="247.7" y2="248.7" stroke="#222" stroke-width="0.5"/>
<line x1="203.54" x2="203.54" y1="247.7" y2="248.7" stroke="#222" stroke-width="0.5"/>
<line x1="260.15" x2="260.15" y1="247.7" y2="248.7" stroke="#222" stroke-width="0.5"/>
<line x1="288.45" x2="288.45" y1="247.7" y2="248.7" stroke="#222" stroke-width="0.5"/>
<line x1="316.76" x2="316.76" y1="247.7" y2="248.7" stroke="#222" stroke-width="0.5"/>
<line x1="345.07" x2="345.07" y1="247.7" y2="248.7" stroke="#222" stroke-width="0.5"/>
<line x1="401.68" x2="401.68" y1="247.7" y2="248.7" stroke="#222" stroke-width="0.5"/>
<line x1="429.98" x2="429.98" y1="247.7" y2="248.7" stroke="#222" stroke-width="0.5"/>
<line x1="458.29" x2="458.29" y1="247.7" y2="248.7" stroke="#222" stroke-width="0.5"/>
<line x1="486.60" x2="486.60" y1="247.7" y2="248.7" stroke="#222" stroke-width="0.5"/>
<line x1="543.21" x2="543.21" y1="247.7" y2="248.7" stroke="#222" stroke-width="0.5"/>
<line x1="571.51" x2="571.51" y1="247.7" y2="248.7" stroke="#222" stroke-width="0.5"/>
<line x1="599.82" x2="599.82" y1="247.7" y2="248.7" stroke="#222" stroke-width="0.5"/>
<line x1="628.13" x2="628.13" y1="247.7" y2="248.7" stroke="#222" stroke-width="0.5"/>
<line x1="684.74" x2="684.74" y1="247.7" y2="248.7" stroke="#222" stroke-width="0.5"/>
<line x1="31.5" x2="33.5" y1="306.20" y2="306.20" stroke="#222" stroke-width="0.7"/>
<line x1="31.5" x2="33.5" y1="276.20" y2="276.20" stroke="#222" stroke-width="0.7"/>
<line x1="32.4" x2="33.7" y1="315.23" y2="315.23" stroke="#111" stroke-width="0.75"/>
<line x1="32.4" x2="33.7" y1="312.86" y2="312.86" stroke="#111" stroke-width="0.75"/>
<line x1="32.4" x2="33.7" y1="310.85" y2="310.85" stroke="#111" stroke-width="0.75"/>
<line x1="32.4" x2="33.7" y1="309.11" y2="309.11" stroke="#111" stroke-width="0.75"/>
<line x1="32.4" x2="33.7" y1="307.57" y2="307.57" stroke="#111" stroke-width="0.75"/>
<line x1="32.4" x2="33.7" y1="297.17" y2="297.17" stroke="#111" stroke-width="0.75"/>
<line x1="32.4" x2="33.7" y1="291.89" y2="291.89" stroke="#111" stroke-width="0.75"/>
<line x1="32.4" x2="33.7" y1="288.14" y2="288.14" stroke="#111" stroke-width="0.75"/>
<line x1="32.4" x2="33.7" y1="285.23" y2="285.23" stroke="#111" stroke-width="0.75"/>
<line x1="32.4" x2="33.7" y1="282.86" y2="282.86" stroke="#111" stroke-width="0.75"/>
<line x1="32.4" x2="33.7" y1="280.85" y2="280.85" stroke="#111" stroke-width="0.75"/>
<line x1="32.4" x2="33.7" y1="279.11" y2="279.11" stroke="#111" stroke-width="0.75"/>
<line x1="32.4" x2="33.7" y1="277.57" y2="277.57" stroke="#111" stroke-width="0.75"/>
<line x1="32.4" x2="33.7" y1="267.17" y2="267.17" stroke="#111" stroke-width="0.75"/>
<line x1="32.4" x2="33.7" y1="261.89" y2="261.89" stroke="#111" stroke-width="0.75"/>
<line x1="32.4" x2="33.7" y1="258.14" y2="258.14" stroke="#111" stroke-width="0.75"/>
<line x1="90.31" x2="90.31" y1="315.5" y2="317.3" stroke="#222" stroke-width="0.7"/>
<line x1="231.84" x2="231.84" y1="315.5" y2="317.3" stroke="#222" stroke-width="0.7"/>
<line x1="373.37" x2="373.37" y1="315.5" y2="317.3" stroke="#222" stroke-width="0.7"/>
<line x1="514.90" x2="514.90" y1="315.5" y2="317.3" stroke="#222" stroke-width="0.7"/>
<line x1="656.43" x2="656.43" y1="315.5" y2="317.3" stroke="#222" stroke-width="0.7"/>
<line x1="33.70" x2="33.70" y1="315.5" y2="316.5" stroke="#222" stroke-width="0.5"/>
<line x1="62.01" x2="62.01" y1="315.5" y2="316.5" stroke="#222" stroke-width="0.5"/>
<line x1="118.62" x2="118.62" y1="315.5" y2="316.5" stroke="#222" stroke-width="0.5"/>
<line x1="146.92" x2="146.92" y1="315.5" y2="316.5" stroke="#222" stroke-width="0.5"/>
<line x1="175.23" x2="175.23" y1="315.5" y2="316.5" stroke="#222" stroke-width="0.5"/>
<line x1="203.54" x2="203.54" y1="315.5" y2="316.5" stroke="#222" stroke-width="0.5"/>
<line x1="260.15" x2="260.15" y1="315.5" y2="316.5" stroke="#222" stroke-width="0.5"/>
<line x1="288.45" x2="288.45" y1="315.5" y2="316.5" stroke="#222" stroke-width="0.5"/>
<line x1="316.76" x2="316.76" y1="315.5" y2="316.5" stroke="#222" stroke-width="0.5"/>
<line x1="345.07" x2="345.07" y1="315.5" y2="316.5" stroke="#222" stroke-width="0.5"/>
<line x1="401.68" x2="401.68" y1="315.5" y2="316.5" stroke="#222" stroke-width="0.5"/>
<line x1="429.98" x2="429.98" y1="315.5" y2="316.5" stroke="#222" stroke-width="0.5"/>
<line x1="458.29" x2="458.29" y1="315.5" y2="316.5" stroke="#222" stroke-width="0.5"/>
<line x1="486.60" x2="486.60" y1="315.5" y2="316.5" stroke="#222" stroke-width="0.5"/>
<line x1="543.21" x2="543.21" y1="315.5" y2="316.5" stroke="#222" stroke-width="0.5"/>
<line x1="571.51" x2="571.51" y1="315.5" y2="316.5" stroke="#222" stroke-width="0.5"/>
<line x1="599.82" x2="599.82" y1="315.5" y2="316.5" stroke="#222" stroke-width="0.5"/>
<line x1="628.13" x2="628.13" y1="315.5" y2="316.5" stroke="#222" stroke-width="0.5"/>
<line x1="684.74" x2="684.74" y1="315.5" y2="316.5" stroke="#222" stroke-width="0.5"/>
<g font-family="'DejaVu Sans', 'Liberation Sans', sans-serif" fill="#000">
<text x="31.1" y="148.11" font-size="10.1" text-anchor="end">10<tspan font-size="6.7" dy="-4.4" dx="-0.15">3</tspan></text>
<text x="31.1" y="109.14" font-size="10.1" text-anchor="end">10<tspan font-size="6.7" dy="-4.4" dx="-0.15">4</tspan></text>
<text x="31.1" y="70.17" font-size="10.1" text-anchor="end">10<tspan font-size="6.7" dy="-4.4" dx="-0.15">5</tspan></text>
<text x="31.1" y="31.20" font-size="10.1" text-anchor="end">10<tspan font-size="6.7" dy="-4.4" dx="-0.15">6</tspan></text>
<text x="31.1" y="244.60" font-size="10.1" text-anchor="end">10<tspan font-size="6.7" dy="-4.4" dx="-0.15">0</tspan></text>
<text x="31.1" y="221.35" font-size="10.1" text-anchor="end">10<tspan font-size="6.7" dy="-4.4" dx="-0.15">1</tspan></text>
<text x="31.1" y="198.10" font-size="10.1" text-anchor="end">10<tspan font-size="6.7" dy="-4.4" dx="-0.15">2</tspan></text>
<text x="31.1" y="310.10" font-size="10.1" text-anchor="end">10<tspan font-size="6.7" dy="-4.4" dx="-0.15">0</tspan></text>
<text x="31.1" y="280.10" font-size="10.1" text-anchor="end">10<tspan font-size="6.7" dy="-4.4" dx="-0.15">1</tspan></text>
<text x="90.31" y="326.7" font-size="10.1" text-anchor="middle">5000</text>
<text x="231.84" y="326.7" font-size="10.1" text-anchor="middle">6000</text>
<text x="373.37" y="326.7" font-size="10.1" text-anchor="middle">7000</text>
<text x="514.90" y="326.7" font-size="10.1" text-anchor="middle">8000</text>
<text x="656.43" y="326.7" font-size="10.1" text-anchor="middle">9000</text>
<text x="359" y="338.6" font-size="12" text-anchor="middle">alpha energy (keV)</text>
<text transform="translate(8.9,171.2) rotate(-90)" font-size="12" text-anchor="middle">counts</text>
<text x="40.6" y="43.1" font-size="11">started at 9.6 days</text>
<text x="40.6" y="60.8" font-size="11">measured for 6.5 days</text>
<text x="40.6" y="201.0" font-size="11">started at 153.5 days</text>
<text x="40.6" y="215.5" font-size="11">measured for 14.0 days</text>
<text x="40.6" y="267.7" font-size="11">started at 299.5 days</text>
<text x="40.6" y="282.7" font-size="11">measured for 52.3 days</text>
<text x="678.3" y="42.5" font-size="12" text-anchor="end">a</text>
<text x="678.3" y="200.5" font-size="12" text-anchor="end">b</text>
<text x="678.3" y="268.2" font-size="12" text-anchor="end">c</text>
<text x="132.6" y="26.8" font-size="11" fill="#bf00bf"><tspan font-size="7.7" dy="-4">225</tspan><tspan dy="4" dx="0.8">Ac</tspan></text>
<text x="217.6" y="40.5" font-size="11" fill="#00bfbf"><tspan font-size="7.7" dy="-4">213</tspan><tspan dy="4" dx="0.8">Bi</tspan></text>
<text x="246.2" y="26.6" font-size="11" fill="#0000ff"><tspan font-size="7.7" dy="-4">221</tspan><tspan dy="4" dx="0.8">Fr</tspan></text>
<text x="316.7" y="26.5" font-size="11" fill="#ff8000"><tspan font-size="7.7" dy="-4">217</tspan><tspan dy="4" dx="0.8">At</tspan></text>
<text x="458.4" y="118.5" font-size="11" fill="#6a5acd"><tspan font-size="7.7" dy="-4">217</tspan><tspan dy="4" dx="0.8">Rn</tspan></text>
<text x="585.6" y="26.5" font-size="11" fill="#00ee00"><tspan font-size="7.7" dy="-4">213</tspan><tspan dy="4" dx="0.8">Po</tspan></text>
</g>
</svg>
</body></html>
